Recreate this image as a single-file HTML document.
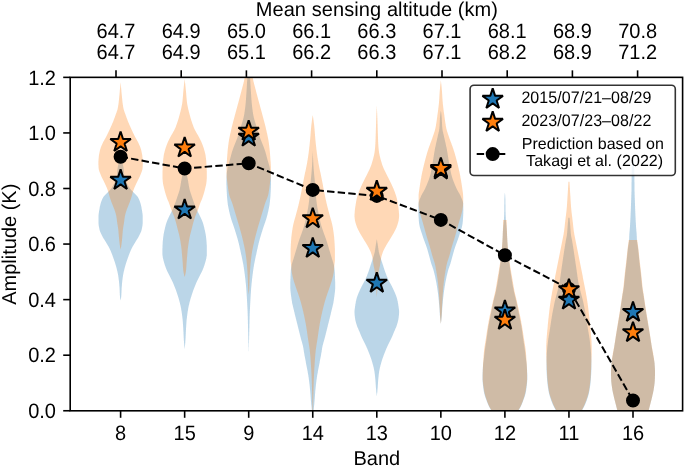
<!DOCTYPE html>
<html><head><meta charset="utf-8"><style>
html,body{margin:0;padding:0;background:#fff;}
body{width:685px;height:467px;overflow:hidden;font-family:"Liberation Sans",sans-serif;}
svg{display:block;will-change:transform;}
</style></head><body>
<svg width="685" height="467" viewBox="0 0 685 467" text-rendering="geometricPrecision">
<rect width="685" height="467" fill="#fff"/>
<defs><clipPath id="ax"><rect x="70.2" y="77.35" width="612.4" height="333.45000000000005"/></clipPath></defs>
<g clip-path="url(#ax)">
<path d="M120.6,158.0 L120.4,158.5 L120.2,159.0 L120.0,159.5 L119.8,160.0 L119.6,160.5 L119.4,161.0 L119.3,161.5 L119.1,162.0 L118.9,162.5 L118.8,163.0 L118.6,163.5 L118.5,164.0 L118.4,164.5 L118.2,165.0 L118.1,165.5 L118.0,166.0 L117.9,166.5 L117.8,167.0 L117.7,167.5 L117.7,168.0 L117.6,168.5 L117.5,169.0 L117.5,169.5 L117.4,170.0 L117.3,170.5 L117.3,171.0 L117.3,171.5 L117.2,172.0 L117.2,172.5 L117.2,173.0 L117.1,173.5 L117.1,174.0 L117.1,174.5 L117.0,175.0 L117.0,175.5 L116.9,176.0 L116.8,176.5 L116.7,177.0 L116.6,177.5 L116.4,178.0 L116.3,178.5 L116.1,179.0 L115.9,179.5 L115.7,180.0 L115.4,180.5 L115.2,181.0 L115.0,181.5 L114.8,182.0 L114.6,182.5 L114.4,183.0 L114.1,183.5 L113.9,184.0 L113.6,184.5 L113.4,185.0 L113.1,185.5 L112.8,186.0 L112.5,186.5 L112.2,187.0 L111.9,187.5 L111.6,188.0 L111.2,188.5 L110.9,189.0 L110.4,189.5 L110.0,190.0 L109.5,190.5 L109.0,191.0 L108.5,191.5 L108.1,192.0 L107.6,192.5 L107.1,193.0 L106.6,193.5 L106.1,194.0 L105.6,194.5 L105.1,195.0 L104.6,195.5 L104.2,196.0 L103.7,196.5 L103.4,197.0 L103.1,197.5 L102.8,198.0 L102.6,198.5 L102.3,199.0 L102.1,199.5 L101.9,200.0 L101.7,200.5 L101.5,201.0 L101.3,201.5 L101.1,202.0 L101.0,202.5 L100.8,203.0 L100.7,203.5 L100.5,204.0 L100.4,204.5 L100.3,205.0 L100.2,205.5 L100.0,206.0 L99.9,206.5 L99.8,207.0 L99.7,207.5 L99.6,208.0 L99.6,208.5 L99.5,209.0 L99.4,209.5 L99.3,210.0 L99.2,210.5 L99.1,211.0 L99.0,211.5 L99.0,212.0 L98.9,212.5 L98.8,213.0 L98.7,213.5 L98.7,214.0 L98.6,214.5 L98.6,215.0 L98.5,215.5 L98.5,216.0 L98.5,216.5 L98.5,217.0 L98.5,217.5 L98.5,218.0 L98.5,218.5 L98.5,219.0 L98.5,219.5 L98.5,220.0 L98.5,220.5 L98.5,221.0 L98.5,221.5 L98.5,222.0 L98.5,222.5 L98.5,223.0 L98.5,223.5 L98.6,224.0 L98.6,224.5 L98.7,225.0 L98.7,225.5 L98.8,226.0 L98.9,226.5 L99.0,227.0 L99.1,227.5 L99.2,228.0 L99.3,228.5 L99.4,229.0 L99.5,229.5 L99.6,230.0 L99.8,230.5 L99.9,231.0 L100.1,231.5 L100.3,232.0 L100.5,232.5 L100.8,233.0 L101.0,233.5 L101.2,234.0 L101.5,234.5 L101.7,235.0 L102.0,235.5 L102.2,236.0 L102.5,236.5 L102.7,237.0 L103.0,237.5 L103.3,238.0 L103.6,238.5 L103.9,239.0 L104.3,239.5 L104.6,240.0 L104.9,240.5 L105.2,241.0 L105.5,241.5 L105.8,242.0 L106.1,242.5 L106.4,243.0 L106.7,243.5 L107.0,244.0 L107.3,244.5 L107.6,245.0 L107.9,245.5 L108.2,246.0 L108.5,246.5 L108.8,247.0 L109.0,247.5 L109.3,248.0 L109.5,248.5 L109.8,249.0 L110.0,249.5 L110.2,250.0 L110.5,250.5 L110.7,251.0 L110.9,251.5 L111.1,252.0 L111.3,252.5 L111.5,253.0 L111.7,253.5 L111.9,254.0 L112.1,254.5 L112.3,255.0 L112.5,255.5 L112.6,256.0 L112.8,256.5 L113.0,257.0 L113.2,257.5 L113.4,258.0 L113.5,258.5 L113.7,259.0 L113.9,259.5 L114.1,260.0 L114.2,260.5 L114.4,261.0 L114.6,261.5 L114.8,262.0 L114.9,262.5 L115.1,263.0 L115.2,263.5 L115.4,264.0 L115.5,264.5 L115.7,265.0 L115.8,265.5 L116.0,266.0 L116.1,266.5 L116.3,267.0 L116.4,267.5 L116.5,268.0 L116.7,268.5 L116.8,269.0 L116.9,269.5 L117.0,270.0 L117.1,270.5 L117.3,271.0 L117.4,271.5 L117.5,272.0 L117.6,272.5 L117.7,273.0 L117.8,273.5 L117.9,274.0 L118.0,274.5 L118.1,275.0 L118.2,275.5 L118.3,276.0 L118.3,276.5 L118.4,277.0 L118.5,277.5 L118.5,278.0 L118.6,278.5 L118.7,279.0 L118.7,279.5 L118.8,280.0 L118.9,280.5 L118.9,281.0 L119.0,281.5 L119.0,282.0 L119.1,282.5 L119.1,283.0 L119.2,283.5 L119.2,284.0 L119.3,284.5 L119.3,285.0 L119.3,285.5 L119.4,286.0 L119.4,286.5 L119.5,287.0 L119.5,287.5 L119.5,288.0 L119.6,288.5 L119.6,289.0 L119.6,289.5 L119.6,290.0 L119.7,290.5 L119.7,291.0 L119.7,291.5 L119.7,292.0 L119.7,292.5 L119.8,293.0 L119.8,293.5 L119.8,294.0 L119.8,294.5 L119.9,295.0 L119.9,295.5 L119.9,296.0 L120.0,296.5 L120.0,297.0 L120.1,297.5 L120.2,298.0 L120.2,298.5 L120.3,299.0 L120.4,299.5 L120.5,300.0 L120.6,300.5 L120.6,300.7 L120.6,300.7 L120.6,300.5 L120.7,300.0 L120.8,299.5 L120.9,299.0 L121.0,298.5 L121.0,298.0 L121.1,297.5 L121.2,297.0 L121.2,296.5 L121.3,296.0 L121.3,295.5 L121.3,295.0 L121.4,294.5 L121.4,294.0 L121.4,293.5 L121.4,293.0 L121.5,292.5 L121.5,292.0 L121.5,291.5 L121.5,291.0 L121.5,290.5 L121.6,290.0 L121.6,289.5 L121.6,289.0 L121.6,288.5 L121.7,288.0 L121.7,287.5 L121.7,287.0 L121.8,286.5 L121.8,286.0 L121.9,285.5 L121.9,285.0 L121.9,284.5 L122.0,284.0 L122.0,283.5 L122.1,283.0 L122.1,282.5 L122.2,282.0 L122.2,281.5 L122.3,281.0 L122.3,280.5 L122.4,280.0 L122.5,279.5 L122.5,279.0 L122.6,278.5 L122.7,278.0 L122.7,277.5 L122.8,277.0 L122.9,276.5 L122.9,276.0 L123.0,275.5 L123.1,275.0 L123.2,274.5 L123.3,274.0 L123.4,273.5 L123.5,273.0 L123.6,272.5 L123.7,272.0 L123.8,271.5 L123.9,271.0 L124.1,270.5 L124.2,270.0 L124.3,269.5 L124.4,269.0 L124.5,268.5 L124.7,268.0 L124.8,267.5 L124.9,267.0 L125.1,266.5 L125.2,266.0 L125.4,265.5 L125.5,265.0 L125.7,264.5 L125.8,264.0 L126.0,263.5 L126.1,263.0 L126.3,262.5 L126.4,262.0 L126.6,261.5 L126.8,261.0 L127.0,260.5 L127.1,260.0 L127.3,259.5 L127.5,259.0 L127.7,258.5 L127.8,258.0 L128.0,257.5 L128.2,257.0 L128.4,256.5 L128.6,256.0 L128.7,255.5 L128.9,255.0 L129.1,254.5 L129.3,254.0 L129.5,253.5 L129.7,253.0 L129.9,252.5 L130.1,252.0 L130.3,251.5 L130.5,251.0 L130.7,250.5 L131.0,250.0 L131.2,249.5 L131.4,249.0 L131.7,248.5 L131.9,248.0 L132.2,247.5 L132.4,247.0 L132.7,246.5 L133.0,246.0 L133.3,245.5 L133.6,245.0 L133.9,244.5 L134.2,244.0 L134.5,243.5 L134.8,243.0 L135.1,242.5 L135.4,242.0 L135.7,241.5 L136.0,241.0 L136.3,240.5 L136.6,240.0 L136.9,239.5 L137.3,239.0 L137.6,238.5 L137.9,238.0 L138.2,237.5 L138.5,237.0 L138.7,236.5 L139.0,236.0 L139.2,235.5 L139.5,235.0 L139.7,234.5 L140.0,234.0 L140.2,233.5 L140.4,233.0 L140.7,232.5 L140.9,232.0 L141.1,231.5 L141.3,231.0 L141.4,230.5 L141.6,230.0 L141.7,229.5 L141.8,229.0 L141.9,228.5 L142.0,228.0 L142.1,227.5 L142.2,227.0 L142.3,226.5 L142.4,226.0 L142.5,225.5 L142.5,225.0 L142.6,224.5 L142.6,224.0 L142.7,223.5 L142.7,223.0 L142.7,222.5 L142.7,222.0 L142.7,221.5 L142.7,221.0 L142.7,220.5 L142.7,220.0 L142.7,219.5 L142.7,219.0 L142.7,218.5 L142.7,218.0 L142.7,217.5 L142.7,217.0 L142.7,216.5 L142.7,216.0 L142.7,215.5 L142.6,215.0 L142.6,214.5 L142.5,214.0 L142.5,213.5 L142.4,213.0 L142.3,212.5 L142.2,212.0 L142.2,211.5 L142.1,211.0 L142.0,210.5 L141.9,210.0 L141.8,209.5 L141.7,209.0 L141.6,208.5 L141.6,208.0 L141.5,207.5 L141.4,207.0 L141.3,206.5 L141.2,206.0 L141.0,205.5 L140.9,205.0 L140.8,204.5 L140.7,204.0 L140.5,203.5 L140.4,203.0 L140.2,202.5 L140.1,202.0 L139.9,201.5 L139.7,201.0 L139.5,200.5 L139.3,200.0 L139.1,199.5 L138.9,199.0 L138.6,198.5 L138.4,198.0 L138.1,197.5 L137.8,197.0 L137.5,196.5 L137.0,196.0 L136.6,195.5 L136.1,195.0 L135.6,194.5 L135.1,194.0 L134.6,193.5 L134.1,193.0 L133.6,192.5 L133.1,192.0 L132.7,191.5 L132.2,191.0 L131.7,190.5 L131.2,190.0 L130.8,189.5 L130.3,189.0 L130.0,188.5 L129.6,188.0 L129.3,187.5 L129.0,187.0 L128.7,186.5 L128.4,186.0 L128.1,185.5 L127.8,185.0 L127.6,184.5 L127.3,184.0 L127.1,183.5 L126.8,183.0 L126.6,182.5 L126.4,182.0 L126.2,181.5 L126.0,181.0 L125.8,180.5 L125.5,180.0 L125.3,179.5 L125.1,179.0 L124.9,178.5 L124.8,178.0 L124.6,177.5 L124.5,177.0 L124.4,176.5 L124.3,176.0 L124.2,175.5 L124.2,175.0 L124.1,174.5 L124.1,174.0 L124.1,173.5 L124.0,173.0 L124.0,172.5 L124.0,172.0 L123.9,171.5 L123.9,171.0 L123.9,170.5 L123.8,170.0 L123.7,169.5 L123.7,169.0 L123.6,168.5 L123.5,168.0 L123.5,167.5 L123.4,167.0 L123.3,166.5 L123.2,166.0 L123.1,165.5 L123.0,165.0 L122.8,164.5 L122.7,164.0 L122.6,163.5 L122.4,163.0 L122.3,162.5 L122.1,162.0 L121.9,161.5 L121.8,161.0 L121.6,160.5 L121.4,160.0 L121.2,159.5 L121.0,159.0 L120.8,158.5 L120.6,158.0 Z" fill="#1f77b4" fill-opacity="0.3"/>
<path d="M184.6,165.0 L184.5,165.5 L184.3,166.0 L184.1,166.5 L184.0,167.0 L183.8,167.5 L183.7,168.0 L183.5,168.5 L183.4,169.0 L183.3,169.5 L183.1,170.0 L183.0,170.5 L183.0,171.0 L182.9,171.5 L182.8,172.0 L182.7,172.5 L182.6,173.0 L182.6,173.5 L182.5,174.0 L182.4,174.5 L182.3,175.0 L182.3,175.5 L182.2,176.0 L182.1,176.5 L182.0,177.0 L181.9,177.5 L181.8,178.0 L181.7,178.5 L181.6,179.0 L181.5,179.5 L181.4,180.0 L181.3,180.5 L181.2,181.0 L181.1,181.5 L181.0,182.0 L181.0,182.5 L180.9,183.0 L180.8,183.5 L180.7,184.0 L180.6,184.5 L180.6,185.0 L180.5,185.5 L180.4,186.0 L180.3,186.5 L180.2,187.0 L180.1,187.5 L180.0,188.0 L179.9,188.5 L179.8,189.0 L179.7,189.5 L179.6,190.0 L179.4,190.5 L179.3,191.0 L179.1,191.5 L179.0,192.0 L178.8,192.5 L178.6,193.0 L178.5,193.5 L178.3,194.0 L178.1,194.5 L178.0,195.0 L177.8,195.5 L177.6,196.0 L177.4,196.5 L177.3,197.0 L177.1,197.5 L177.0,198.0 L176.8,198.5 L176.6,199.0 L176.4,199.5 L176.3,200.0 L176.1,200.5 L175.9,201.0 L175.8,201.5 L175.6,202.0 L175.4,202.5 L175.2,203.0 L175.0,203.5 L174.8,204.0 L174.6,204.5 L174.4,205.0 L174.2,205.5 L174.0,206.0 L173.8,206.5 L173.6,207.0 L173.4,207.5 L173.2,208.0 L173.0,208.5 L172.8,209.0 L172.5,209.5 L172.3,210.0 L172.1,210.5 L171.8,211.0 L171.6,211.5 L171.4,212.0 L171.1,212.5 L170.9,213.0 L170.6,213.5 L170.3,214.0 L170.1,214.5 L169.8,215.0 L169.6,215.5 L169.3,216.0 L169.1,216.5 L168.9,217.0 L168.6,217.5 L168.4,218.0 L168.2,218.5 L167.9,219.0 L167.7,219.5 L167.5,220.0 L167.3,220.5 L167.1,221.0 L166.9,221.5 L166.7,222.0 L166.5,222.5 L166.4,223.0 L166.2,223.5 L166.0,224.0 L165.9,224.5 L165.8,225.0 L165.6,225.5 L165.5,226.0 L165.4,226.5 L165.2,227.0 L165.1,227.5 L165.0,228.0 L164.9,228.5 L164.8,229.0 L164.7,229.5 L164.5,230.0 L164.4,230.5 L164.3,231.0 L164.2,231.5 L164.1,232.0 L164.0,232.5 L163.9,233.0 L163.8,233.5 L163.7,234.0 L163.6,234.5 L163.5,235.0 L163.5,235.5 L163.4,236.0 L163.3,236.5 L163.3,237.0 L163.2,237.5 L163.1,238.0 L163.1,238.5 L163.0,239.0 L163.0,239.5 L162.9,240.0 L162.9,240.5 L162.8,241.0 L162.8,241.5 L162.7,242.0 L162.7,242.5 L162.7,243.0 L162.7,243.5 L162.6,244.0 L162.6,244.5 L162.6,245.0 L162.5,245.5 L162.5,246.0 L162.5,246.5 L162.5,247.0 L162.5,247.5 L162.5,248.0 L162.4,248.5 L162.4,249.0 L162.4,249.5 L162.4,250.0 L162.4,250.5 L162.4,251.0 L162.4,251.5 L162.4,252.0 L162.4,252.5 L162.4,253.0 L162.4,253.5 L162.4,254.0 L162.4,254.5 L162.5,255.0 L162.5,255.5 L162.6,256.0 L162.7,256.5 L162.8,257.0 L162.8,257.5 L162.9,258.0 L163.0,258.5 L163.2,259.0 L163.3,259.5 L163.4,260.0 L163.5,260.5 L163.7,261.0 L163.8,261.5 L163.9,262.0 L164.1,262.5 L164.2,263.0 L164.4,263.5 L164.5,264.0 L164.7,264.5 L164.8,265.0 L165.0,265.5 L165.2,266.0 L165.4,266.5 L165.5,267.0 L165.7,267.5 L165.9,268.0 L166.1,268.5 L166.3,269.0 L166.5,269.5 L166.7,270.0 L166.9,270.5 L167.1,271.0 L167.4,271.5 L167.6,272.0 L167.9,272.5 L168.1,273.0 L168.4,273.5 L168.7,274.0 L168.9,274.5 L169.2,275.0 L169.4,275.5 L169.7,276.0 L169.9,276.5 L170.2,277.0 L170.4,277.5 L170.7,278.0 L170.9,278.5 L171.2,279.0 L171.4,279.5 L171.7,280.0 L171.9,280.5 L172.2,281.0 L172.4,281.5 L172.6,282.0 L172.9,282.5 L173.1,283.0 L173.3,283.5 L173.5,284.0 L173.7,284.5 L173.9,285.0 L174.1,285.5 L174.3,286.0 L174.5,286.5 L174.7,287.0 L174.9,287.5 L175.1,288.0 L175.3,288.5 L175.5,289.0 L175.7,289.5 L175.9,290.0 L176.1,290.5 L176.2,291.0 L176.4,291.5 L176.6,292.0 L176.7,292.5 L176.9,293.0 L177.1,293.5 L177.2,294.0 L177.4,294.5 L177.6,295.0 L177.7,295.5 L177.9,296.0 L178.0,296.5 L178.2,297.0 L178.4,297.5 L178.5,298.0 L178.7,298.5 L178.8,299.0 L179.0,299.5 L179.1,300.0 L179.2,300.5 L179.4,301.0 L179.5,301.5 L179.6,302.0 L179.8,302.5 L179.9,303.0 L180.0,303.5 L180.1,304.0 L180.2,304.5 L180.4,305.0 L180.5,305.5 L180.6,306.0 L180.7,306.5 L180.8,307.0 L180.9,307.5 L181.0,308.0 L181.1,308.5 L181.2,309.0 L181.2,309.5 L181.3,310.0 L181.4,310.5 L181.5,311.0 L181.6,311.5 L181.7,312.0 L181.7,312.5 L181.8,313.0 L181.9,313.5 L181.9,314.0 L182.0,314.5 L182.1,315.0 L182.1,315.5 L182.2,316.0 L182.3,316.5 L182.3,317.0 L182.4,317.5 L182.4,318.0 L182.5,318.5 L182.6,319.0 L182.6,319.5 L182.7,320.0 L182.7,320.5 L182.7,321.0 L182.8,321.5 L182.8,322.0 L182.9,322.5 L182.9,323.0 L182.9,323.5 L183.0,324.0 L183.0,324.5 L183.0,325.0 L183.1,325.5 L183.1,326.0 L183.1,326.5 L183.2,327.0 L183.2,327.5 L183.2,328.0 L183.3,328.5 L183.3,329.0 L183.3,329.5 L183.3,330.0 L183.4,330.5 L183.4,331.0 L183.4,331.5 L183.5,332.0 L183.5,332.5 L183.5,333.0 L183.5,333.5 L183.5,334.0 L183.6,334.5 L183.6,335.0 L183.6,335.5 L183.6,336.0 L183.7,336.5 L183.7,337.0 L183.7,337.5 L183.7,338.0 L183.8,338.5 L183.8,339.0 L183.8,339.5 L183.8,340.0 L183.9,340.5 L183.9,341.0 L184.0,341.5 L184.0,342.0 L184.0,342.5 L184.1,343.0 L184.1,343.5 L184.2,344.0 L184.2,344.5 L184.2,345.0 L184.3,345.5 L184.3,346.0 L184.4,346.5 L184.4,347.0 L184.5,347.5 L184.5,348.0 L184.6,348.5 L184.6,349.0 L184.6,349.2 L184.6,349.2 L184.7,349.0 L184.7,348.5 L184.8,348.0 L184.8,347.5 L184.9,347.0 L184.9,346.5 L185.0,346.0 L185.0,345.5 L185.1,345.0 L185.1,344.5 L185.1,344.0 L185.2,343.5 L185.2,343.0 L185.3,342.5 L185.3,342.0 L185.3,341.5 L185.4,341.0 L185.4,340.5 L185.4,340.0 L185.5,339.5 L185.5,339.0 L185.5,338.5 L185.6,338.0 L185.6,337.5 L185.6,337.0 L185.6,336.5 L185.7,336.0 L185.7,335.5 L185.7,335.0 L185.7,334.5 L185.8,334.0 L185.8,333.5 L185.8,333.0 L185.8,332.5 L185.8,332.0 L185.9,331.5 L185.9,331.0 L185.9,330.5 L185.9,330.0 L186.0,329.5 L186.0,329.0 L186.0,328.5 L186.1,328.0 L186.1,327.5 L186.1,327.0 L186.2,326.5 L186.2,326.0 L186.2,325.5 L186.3,325.0 L186.3,324.5 L186.3,324.0 L186.4,323.5 L186.4,323.0 L186.4,322.5 L186.5,322.0 L186.5,321.5 L186.5,321.0 L186.6,320.5 L186.6,320.0 L186.7,319.5 L186.7,319.0 L186.8,318.5 L186.9,318.0 L186.9,317.5 L187.0,317.0 L187.0,316.5 L187.1,316.0 L187.2,315.5 L187.2,315.0 L187.3,314.5 L187.4,314.0 L187.4,313.5 L187.5,313.0 L187.6,312.5 L187.6,312.0 L187.7,311.5 L187.8,311.0 L187.9,310.5 L188.0,310.0 L188.1,309.5 L188.1,309.0 L188.2,308.5 L188.3,308.0 L188.4,307.5 L188.5,307.0 L188.6,306.5 L188.7,306.0 L188.8,305.5 L188.9,305.0 L189.1,304.5 L189.2,304.0 L189.3,303.5 L189.4,303.0 L189.5,302.5 L189.6,302.0 L189.8,301.5 L189.9,301.0 L190.1,300.5 L190.2,300.0 L190.3,299.5 L190.5,299.0 L190.6,298.5 L190.8,298.0 L190.9,297.5 L191.1,297.0 L191.3,296.5 L191.4,296.0 L191.6,295.5 L191.7,295.0 L191.9,294.5 L192.1,294.0 L192.2,293.5 L192.4,293.0 L192.6,292.5 L192.7,292.0 L192.9,291.5 L193.1,291.0 L193.2,290.5 L193.4,290.0 L193.6,289.5 L193.8,289.0 L194.0,288.5 L194.2,288.0 L194.4,287.5 L194.6,287.0 L194.8,286.5 L195.0,286.0 L195.2,285.5 L195.4,285.0 L195.6,284.5 L195.8,284.0 L196.0,283.5 L196.2,283.0 L196.4,282.5 L196.7,282.0 L196.9,281.5 L197.1,281.0 L197.4,280.5 L197.6,280.0 L197.9,279.5 L198.1,279.0 L198.4,278.5 L198.6,278.0 L198.9,277.5 L199.1,277.0 L199.4,276.5 L199.6,276.0 L199.9,275.5 L200.1,275.0 L200.4,274.5 L200.6,274.0 L200.9,273.5 L201.2,273.0 L201.4,272.5 L201.7,272.0 L201.9,271.5 L202.2,271.0 L202.4,270.5 L202.6,270.0 L202.8,269.5 L203.0,269.0 L203.2,268.5 L203.4,268.0 L203.6,267.5 L203.8,267.0 L203.9,266.5 L204.1,266.0 L204.3,265.5 L204.5,265.0 L204.6,264.5 L204.8,264.0 L204.9,263.5 L205.1,263.0 L205.2,262.5 L205.4,262.0 L205.5,261.5 L205.6,261.0 L205.8,260.5 L205.9,260.0 L206.0,259.5 L206.1,259.0 L206.3,258.5 L206.4,258.0 L206.4,257.5 L206.5,257.0 L206.6,256.5 L206.7,256.0 L206.8,255.5 L206.8,255.0 L206.8,254.5 L206.8,254.0 L206.8,253.5 L206.8,253.0 L206.8,252.5 L206.8,252.0 L206.8,251.5 L206.8,251.0 L206.8,250.5 L206.8,250.0 L206.8,249.5 L206.8,249.0 L206.8,248.5 L206.8,248.0 L206.8,247.5 L206.8,247.0 L206.8,246.5 L206.8,246.0 L206.8,245.5 L206.7,245.0 L206.7,244.5 L206.7,244.0 L206.6,243.5 L206.6,243.0 L206.6,242.5 L206.5,242.0 L206.5,241.5 L206.5,241.0 L206.4,240.5 L206.4,240.0 L206.3,239.5 L206.3,239.0 L206.2,238.5 L206.2,238.0 L206.1,237.5 L206.0,237.0 L206.0,236.5 L205.9,236.0 L205.8,235.5 L205.8,235.0 L205.7,234.5 L205.6,234.0 L205.5,233.5 L205.4,233.0 L205.3,232.5 L205.2,232.0 L205.1,231.5 L205.0,231.0 L204.9,230.5 L204.8,230.0 L204.6,229.5 L204.5,229.0 L204.4,228.5 L204.3,228.0 L204.2,227.5 L204.1,227.0 L203.9,226.5 L203.8,226.0 L203.7,225.5 L203.5,225.0 L203.4,224.5 L203.3,224.0 L203.1,223.5 L202.9,223.0 L202.8,222.5 L202.6,222.0 L202.4,221.5 L202.2,221.0 L202.0,220.5 L201.8,220.0 L201.6,219.5 L201.4,219.0 L201.1,218.5 L200.9,218.0 L200.7,217.5 L200.4,217.0 L200.2,216.5 L199.9,216.0 L199.7,215.5 L199.5,215.0 L199.2,214.5 L199.0,214.0 L198.7,213.5 L198.4,213.0 L198.2,212.5 L197.9,212.0 L197.7,211.5 L197.4,211.0 L197.2,210.5 L197.0,210.0 L196.8,209.5 L196.5,209.0 L196.3,208.5 L196.1,208.0 L195.9,207.5 L195.7,207.0 L195.5,206.5 L195.3,206.0 L195.1,205.5 L194.9,205.0 L194.7,204.5 L194.5,204.0 L194.3,203.5 L194.1,203.0 L193.9,202.5 L193.7,202.0 L193.5,201.5 L193.4,201.0 L193.2,200.5 L193.0,200.0 L192.9,199.5 L192.7,199.0 L192.5,198.5 L192.3,198.0 L192.2,197.5 L192.0,197.0 L191.8,196.5 L191.7,196.0 L191.5,195.5 L191.3,195.0 L191.2,194.5 L191.0,194.0 L190.8,193.5 L190.7,193.0 L190.5,192.5 L190.3,192.0 L190.2,191.5 L190.0,191.0 L189.9,190.5 L189.7,190.0 L189.6,189.5 L189.5,189.0 L189.4,188.5 L189.3,188.0 L189.2,187.5 L189.1,187.0 L189.0,186.5 L188.9,186.0 L188.8,185.5 L188.7,185.0 L188.7,184.5 L188.6,184.0 L188.5,183.5 L188.4,183.0 L188.3,182.5 L188.2,182.0 L188.2,181.5 L188.1,181.0 L188.0,180.5 L187.9,180.0 L187.8,179.5 L187.7,179.0 L187.6,178.5 L187.5,178.0 L187.4,177.5 L187.3,177.0 L187.2,176.5 L187.1,176.0 L187.0,175.5 L187.0,175.0 L186.9,174.5 L186.8,174.0 L186.7,173.5 L186.7,173.0 L186.6,172.5 L186.5,172.0 L186.4,171.5 L186.3,171.0 L186.3,170.5 L186.1,170.0 L186.0,169.5 L185.9,169.0 L185.8,168.5 L185.6,168.0 L185.5,167.5 L185.3,167.0 L185.2,166.5 L185.0,166.0 L184.8,165.5 L184.6,165.0 Z" fill="#1f77b4" fill-opacity="0.3"/>
<path d="M247.7,60.0 L247.7,60.5 L247.7,61.0 L247.7,61.5 L247.7,62.0 L247.7,62.5 L247.7,63.0 L247.7,63.5 L247.7,64.0 L247.7,64.5 L247.6,65.0 L247.6,65.5 L247.6,66.0 L247.6,66.5 L247.6,67.0 L247.6,67.5 L247.6,68.0 L247.6,68.5 L247.6,69.0 L247.5,69.5 L247.5,70.0 L247.5,70.5 L247.5,71.0 L247.5,71.5 L247.5,72.0 L247.5,72.5 L247.4,73.0 L247.4,73.5 L247.4,74.0 L247.4,74.5 L247.4,75.0 L247.4,75.5 L247.3,76.0 L247.3,76.5 L247.3,77.0 L247.3,77.5 L247.3,78.0 L247.3,78.5 L247.2,79.0 L247.2,79.5 L247.2,80.0 L247.2,80.5 L247.1,81.0 L247.1,81.5 L247.1,82.0 L247.0,82.5 L247.0,83.0 L247.0,83.5 L247.0,84.0 L246.9,84.5 L246.9,85.0 L246.9,85.5 L246.8,86.0 L246.8,86.5 L246.8,87.0 L246.8,87.5 L246.7,88.0 L246.7,88.5 L246.7,89.0 L246.6,89.5 L246.6,90.0 L246.6,90.5 L246.5,91.0 L246.5,91.5 L246.5,92.0 L246.4,92.5 L246.4,93.0 L246.4,93.5 L246.3,94.0 L246.3,94.5 L246.3,95.0 L246.2,95.5 L246.2,96.0 L246.2,96.5 L246.1,97.0 L246.1,97.5 L246.1,98.0 L246.0,98.5 L246.0,99.0 L246.0,99.5 L245.9,100.0 L245.9,100.5 L245.8,101.0 L245.8,101.5 L245.8,102.0 L245.7,102.5 L245.7,103.0 L245.6,103.5 L245.6,104.0 L245.5,104.5 L245.5,105.0 L245.4,105.5 L245.4,106.0 L245.3,106.5 L245.3,107.0 L245.2,107.5 L245.1,108.0 L245.1,108.5 L245.0,109.0 L244.9,109.5 L244.9,110.0 L244.8,110.5 L244.7,111.0 L244.7,111.5 L244.6,112.0 L244.5,112.5 L244.4,113.0 L244.4,113.5 L244.3,114.0 L244.2,114.5 L244.1,115.0 L244.0,115.5 L243.9,116.0 L243.8,116.5 L243.7,117.0 L243.6,117.5 L243.5,118.0 L243.3,118.5 L243.2,119.0 L243.1,119.5 L242.9,120.0 L242.8,120.5 L242.6,121.0 L242.5,121.5 L242.3,122.0 L242.2,122.5 L242.0,123.0 L241.9,123.5 L241.7,124.0 L241.6,124.5 L241.4,125.0 L241.2,125.5 L241.1,126.0 L241.0,126.5 L240.8,127.0 L240.6,127.5 L240.5,128.0 L240.3,128.5 L240.2,129.0 L240.0,129.5 L239.9,130.0 L239.7,130.5 L239.5,131.0 L239.4,131.5 L239.2,132.0 L239.1,132.5 L238.9,133.0 L238.7,133.5 L238.6,134.0 L238.4,134.5 L238.3,135.0 L238.1,135.5 L237.9,136.0 L237.8,136.5 L237.6,137.0 L237.5,137.5 L237.3,138.0 L237.1,138.5 L236.9,139.0 L236.7,139.5 L236.5,140.0 L236.3,140.5 L236.1,141.0 L235.9,141.5 L235.7,142.0 L235.5,142.5 L235.3,143.0 L235.1,143.5 L234.9,144.0 L234.7,144.5 L234.5,145.0 L234.3,145.5 L234.1,146.0 L233.9,146.5 L233.7,147.0 L233.5,147.5 L233.3,148.0 L233.2,148.5 L233.0,149.0 L232.8,149.5 L232.6,150.0 L232.5,150.5 L232.3,151.0 L232.1,151.5 L232.0,152.0 L231.8,152.5 L231.7,153.0 L231.6,153.5 L231.4,154.0 L231.3,154.5 L231.1,155.0 L231.0,155.5 L230.9,156.0 L230.8,156.5 L230.6,157.0 L230.5,157.5 L230.4,158.0 L230.2,158.5 L230.1,159.0 L230.0,159.5 L229.8,160.0 L229.7,160.5 L229.5,161.0 L229.4,161.5 L229.2,162.0 L229.1,162.5 L228.9,163.0 L228.8,163.5 L228.6,164.0 L228.5,164.5 L228.3,165.0 L228.2,165.5 L228.1,166.0 L227.9,166.5 L227.8,167.0 L227.7,167.5 L227.6,168.0 L227.5,168.5 L227.4,169.0 L227.3,169.5 L227.2,170.0 L227.2,170.5 L227.1,171.0 L227.0,171.5 L226.9,172.0 L226.9,172.5 L226.8,173.0 L226.8,173.5 L226.7,174.0 L226.7,174.5 L226.6,175.0 L226.6,175.5 L226.6,176.0 L226.6,176.5 L226.5,177.0 L226.5,177.5 L226.5,178.0 L226.5,178.5 L226.5,179.0 L226.4,179.5 L226.4,180.0 L226.4,180.5 L226.4,181.0 L226.4,181.5 L226.4,182.0 L226.4,182.5 L226.4,183.0 L226.4,183.5 L226.4,184.0 L226.4,184.5 L226.4,185.0 L226.5,185.5 L226.5,186.0 L226.5,186.5 L226.5,187.0 L226.5,187.5 L226.5,188.0 L226.6,188.5 L226.6,189.0 L226.6,189.5 L226.6,190.0 L226.7,190.5 L226.7,191.0 L226.7,191.5 L226.7,192.0 L226.8,192.5 L226.8,193.0 L226.8,193.5 L226.9,194.0 L226.9,194.5 L226.9,195.0 L226.9,195.5 L227.0,196.0 L227.0,196.5 L227.0,197.0 L227.1,197.5 L227.1,198.0 L227.2,198.5 L227.2,199.0 L227.3,199.5 L227.3,200.0 L227.4,200.5 L227.4,201.0 L227.5,201.5 L227.5,202.0 L227.6,202.5 L227.7,203.0 L227.7,203.5 L227.8,204.0 L227.8,204.5 L227.9,205.0 L228.0,205.5 L228.1,206.0 L228.2,206.5 L228.3,207.0 L228.4,207.5 L228.5,208.0 L228.6,208.5 L228.7,209.0 L228.8,209.5 L228.9,210.0 L229.0,210.5 L229.1,211.0 L229.2,211.5 L229.3,212.0 L229.5,212.5 L229.6,213.0 L229.7,213.5 L229.8,214.0 L229.9,214.5 L230.1,215.0 L230.2,215.5 L230.3,216.0 L230.5,216.5 L230.6,217.0 L230.7,217.5 L230.9,218.0 L231.0,218.5 L231.2,219.0 L231.3,219.5 L231.5,220.0 L231.7,220.5 L231.8,221.0 L232.0,221.5 L232.2,222.0 L232.3,222.5 L232.5,223.0 L232.7,223.5 L232.9,224.0 L233.0,224.5 L233.2,225.0 L233.4,225.5 L233.6,226.0 L233.7,226.5 L233.9,227.0 L234.1,227.5 L234.2,228.0 L234.4,228.5 L234.6,229.0 L234.7,229.5 L234.9,230.0 L235.0,230.5 L235.2,231.0 L235.3,231.5 L235.5,232.0 L235.7,232.5 L235.8,233.0 L236.0,233.5 L236.1,234.0 L236.3,234.5 L236.4,235.0 L236.6,235.5 L236.7,236.0 L236.9,236.5 L237.0,237.0 L237.2,237.5 L237.3,238.0 L237.5,238.5 L237.6,239.0 L237.7,239.5 L237.9,240.0 L238.0,240.5 L238.1,241.0 L238.3,241.5 L238.4,242.0 L238.5,242.5 L238.7,243.0 L238.8,243.5 L238.9,244.0 L239.0,244.5 L239.1,245.0 L239.3,245.5 L239.4,246.0 L239.5,246.5 L239.6,247.0 L239.7,247.5 L239.8,248.0 L239.9,248.5 L240.0,249.0 L240.2,249.5 L240.3,250.0 L240.4,250.5 L240.5,251.0 L240.6,251.5 L240.7,252.0 L240.8,252.5 L240.9,253.0 L241.0,253.5 L241.1,254.0 L241.2,254.5 L241.3,255.0 L241.5,255.5 L241.6,256.0 L241.7,256.5 L241.8,257.0 L241.9,257.5 L242.0,258.0 L242.1,258.5 L242.2,259.0 L242.3,259.5 L242.4,260.0 L242.5,260.5 L242.6,261.0 L242.7,261.5 L242.8,262.0 L242.9,262.5 L243.0,263.0 L243.1,263.5 L243.2,264.0 L243.3,264.5 L243.4,265.0 L243.5,265.5 L243.5,266.0 L243.6,266.5 L243.7,267.0 L243.8,267.5 L243.9,268.0 L243.9,268.5 L244.0,269.0 L244.1,269.5 L244.2,270.0 L244.2,270.5 L244.3,271.0 L244.4,271.5 L244.4,272.0 L244.5,272.5 L244.6,273.0 L244.6,273.5 L244.7,274.0 L244.8,274.5 L244.8,275.0 L244.9,275.5 L245.0,276.0 L245.0,276.5 L245.1,277.0 L245.1,277.5 L245.2,278.0 L245.3,278.5 L245.3,279.0 L245.4,279.5 L245.4,280.0 L245.5,280.5 L245.5,281.0 L245.6,281.5 L245.6,282.0 L245.7,282.5 L245.7,283.0 L245.8,283.5 L245.9,284.0 L245.9,284.5 L245.9,285.0 L246.0,285.5 L246.0,286.0 L246.1,286.5 L246.1,287.0 L246.2,287.5 L246.2,288.0 L246.3,288.5 L246.3,289.0 L246.3,289.5 L246.4,290.0 L246.4,290.5 L246.4,291.0 L246.5,291.5 L246.5,292.0 L246.5,292.5 L246.6,293.0 L246.6,293.5 L246.6,294.0 L246.7,294.5 L246.7,295.0 L246.7,295.5 L246.8,296.0 L246.8,296.5 L246.8,297.0 L246.9,297.5 L246.9,298.0 L246.9,298.5 L246.9,299.0 L247.0,299.5 L247.0,300.0 L247.0,300.5 L247.0,301.0 L247.1,301.5 L247.1,302.0 L247.1,302.5 L247.2,303.0 L247.2,303.5 L247.2,304.0 L247.2,304.5 L247.3,305.0 L247.3,305.5 L247.3,306.0 L247.3,306.5 L247.4,307.0 L247.4,307.5 L247.4,308.0 L247.4,308.5 L247.5,309.0 L247.5,309.5 L247.5,310.0 L247.5,310.5 L247.6,311.0 L247.6,311.5 L247.6,312.0 L247.6,312.5 L247.6,313.0 L247.7,313.5 L247.7,314.0 L247.7,314.5 L247.7,315.0 L247.7,315.5 L247.7,316.0 L247.8,316.5 L247.8,317.0 L247.8,317.5 L247.8,318.0 L247.8,318.5 L247.8,319.0 L247.8,319.5 L247.9,320.0 L247.9,320.5 L247.9,321.0 L247.9,321.5 L247.9,322.0 L247.9,322.5 L247.9,323.0 L247.9,323.5 L248.0,324.0 L248.0,324.5 L248.0,325.0 L248.0,325.5 L248.0,326.0 L248.0,326.5 L248.0,327.0 L248.0,327.5 L248.0,328.0 L248.1,328.5 L248.1,329.0 L248.1,329.5 L248.1,330.0 L248.1,330.5 L248.1,331.0 L248.1,331.5 L248.2,332.0 L248.2,332.5 L248.2,333.0 L248.2,333.5 L248.2,334.0 L248.2,334.5 L248.2,335.0 L248.2,335.5 L248.3,336.0 L248.3,336.5 L248.3,337.0 L248.3,337.5 L248.3,338.0 L248.3,338.5 L248.3,339.0 L248.3,339.5 L248.4,340.0 L248.4,340.5 L248.4,341.0 L248.4,341.5 L248.4,342.0 L248.4,342.5 L248.4,343.0 L248.5,343.5 L248.5,344.0 L248.5,344.5 L248.5,345.0 L248.5,345.5 L248.5,346.0 L248.5,346.5 L248.5,347.0 L248.6,347.5 L248.6,348.0 L248.6,348.5 L248.6,349.0 L248.6,349.5 L248.6,350.0 L248.6,350.5 L248.6,351.0 L248.7,351.5 L248.7,352.0 L248.7,352.5 L248.7,353.0 L248.7,353.0 L248.7,352.5 L248.7,352.0 L248.7,351.5 L248.8,351.0 L248.8,350.5 L248.8,350.0 L248.8,349.5 L248.8,349.0 L248.8,348.5 L248.8,348.0 L248.8,347.5 L248.9,347.0 L248.9,346.5 L248.9,346.0 L248.9,345.5 L248.9,345.0 L248.9,344.5 L248.9,344.0 L248.9,343.5 L249.0,343.0 L249.0,342.5 L249.0,342.0 L249.0,341.5 L249.0,341.0 L249.0,340.5 L249.0,340.0 L249.1,339.5 L249.1,339.0 L249.1,338.5 L249.1,338.0 L249.1,337.5 L249.1,337.0 L249.1,336.5 L249.1,336.0 L249.2,335.5 L249.2,335.0 L249.2,334.5 L249.2,334.0 L249.2,333.5 L249.2,333.0 L249.2,332.5 L249.2,332.0 L249.3,331.5 L249.3,331.0 L249.3,330.5 L249.3,330.0 L249.3,329.5 L249.3,329.0 L249.3,328.5 L249.4,328.0 L249.4,327.5 L249.4,327.0 L249.4,326.5 L249.4,326.0 L249.4,325.5 L249.4,325.0 L249.4,324.5 L249.4,324.0 L249.5,323.5 L249.5,323.0 L249.5,322.5 L249.5,322.0 L249.5,321.5 L249.5,321.0 L249.5,320.5 L249.5,320.0 L249.6,319.5 L249.6,319.0 L249.6,318.5 L249.6,318.0 L249.6,317.5 L249.6,317.0 L249.6,316.5 L249.7,316.0 L249.7,315.5 L249.7,315.0 L249.7,314.5 L249.7,314.0 L249.7,313.5 L249.8,313.0 L249.8,312.5 L249.8,312.0 L249.8,311.5 L249.8,311.0 L249.9,310.5 L249.9,310.0 L249.9,309.5 L249.9,309.0 L250.0,308.5 L250.0,308.0 L250.0,307.5 L250.0,307.0 L250.1,306.5 L250.1,306.0 L250.1,305.5 L250.1,305.0 L250.2,304.5 L250.2,304.0 L250.2,303.5 L250.2,303.0 L250.3,302.5 L250.3,302.0 L250.3,301.5 L250.4,301.0 L250.4,300.5 L250.4,300.0 L250.4,299.5 L250.5,299.0 L250.5,298.5 L250.5,298.0 L250.5,297.5 L250.6,297.0 L250.6,296.5 L250.6,296.0 L250.7,295.5 L250.7,295.0 L250.7,294.5 L250.8,294.0 L250.8,293.5 L250.8,293.0 L250.9,292.5 L250.9,292.0 L250.9,291.5 L251.0,291.0 L251.0,290.5 L251.0,290.0 L251.1,289.5 L251.1,289.0 L251.1,288.5 L251.2,288.0 L251.2,287.5 L251.3,287.0 L251.3,286.5 L251.4,286.0 L251.4,285.5 L251.5,285.0 L251.5,284.5 L251.5,284.0 L251.6,283.5 L251.7,283.0 L251.7,282.5 L251.8,282.0 L251.8,281.5 L251.9,281.0 L251.9,280.5 L252.0,280.0 L252.0,279.5 L252.1,279.0 L252.1,278.5 L252.2,278.0 L252.3,277.5 L252.3,277.0 L252.4,276.5 L252.4,276.0 L252.5,275.5 L252.6,275.0 L252.6,274.5 L252.7,274.0 L252.8,273.5 L252.8,273.0 L252.9,272.5 L253.0,272.0 L253.0,271.5 L253.1,271.0 L253.2,270.5 L253.2,270.0 L253.3,269.5 L253.4,269.0 L253.5,268.5 L253.5,268.0 L253.6,267.5 L253.7,267.0 L253.8,266.5 L253.9,266.0 L253.9,265.5 L254.0,265.0 L254.1,264.5 L254.2,264.0 L254.3,263.5 L254.4,263.0 L254.5,262.5 L254.6,262.0 L254.7,261.5 L254.8,261.0 L254.9,260.5 L255.0,260.0 L255.1,259.5 L255.2,259.0 L255.3,258.5 L255.4,258.0 L255.5,257.5 L255.6,257.0 L255.7,256.5 L255.8,256.0 L255.9,255.5 L256.1,255.0 L256.2,254.5 L256.3,254.0 L256.4,253.5 L256.5,253.0 L256.6,252.5 L256.7,252.0 L256.8,251.5 L256.9,251.0 L257.0,250.5 L257.1,250.0 L257.2,249.5 L257.4,249.0 L257.5,248.5 L257.6,248.0 L257.7,247.5 L257.8,247.0 L257.9,246.5 L258.0,246.0 L258.1,245.5 L258.3,245.0 L258.4,244.5 L258.5,244.0 L258.6,243.5 L258.7,243.0 L258.9,242.5 L259.0,242.0 L259.1,241.5 L259.3,241.0 L259.4,240.5 L259.5,240.0 L259.7,239.5 L259.8,239.0 L259.9,238.5 L260.1,238.0 L260.2,237.5 L260.4,237.0 L260.5,236.5 L260.7,236.0 L260.8,235.5 L261.0,235.0 L261.1,234.5 L261.3,234.0 L261.4,233.5 L261.6,233.0 L261.7,232.5 L261.9,232.0 L262.1,231.5 L262.2,231.0 L262.4,230.5 L262.5,230.0 L262.7,229.5 L262.8,229.0 L263.0,228.5 L263.2,228.0 L263.3,227.5 L263.5,227.0 L263.7,226.5 L263.8,226.0 L264.0,225.5 L264.2,225.0 L264.4,224.5 L264.5,224.0 L264.7,223.5 L264.9,223.0 L265.1,222.5 L265.2,222.0 L265.4,221.5 L265.6,221.0 L265.7,220.5 L265.9,220.0 L266.1,219.5 L266.2,219.0 L266.4,218.5 L266.5,218.0 L266.7,217.5 L266.8,217.0 L266.9,216.5 L267.1,216.0 L267.2,215.5 L267.3,215.0 L267.5,214.5 L267.6,214.0 L267.7,213.5 L267.8,213.0 L267.9,212.5 L268.1,212.0 L268.2,211.5 L268.3,211.0 L268.4,210.5 L268.5,210.0 L268.6,209.5 L268.7,209.0 L268.8,208.5 L268.9,208.0 L269.0,207.5 L269.1,207.0 L269.2,206.5 L269.3,206.0 L269.4,205.5 L269.5,205.0 L269.6,204.5 L269.6,204.0 L269.7,203.5 L269.7,203.0 L269.8,202.5 L269.9,202.0 L269.9,201.5 L270.0,201.0 L270.0,200.5 L270.1,200.0 L270.1,199.5 L270.2,199.0 L270.2,198.5 L270.3,198.0 L270.3,197.5 L270.4,197.0 L270.4,196.5 L270.4,196.0 L270.5,195.5 L270.5,195.0 L270.5,194.5 L270.5,194.0 L270.6,193.5 L270.6,193.0 L270.6,192.5 L270.7,192.0 L270.7,191.5 L270.7,191.0 L270.7,190.5 L270.8,190.0 L270.8,189.5 L270.8,189.0 L270.8,188.5 L270.9,188.0 L270.9,187.5 L270.9,187.0 L270.9,186.5 L270.9,186.0 L270.9,185.5 L271.0,185.0 L271.0,184.5 L271.0,184.0 L271.0,183.5 L271.0,183.0 L271.0,182.5 L271.0,182.0 L271.0,181.5 L271.0,181.0 L271.0,180.5 L271.0,180.0 L271.0,179.5 L270.9,179.0 L270.9,178.5 L270.9,178.0 L270.9,177.5 L270.9,177.0 L270.8,176.5 L270.8,176.0 L270.8,175.5 L270.8,175.0 L270.7,174.5 L270.7,174.0 L270.6,173.5 L270.6,173.0 L270.5,172.5 L270.5,172.0 L270.4,171.5 L270.3,171.0 L270.2,170.5 L270.2,170.0 L270.1,169.5 L270.0,169.0 L269.9,168.5 L269.8,168.0 L269.7,167.5 L269.6,167.0 L269.5,166.5 L269.3,166.0 L269.2,165.5 L269.1,165.0 L268.9,164.5 L268.8,164.0 L268.6,163.5 L268.5,163.0 L268.3,162.5 L268.2,162.0 L268.0,161.5 L267.9,161.0 L267.7,160.5 L267.6,160.0 L267.4,159.5 L267.3,159.0 L267.2,158.5 L267.0,158.0 L266.9,157.5 L266.8,157.0 L266.6,156.5 L266.5,156.0 L266.4,155.5 L266.3,155.0 L266.1,154.5 L266.0,154.0 L265.8,153.5 L265.7,153.0 L265.6,152.5 L265.4,152.0 L265.3,151.5 L265.1,151.0 L264.9,150.5 L264.8,150.0 L264.6,149.5 L264.4,149.0 L264.2,148.5 L264.1,148.0 L263.9,147.5 L263.7,147.0 L263.5,146.5 L263.3,146.0 L263.1,145.5 L262.9,145.0 L262.7,144.5 L262.5,144.0 L262.3,143.5 L262.1,143.0 L261.9,142.5 L261.7,142.0 L261.5,141.5 L261.3,141.0 L261.1,140.5 L260.9,140.0 L260.7,139.5 L260.5,139.0 L260.3,138.5 L260.1,138.0 L259.9,137.5 L259.8,137.0 L259.6,136.5 L259.5,136.0 L259.3,135.5 L259.1,135.0 L259.0,134.5 L258.8,134.0 L258.7,133.5 L258.5,133.0 L258.3,132.5 L258.2,132.0 L258.0,131.5 L257.9,131.0 L257.7,130.5 L257.5,130.0 L257.4,129.5 L257.2,129.0 L257.1,128.5 L256.9,128.0 L256.8,127.5 L256.6,127.0 L256.4,126.5 L256.3,126.0 L256.2,125.5 L256.0,125.0 L255.8,124.5 L255.7,124.0 L255.5,123.5 L255.4,123.0 L255.2,122.5 L255.1,122.0 L254.9,121.5 L254.8,121.0 L254.6,120.5 L254.5,120.0 L254.3,119.5 L254.2,119.0 L254.1,118.5 L253.9,118.0 L253.8,117.5 L253.7,117.0 L253.6,116.5 L253.5,116.0 L253.4,115.5 L253.3,115.0 L253.2,114.5 L253.1,114.0 L253.0,113.5 L253.0,113.0 L252.9,112.5 L252.8,112.0 L252.7,111.5 L252.7,111.0 L252.6,110.5 L252.5,110.0 L252.5,109.5 L252.4,109.0 L252.3,108.5 L252.3,108.0 L252.2,107.5 L252.1,107.0 L252.1,106.5 L252.0,106.0 L252.0,105.5 L251.9,105.0 L251.9,104.5 L251.8,104.0 L251.8,103.5 L251.7,103.0 L251.7,102.5 L251.6,102.0 L251.6,101.5 L251.6,101.0 L251.5,100.5 L251.5,100.0 L251.4,99.5 L251.4,99.0 L251.4,98.5 L251.3,98.0 L251.3,97.5 L251.3,97.0 L251.2,96.5 L251.2,96.0 L251.2,95.5 L251.1,95.0 L251.1,94.5 L251.1,94.0 L251.0,93.5 L251.0,93.0 L251.0,92.5 L250.9,92.0 L250.9,91.5 L250.9,91.0 L250.8,90.5 L250.8,90.0 L250.8,89.5 L250.7,89.0 L250.7,88.5 L250.7,88.0 L250.6,87.5 L250.6,87.0 L250.6,86.5 L250.6,86.0 L250.5,85.5 L250.5,85.0 L250.5,84.5 L250.4,84.0 L250.4,83.5 L250.4,83.0 L250.4,82.5 L250.3,82.0 L250.3,81.5 L250.3,81.0 L250.2,80.5 L250.2,80.0 L250.2,79.5 L250.2,79.0 L250.1,78.5 L250.1,78.0 L250.1,77.5 L250.1,77.0 L250.1,76.5 L250.1,76.0 L250.0,75.5 L250.0,75.0 L250.0,74.5 L250.0,74.0 L250.0,73.5 L250.0,73.0 L249.9,72.5 L249.9,72.0 L249.9,71.5 L249.9,71.0 L249.9,70.5 L249.9,70.0 L249.9,69.5 L249.8,69.0 L249.8,68.5 L249.8,68.0 L249.8,67.5 L249.8,67.0 L249.8,66.5 L249.8,66.0 L249.8,65.5 L249.8,65.0 L249.7,64.5 L249.7,64.0 L249.7,63.5 L249.7,63.0 L249.7,62.5 L249.7,62.0 L249.7,61.5 L249.7,61.0 L249.7,60.5 L249.7,60.0 Z" fill="#1f77b4" fill-opacity="0.3"/>
<path d="M312.8,151.3 L312.7,151.8 L312.7,152.3 L312.7,152.8 L312.7,153.3 L312.6,153.8 L312.6,154.3 L312.6,154.8 L312.6,155.3 L312.6,155.8 L312.5,156.3 L312.5,156.8 L312.5,157.3 L312.5,157.8 L312.4,158.3 L312.4,158.8 L312.4,159.3 L312.4,159.8 L312.3,160.3 L312.3,160.8 L312.3,161.3 L312.3,161.8 L312.2,162.3 L312.2,162.8 L312.2,163.3 L312.1,163.8 L312.1,164.3 L312.1,164.8 L312.1,165.3 L312.0,165.8 L312.0,166.3 L312.0,166.8 L311.9,167.3 L311.9,167.8 L311.9,168.3 L311.8,168.8 L311.8,169.3 L311.7,169.8 L311.7,170.3 L311.7,170.8 L311.6,171.3 L311.6,171.8 L311.5,172.3 L311.5,172.8 L311.5,173.3 L311.4,173.8 L311.4,174.3 L311.3,174.8 L311.3,175.3 L311.2,175.8 L311.2,176.3 L311.1,176.8 L311.1,177.3 L311.0,177.8 L311.0,178.3 L310.9,178.8 L310.9,179.3 L310.8,179.8 L310.8,180.3 L310.7,180.8 L310.7,181.3 L310.6,181.8 L310.6,182.3 L310.5,182.8 L310.5,183.3 L310.4,183.8 L310.4,184.3 L310.4,184.8 L310.3,185.3 L310.3,185.8 L310.2,186.3 L310.2,186.8 L310.1,187.3 L310.1,187.8 L310.1,188.3 L310.0,188.8 L310.0,189.3 L310.0,189.8 L309.9,190.3 L309.9,190.8 L309.9,191.3 L309.8,191.8 L309.8,192.3 L309.8,192.8 L309.7,193.3 L309.7,193.8 L309.6,194.3 L309.6,194.8 L309.6,195.3 L309.5,195.8 L309.5,196.3 L309.5,196.8 L309.4,197.3 L309.4,197.8 L309.3,198.3 L309.3,198.8 L309.2,199.3 L309.2,199.8 L309.1,200.3 L309.1,200.8 L309.0,201.3 L309.0,201.8 L308.9,202.3 L308.8,202.8 L308.8,203.3 L308.7,203.8 L308.6,204.3 L308.6,204.8 L308.5,205.3 L308.4,205.8 L308.3,206.3 L308.3,206.8 L308.2,207.3 L308.1,207.8 L308.0,208.3 L307.9,208.8 L307.8,209.3 L307.7,209.8 L307.6,210.3 L307.5,210.8 L307.4,211.3 L307.3,211.8 L307.2,212.3 L307.1,212.8 L307.0,213.3 L306.9,213.8 L306.8,214.3 L306.7,214.8 L306.6,215.3 L306.5,215.8 L306.4,216.3 L306.3,216.8 L306.2,217.3 L306.1,217.8 L306.0,218.3 L305.9,218.8 L305.8,219.3 L305.6,219.8 L305.5,220.3 L305.4,220.8 L305.3,221.3 L305.2,221.8 L305.1,222.3 L305.0,222.8 L304.8,223.3 L304.7,223.8 L304.6,224.3 L304.4,224.8 L304.3,225.3 L304.2,225.8 L304.0,226.3 L303.9,226.8 L303.7,227.3 L303.5,227.8 L303.4,228.3 L303.2,228.8 L303.0,229.3 L302.9,229.8 L302.7,230.3 L302.5,230.8 L302.3,231.3 L302.2,231.8 L302.0,232.3 L301.8,232.8 L301.6,233.3 L301.5,233.8 L301.3,234.3 L301.1,234.8 L300.9,235.3 L300.7,235.8 L300.5,236.3 L300.4,236.8 L300.2,237.3 L300.0,237.8 L299.8,238.3 L299.6,238.8 L299.5,239.3 L299.3,239.8 L299.1,240.3 L299.0,240.8 L298.8,241.3 L298.6,241.8 L298.5,242.3 L298.3,242.8 L298.2,243.3 L298.0,243.8 L297.9,244.3 L297.7,244.8 L297.5,245.3 L297.4,245.8 L297.3,246.3 L297.1,246.8 L297.0,247.3 L296.8,247.8 L296.7,248.3 L296.5,248.8 L296.4,249.3 L296.2,249.8 L296.1,250.3 L295.9,250.8 L295.8,251.3 L295.6,251.8 L295.5,252.3 L295.3,252.8 L295.2,253.3 L295.0,253.8 L294.9,254.3 L294.7,254.8 L294.6,255.3 L294.4,255.8 L294.3,256.3 L294.1,256.8 L294.0,257.3 L293.8,257.8 L293.7,258.3 L293.5,258.8 L293.4,259.3 L293.2,259.8 L293.0,260.3 L292.9,260.8 L292.7,261.3 L292.6,261.8 L292.4,262.3 L292.2,262.8 L292.1,263.3 L292.0,263.8 L291.8,264.3 L291.7,264.8 L291.6,265.3 L291.5,265.8 L291.4,266.3 L291.4,266.8 L291.3,267.3 L291.2,267.8 L291.1,268.3 L291.1,268.8 L291.0,269.3 L290.9,269.8 L290.9,270.3 L290.8,270.8 L290.8,271.3 L290.8,271.8 L290.7,272.3 L290.7,272.8 L290.7,273.3 L290.6,273.8 L290.6,274.3 L290.6,274.8 L290.6,275.3 L290.6,275.8 L290.5,276.3 L290.5,276.8 L290.5,277.3 L290.5,277.8 L290.5,278.3 L290.5,278.8 L290.4,279.3 L290.4,279.8 L290.4,280.3 L290.4,280.8 L290.4,281.3 L290.3,281.8 L290.3,282.3 L290.3,282.8 L290.3,283.3 L290.3,283.8 L290.3,284.3 L290.3,284.8 L290.3,285.3 L290.3,285.8 L290.3,286.3 L290.3,286.8 L290.3,287.3 L290.3,287.8 L290.3,288.3 L290.3,288.8 L290.4,289.3 L290.4,289.8 L290.4,290.3 L290.5,290.8 L290.5,291.3 L290.6,291.8 L290.6,292.3 L290.7,292.8 L290.8,293.3 L290.8,293.8 L290.9,294.3 L290.9,294.8 L291.0,295.3 L291.1,295.8 L291.1,296.3 L291.2,296.8 L291.3,297.3 L291.4,297.8 L291.4,298.3 L291.5,298.8 L291.6,299.3 L291.6,299.8 L291.7,300.3 L291.8,300.8 L291.9,301.3 L292.0,301.8 L292.0,302.3 L292.1,302.8 L292.2,303.3 L292.3,303.8 L292.4,304.3 L292.6,304.8 L292.7,305.3 L292.8,305.8 L292.9,306.3 L293.0,306.8 L293.1,307.3 L293.3,307.8 L293.4,308.3 L293.5,308.8 L293.6,309.3 L293.8,309.8 L293.9,310.3 L294.0,310.8 L294.1,311.3 L294.2,311.8 L294.4,312.3 L294.5,312.8 L294.6,313.3 L294.7,313.8 L294.8,314.3 L294.9,314.8 L295.1,315.3 L295.2,315.8 L295.3,316.3 L295.4,316.8 L295.6,317.3 L295.7,317.8 L295.8,318.3 L295.9,318.8 L296.1,319.3 L296.2,319.8 L296.3,320.3 L296.4,320.8 L296.6,321.3 L296.7,321.8 L296.8,322.3 L296.9,322.8 L297.1,323.3 L297.2,323.8 L297.3,324.3 L297.5,324.8 L297.6,325.3 L297.7,325.8 L297.8,326.3 L297.9,326.8 L298.1,327.3 L298.2,327.8 L298.3,328.3 L298.4,328.8 L298.6,329.3 L298.7,329.8 L298.8,330.3 L298.9,330.8 L299.1,331.3 L299.2,331.8 L299.3,332.3 L299.4,332.8 L299.6,333.3 L299.7,333.8 L299.8,334.3 L299.9,334.8 L300.1,335.3 L300.2,335.8 L300.3,336.3 L300.4,336.8 L300.6,337.3 L300.7,337.8 L300.8,338.3 L301.0,338.8 L301.1,339.3 L301.2,339.8 L301.4,340.3 L301.5,340.8 L301.7,341.3 L301.8,341.8 L302.0,342.3 L302.1,342.8 L302.2,343.3 L302.4,343.8 L302.5,344.3 L302.6,344.8 L302.8,345.3 L302.9,345.8 L303.0,346.3 L303.1,346.8 L303.2,347.3 L303.3,347.8 L303.4,348.3 L303.5,348.8 L303.5,349.3 L303.6,349.8 L303.7,350.3 L303.8,350.8 L303.8,351.3 L303.9,351.8 L304.0,352.3 L304.1,352.8 L304.2,353.3 L304.3,353.8 L304.4,354.3 L304.4,354.8 L304.5,355.3 L304.6,355.8 L304.7,356.3 L304.8,356.8 L304.9,357.3 L305.0,357.8 L305.1,358.3 L305.2,358.8 L305.3,359.3 L305.4,359.8 L305.5,360.3 L305.6,360.8 L305.7,361.3 L305.8,361.8 L305.8,362.3 L305.9,362.8 L306.0,363.3 L306.1,363.8 L306.2,364.3 L306.3,364.8 L306.4,365.3 L306.5,365.8 L306.6,366.3 L306.7,366.8 L306.8,367.3 L306.9,367.8 L307.0,368.3 L307.1,368.8 L307.2,369.3 L307.3,369.8 L307.4,370.3 L307.5,370.8 L307.6,371.3 L307.7,371.8 L307.7,372.3 L307.8,372.8 L307.9,373.3 L308.0,373.8 L308.1,374.3 L308.2,374.8 L308.3,375.3 L308.4,375.8 L308.4,376.3 L308.5,376.8 L308.6,377.3 L308.7,377.8 L308.7,378.3 L308.8,378.8 L308.9,379.3 L308.9,379.8 L309.0,380.3 L309.1,380.8 L309.1,381.3 L309.2,381.8 L309.3,382.3 L309.3,382.8 L309.4,383.3 L309.4,383.8 L309.5,384.3 L309.6,384.8 L309.6,385.3 L309.7,385.8 L309.7,386.3 L309.8,386.8 L309.8,387.3 L309.9,387.8 L309.9,388.3 L310.0,388.8 L310.0,389.3 L310.1,389.8 L310.1,390.3 L310.2,390.8 L310.2,391.3 L310.3,391.8 L310.3,392.3 L310.3,392.8 L310.4,393.3 L310.4,393.8 L310.5,394.3 L310.5,394.8 L310.5,395.3 L310.6,395.8 L310.6,396.3 L310.6,396.8 L310.7,397.3 L310.7,397.8 L310.7,398.3 L310.8,398.8 L310.8,399.3 L310.9,399.8 L310.9,400.3 L310.9,400.8 L311.0,401.3 L311.0,401.8 L311.1,402.3 L311.1,402.8 L311.1,403.3 L311.2,403.8 L311.2,404.3 L311.3,404.8 L311.4,405.3 L311.4,405.8 L311.5,406.3 L311.5,406.8 L311.6,407.3 L311.6,407.8 L311.7,408.3 L311.7,408.8 L311.8,409.3 L311.8,409.8 L311.9,410.3 L311.9,410.8 L311.9,411.3 L312.0,411.8 L312.0,412.3 L312.0,412.8 L312.1,413.3 L312.1,413.8 L312.1,414.3 L312.1,414.8 L312.1,415.0 L313.4,415.0 L313.4,414.8 L313.4,414.3 L313.4,413.8 L313.4,413.3 L313.5,412.8 L313.5,412.3 L313.5,411.8 L313.6,411.3 L313.6,410.8 L313.6,410.3 L313.7,409.8 L313.7,409.3 L313.8,408.8 L313.8,408.3 L313.9,407.8 L313.9,407.3 L314.0,406.8 L314.0,406.3 L314.1,405.8 L314.1,405.3 L314.2,404.8 L314.3,404.3 L314.3,403.8 L314.4,403.3 L314.4,402.8 L314.4,402.3 L314.5,401.8 L314.5,401.3 L314.6,400.8 L314.6,400.3 L314.6,399.8 L314.7,399.3 L314.7,398.8 L314.8,398.3 L314.8,397.8 L314.8,397.3 L314.9,396.8 L314.9,396.3 L314.9,395.8 L315.0,395.3 L315.0,394.8 L315.0,394.3 L315.1,393.8 L315.1,393.3 L315.2,392.8 L315.2,392.3 L315.2,391.8 L315.3,391.3 L315.3,390.8 L315.4,390.3 L315.4,389.8 L315.5,389.3 L315.5,388.8 L315.6,388.3 L315.6,387.8 L315.7,387.3 L315.7,386.8 L315.8,386.3 L315.8,385.8 L315.9,385.3 L315.9,384.8 L316.0,384.3 L316.1,383.8 L316.1,383.3 L316.2,382.8 L316.2,382.3 L316.3,381.8 L316.4,381.3 L316.4,380.8 L316.5,380.3 L316.6,379.8 L316.6,379.3 L316.7,378.8 L316.8,378.3 L316.8,377.8 L316.9,377.3 L317.0,376.8 L317.1,376.3 L317.1,375.8 L317.2,375.3 L317.3,374.8 L317.4,374.3 L317.5,373.8 L317.6,373.3 L317.7,372.8 L317.8,372.3 L317.8,371.8 L317.9,371.3 L318.0,370.8 L318.1,370.3 L318.2,369.8 L318.3,369.3 L318.4,368.8 L318.5,368.3 L318.6,367.8 L318.7,367.3 L318.8,366.8 L318.9,366.3 L319.0,365.8 L319.1,365.3 L319.2,364.8 L319.3,364.3 L319.4,363.8 L319.5,363.3 L319.6,362.8 L319.7,362.3 L319.7,361.8 L319.8,361.3 L319.9,360.8 L320.0,360.3 L320.1,359.8 L320.2,359.3 L320.3,358.8 L320.4,358.3 L320.5,357.8 L320.6,357.3 L320.7,356.8 L320.8,356.3 L320.9,355.8 L321.0,355.3 L321.1,354.8 L321.1,354.3 L321.2,353.8 L321.3,353.3 L321.4,352.8 L321.5,352.3 L321.6,351.8 L321.7,351.3 L321.7,350.8 L321.8,350.3 L321.9,349.8 L322.0,349.3 L322.0,348.8 L322.1,348.3 L322.2,347.8 L322.3,347.3 L322.4,346.8 L322.5,346.3 L322.6,345.8 L322.7,345.3 L322.9,344.8 L323.0,344.3 L323.1,343.8 L323.3,343.3 L323.4,342.8 L323.5,342.3 L323.7,341.8 L323.8,341.3 L324.0,340.8 L324.1,340.3 L324.3,339.8 L324.4,339.3 L324.5,338.8 L324.7,338.3 L324.8,337.8 L324.9,337.3 L325.1,336.8 L325.2,336.3 L325.3,335.8 L325.4,335.3 L325.6,334.8 L325.7,334.3 L325.8,333.8 L325.9,333.3 L326.1,332.8 L326.2,332.3 L326.3,331.8 L326.4,331.3 L326.6,330.8 L326.7,330.3 L326.8,329.8 L326.9,329.3 L327.1,328.8 L327.2,328.3 L327.3,327.8 L327.4,327.3 L327.6,326.8 L327.7,326.3 L327.8,325.8 L327.9,325.3 L328.0,324.8 L328.2,324.3 L328.3,323.8 L328.4,323.3 L328.6,322.8 L328.7,322.3 L328.8,321.8 L328.9,321.3 L329.1,320.8 L329.2,320.3 L329.3,319.8 L329.4,319.3 L329.6,318.8 L329.7,318.3 L329.8,317.8 L329.9,317.3 L330.1,316.8 L330.2,316.3 L330.3,315.8 L330.4,315.3 L330.6,314.8 L330.7,314.3 L330.8,313.8 L330.9,313.3 L331.0,312.8 L331.1,312.3 L331.3,311.8 L331.4,311.3 L331.5,310.8 L331.6,310.3 L331.7,309.8 L331.9,309.3 L332.0,308.8 L332.1,308.3 L332.2,307.8 L332.4,307.3 L332.5,306.8 L332.6,306.3 L332.7,305.8 L332.8,305.3 L332.9,304.8 L333.1,304.3 L333.2,303.8 L333.3,303.3 L333.4,302.8 L333.5,302.3 L333.5,301.8 L333.6,301.3 L333.7,300.8 L333.8,300.3 L333.9,299.8 L333.9,299.3 L334.0,298.8 L334.1,298.3 L334.1,297.8 L334.2,297.3 L334.3,296.8 L334.4,296.3 L334.4,295.8 L334.5,295.3 L334.6,294.8 L334.6,294.3 L334.7,293.8 L334.7,293.3 L334.8,292.8 L334.9,292.3 L334.9,291.8 L335.0,291.3 L335.0,290.8 L335.1,290.3 L335.1,289.8 L335.1,289.3 L335.2,288.8 L335.2,288.3 L335.2,287.8 L335.2,287.3 L335.2,286.8 L335.2,286.3 L335.2,285.8 L335.2,285.3 L335.2,284.8 L335.2,284.3 L335.2,283.8 L335.2,283.3 L335.2,282.8 L335.2,282.3 L335.2,281.8 L335.1,281.3 L335.1,280.8 L335.1,280.3 L335.1,279.8 L335.1,279.3 L335.0,278.8 L335.0,278.3 L335.0,277.8 L335.0,277.3 L335.0,276.8 L335.0,276.3 L334.9,275.8 L334.9,275.3 L334.9,274.8 L334.9,274.3 L334.9,273.8 L334.8,273.3 L334.8,272.8 L334.8,272.3 L334.7,271.8 L334.7,271.3 L334.7,270.8 L334.6,270.3 L334.6,269.8 L334.5,269.3 L334.4,268.8 L334.4,268.3 L334.3,267.8 L334.2,267.3 L334.1,266.8 L334.1,266.3 L334.0,265.8 L333.9,265.3 L333.8,264.8 L333.7,264.3 L333.5,263.8 L333.4,263.3 L333.3,262.8 L333.1,262.3 L332.9,261.8 L332.8,261.3 L332.6,260.8 L332.5,260.3 L332.3,259.8 L332.1,259.3 L332.0,258.8 L331.8,258.3 L331.7,257.8 L331.5,257.3 L331.4,256.8 L331.2,256.3 L331.1,255.8 L330.9,255.3 L330.8,254.8 L330.6,254.3 L330.5,253.8 L330.3,253.3 L330.2,252.8 L330.0,252.3 L329.9,251.8 L329.7,251.3 L329.6,250.8 L329.4,250.3 L329.3,249.8 L329.1,249.3 L329.0,248.8 L328.8,248.3 L328.7,247.8 L328.5,247.3 L328.4,246.8 L328.2,246.3 L328.1,245.8 L328.0,245.3 L327.8,244.8 L327.6,244.3 L327.5,243.8 L327.3,243.3 L327.2,242.8 L327.0,242.3 L326.9,241.8 L326.7,241.3 L326.5,240.8 L326.4,240.3 L326.2,239.8 L326.0,239.3 L325.9,238.8 L325.7,238.3 L325.5,237.8 L325.3,237.3 L325.1,236.8 L325.0,236.3 L324.8,235.8 L324.6,235.3 L324.4,234.8 L324.2,234.3 L324.0,233.8 L323.9,233.3 L323.7,232.8 L323.5,232.3 L323.3,231.8 L323.2,231.3 L323.0,230.8 L322.8,230.3 L322.6,229.8 L322.5,229.3 L322.3,228.8 L322.1,228.3 L322.0,227.8 L321.8,227.3 L321.6,226.8 L321.5,226.3 L321.3,225.8 L321.2,225.3 L321.1,224.8 L320.9,224.3 L320.8,223.8 L320.7,223.3 L320.5,222.8 L320.4,222.3 L320.3,221.8 L320.2,221.3 L320.1,220.8 L320.0,220.3 L319.9,219.8 L319.7,219.3 L319.6,218.8 L319.5,218.3 L319.4,217.8 L319.3,217.3 L319.2,216.8 L319.1,216.3 L319.0,215.8 L318.9,215.3 L318.8,214.8 L318.7,214.3 L318.6,213.8 L318.5,213.3 L318.4,212.8 L318.3,212.3 L318.2,211.8 L318.1,211.3 L318.0,210.8 L317.9,210.3 L317.8,209.8 L317.7,209.3 L317.6,208.8 L317.5,208.3 L317.4,207.8 L317.3,207.3 L317.2,206.8 L317.2,206.3 L317.1,205.8 L317.0,205.3 L316.9,204.8 L316.9,204.3 L316.8,203.8 L316.7,203.3 L316.7,202.8 L316.6,202.3 L316.5,201.8 L316.5,201.3 L316.4,200.8 L316.4,200.3 L316.3,199.8 L316.3,199.3 L316.2,198.8 L316.2,198.3 L316.1,197.8 L316.1,197.3 L316.0,196.8 L316.0,196.3 L316.0,195.8 L315.9,195.3 L315.9,194.8 L315.9,194.3 L315.8,193.8 L315.8,193.3 L315.7,192.8 L315.7,192.3 L315.7,191.8 L315.6,191.3 L315.6,190.8 L315.6,190.3 L315.5,189.8 L315.5,189.3 L315.5,188.8 L315.4,188.3 L315.4,187.8 L315.4,187.3 L315.3,186.8 L315.3,186.3 L315.2,185.8 L315.2,185.3 L315.1,184.8 L315.1,184.3 L315.1,183.8 L315.0,183.3 L315.0,182.8 L314.9,182.3 L314.9,181.8 L314.8,181.3 L314.8,180.8 L314.7,180.3 L314.7,179.8 L314.6,179.3 L314.6,178.8 L314.5,178.3 L314.5,177.8 L314.4,177.3 L314.4,176.8 L314.3,176.3 L314.3,175.8 L314.2,175.3 L314.2,174.8 L314.1,174.3 L314.1,173.8 L314.0,173.3 L314.0,172.8 L314.0,172.3 L313.9,171.8 L313.9,171.3 L313.8,170.8 L313.8,170.3 L313.8,169.8 L313.7,169.3 L313.7,168.8 L313.6,168.3 L313.6,167.8 L313.6,167.3 L313.5,166.8 L313.5,166.3 L313.5,165.8 L313.4,165.3 L313.4,164.8 L313.4,164.3 L313.4,163.8 L313.3,163.3 L313.3,162.8 L313.3,162.3 L313.2,161.8 L313.2,161.3 L313.2,160.8 L313.2,160.3 L313.1,159.8 L313.1,159.3 L313.1,158.8 L313.1,158.3 L313.0,157.8 L313.0,157.3 L313.0,156.8 L313.0,156.3 L312.9,155.8 L312.9,155.3 L312.9,154.8 L312.9,154.3 L312.9,153.8 L312.8,153.3 L312.8,152.8 L312.8,152.3 L312.8,151.8 L312.8,151.3 Z" fill="#1f77b4" fill-opacity="0.3"/>
<path d="M376.8,239.3 L376.7,239.8 L376.6,240.3 L376.5,240.8 L376.4,241.3 L376.4,241.8 L376.3,242.3 L376.2,242.8 L376.1,243.3 L376.0,243.8 L375.9,244.3 L375.8,244.8 L375.8,245.3 L375.7,245.8 L375.6,246.3 L375.5,246.8 L375.5,247.3 L375.4,247.8 L375.3,248.3 L375.2,248.8 L375.2,249.3 L375.1,249.8 L375.0,250.3 L374.9,250.8 L374.9,251.3 L374.8,251.8 L374.7,252.3 L374.5,252.8 L374.4,253.3 L374.3,253.8 L374.2,254.3 L374.0,254.8 L373.9,255.3 L373.7,255.8 L373.5,256.3 L373.4,256.8 L373.2,257.3 L373.1,257.8 L372.9,258.3 L372.7,258.8 L372.6,259.3 L372.4,259.8 L372.3,260.3 L372.1,260.8 L371.9,261.3 L371.8,261.8 L371.6,262.3 L371.4,262.8 L371.3,263.3 L371.1,263.8 L370.9,264.3 L370.8,264.8 L370.6,265.3 L370.4,265.8 L370.3,266.3 L370.1,266.8 L370.0,267.3 L369.8,267.8 L369.6,268.3 L369.5,268.8 L369.3,269.3 L369.2,269.8 L369.0,270.3 L368.8,270.8 L368.6,271.3 L368.5,271.8 L368.3,272.3 L368.1,272.8 L367.9,273.3 L367.7,273.8 L367.5,274.3 L367.3,274.8 L367.2,275.3 L367.0,275.8 L366.8,276.3 L366.5,276.8 L366.3,277.3 L366.1,277.8 L365.9,278.3 L365.7,278.8 L365.5,279.3 L365.2,279.8 L365.0,280.3 L364.7,280.8 L364.5,281.3 L364.2,281.8 L363.9,282.3 L363.6,282.8 L363.4,283.3 L363.1,283.8 L362.8,284.3 L362.5,284.8 L362.3,285.3 L362.0,285.8 L361.7,286.3 L361.5,286.8 L361.3,287.3 L361.0,287.8 L360.8,288.3 L360.5,288.8 L360.3,289.3 L360.1,289.8 L359.8,290.3 L359.6,290.8 L359.4,291.3 L359.2,291.8 L358.9,292.3 L358.7,292.8 L358.5,293.3 L358.3,293.8 L358.1,294.3 L357.9,294.8 L357.7,295.3 L357.5,295.8 L357.3,296.3 L357.2,296.8 L357.0,297.3 L356.8,297.8 L356.7,298.3 L356.5,298.8 L356.4,299.3 L356.3,299.8 L356.2,300.3 L356.1,300.8 L355.9,301.3 L355.8,301.8 L355.8,302.3 L355.7,302.8 L355.6,303.3 L355.5,303.8 L355.4,304.3 L355.3,304.8 L355.3,305.3 L355.2,305.8 L355.1,306.3 L355.0,306.8 L355.0,307.3 L354.9,307.8 L354.8,308.3 L354.8,308.8 L354.7,309.3 L354.6,309.8 L354.6,310.3 L354.5,310.8 L354.5,311.3 L354.5,311.8 L354.5,312.3 L354.5,312.8 L354.5,313.3 L354.6,313.8 L354.6,314.3 L354.6,314.8 L354.7,315.3 L354.7,315.8 L354.8,316.3 L354.9,316.8 L354.9,317.3 L355.0,317.8 L355.1,318.3 L355.1,318.8 L355.2,319.3 L355.3,319.8 L355.4,320.3 L355.5,320.8 L355.6,321.3 L355.8,321.8 L355.9,322.3 L356.0,322.8 L356.2,323.3 L356.3,323.8 L356.5,324.3 L356.6,324.8 L356.8,325.3 L357.0,325.8 L357.1,326.3 L357.3,326.8 L357.5,327.3 L357.7,327.8 L358.0,328.3 L358.2,328.8 L358.4,329.3 L358.6,329.8 L358.8,330.3 L359.0,330.8 L359.3,331.3 L359.5,331.8 L359.7,332.3 L359.9,332.8 L360.1,333.3 L360.3,333.8 L360.5,334.3 L360.7,334.8 L360.9,335.3 L361.1,335.8 L361.3,336.3 L361.6,336.8 L361.8,337.3 L362.0,337.8 L362.2,338.3 L362.5,338.8 L362.7,339.3 L363.0,339.8 L363.2,340.3 L363.5,340.8 L363.7,341.3 L364.0,341.8 L364.2,342.3 L364.5,342.8 L364.7,343.3 L365.0,343.8 L365.2,344.3 L365.5,344.8 L365.7,345.3 L365.9,345.8 L366.2,346.3 L366.4,346.8 L366.6,347.3 L366.8,347.8 L367.1,348.3 L367.3,348.8 L367.5,349.3 L367.7,349.8 L367.9,350.3 L368.1,350.8 L368.3,351.3 L368.5,351.8 L368.7,352.3 L368.9,352.8 L369.1,353.3 L369.3,353.8 L369.5,354.3 L369.7,354.8 L369.9,355.3 L370.1,355.8 L370.2,356.3 L370.4,356.8 L370.6,357.3 L370.8,357.8 L371.0,358.3 L371.1,358.8 L371.3,359.3 L371.5,359.8 L371.6,360.3 L371.8,360.8 L371.9,361.3 L372.1,361.8 L372.2,362.3 L372.4,362.8 L372.5,363.3 L372.6,363.8 L372.8,364.3 L372.9,364.8 L373.1,365.3 L373.2,365.8 L373.3,366.3 L373.4,366.8 L373.6,367.3 L373.7,367.8 L373.8,368.3 L373.9,368.8 L374.0,369.3 L374.1,369.8 L374.2,370.3 L374.3,370.8 L374.4,371.3 L374.5,371.8 L374.5,372.3 L374.6,372.8 L374.7,373.3 L374.7,373.8 L374.8,374.3 L374.9,374.8 L374.9,375.3 L375.0,375.8 L375.0,376.3 L375.1,376.8 L375.1,377.3 L375.2,377.8 L375.2,378.3 L375.3,378.8 L375.3,379.3 L375.4,379.8 L375.4,380.3 L375.5,380.8 L375.5,381.3 L375.5,381.8 L375.6,382.3 L375.6,382.8 L375.6,383.3 L375.7,383.8 L375.7,384.3 L375.7,384.8 L375.8,385.3 L375.8,385.8 L375.8,386.3 L375.9,386.8 L375.9,387.3 L375.9,387.8 L376.0,388.3 L376.0,388.8 L376.1,389.3 L376.1,389.8 L376.2,390.3 L376.2,390.8 L376.2,391.3 L376.3,391.8 L376.3,392.3 L376.4,392.8 L376.5,393.3 L376.5,393.8 L376.6,394.3 L376.6,394.8 L376.7,395.3 L376.7,395.8 L376.8,396.3 L376.8,396.3 L376.9,395.8 L376.9,395.3 L377.0,394.8 L377.0,394.3 L377.1,393.8 L377.1,393.3 L377.2,392.8 L377.3,392.3 L377.3,391.8 L377.4,391.3 L377.4,390.8 L377.4,390.3 L377.5,389.8 L377.5,389.3 L377.6,388.8 L377.6,388.3 L377.7,387.8 L377.7,387.3 L377.7,386.8 L377.8,386.3 L377.8,385.8 L377.8,385.3 L377.9,384.8 L377.9,384.3 L377.9,383.8 L378.0,383.3 L378.0,382.8 L378.0,382.3 L378.1,381.8 L378.1,381.3 L378.1,380.8 L378.2,380.3 L378.2,379.8 L378.3,379.3 L378.3,378.8 L378.4,378.3 L378.4,377.8 L378.5,377.3 L378.5,376.8 L378.6,376.3 L378.6,375.8 L378.7,375.3 L378.7,374.8 L378.8,374.3 L378.9,373.8 L378.9,373.3 L379.0,372.8 L379.1,372.3 L379.1,371.8 L379.2,371.3 L379.3,370.8 L379.4,370.3 L379.5,369.8 L379.6,369.3 L379.7,368.8 L379.8,368.3 L379.9,367.8 L380.0,367.3 L380.2,366.8 L380.3,366.3 L380.4,365.8 L380.5,365.3 L380.7,364.8 L380.8,364.3 L381.0,363.8 L381.1,363.3 L381.2,362.8 L381.4,362.3 L381.5,361.8 L381.7,361.3 L381.8,360.8 L382.0,360.3 L382.1,359.8 L382.3,359.3 L382.5,358.8 L382.6,358.3 L382.8,357.8 L383.0,357.3 L383.2,356.8 L383.4,356.3 L383.5,355.8 L383.7,355.3 L383.9,354.8 L384.1,354.3 L384.3,353.8 L384.5,353.3 L384.7,352.8 L384.9,352.3 L385.1,351.8 L385.3,351.3 L385.5,350.8 L385.7,350.3 L385.9,349.8 L386.1,349.3 L386.3,348.8 L386.5,348.3 L386.8,347.8 L387.0,347.3 L387.2,346.8 L387.4,346.3 L387.7,345.8 L387.9,345.3 L388.1,344.8 L388.4,344.3 L388.6,343.8 L388.9,343.3 L389.1,342.8 L389.4,342.3 L389.6,341.8 L389.9,341.3 L390.1,340.8 L390.4,340.3 L390.6,339.8 L390.9,339.3 L391.1,338.8 L391.4,338.3 L391.6,337.8 L391.8,337.3 L392.0,336.8 L392.3,336.3 L392.5,335.8 L392.7,335.3 L392.9,334.8 L393.1,334.3 L393.3,333.8 L393.5,333.3 L393.7,332.8 L393.9,332.3 L394.1,331.8 L394.3,331.3 L394.6,330.8 L394.8,330.3 L395.0,329.8 L395.2,329.3 L395.4,328.8 L395.6,328.3 L395.9,327.8 L396.1,327.3 L396.3,326.8 L396.5,326.3 L396.6,325.8 L396.8,325.3 L397.0,324.8 L397.1,324.3 L397.3,323.8 L397.4,323.3 L397.6,322.8 L397.7,322.3 L397.8,321.8 L398.0,321.3 L398.1,320.8 L398.2,320.3 L398.3,319.8 L398.4,319.3 L398.5,318.8 L398.5,318.3 L398.6,317.8 L398.7,317.3 L398.7,316.8 L398.8,316.3 L398.9,315.8 L398.9,315.3 L399.0,314.8 L399.0,314.3 L399.0,313.8 L399.1,313.3 L399.1,312.8 L399.1,312.3 L399.1,311.8 L399.1,311.3 L399.1,310.8 L399.0,310.3 L399.0,309.8 L398.9,309.3 L398.8,308.8 L398.8,308.3 L398.7,307.8 L398.6,307.3 L398.6,306.8 L398.5,306.3 L398.4,305.8 L398.3,305.3 L398.3,304.8 L398.2,304.3 L398.1,303.8 L398.0,303.3 L397.9,302.8 L397.8,302.3 L397.8,301.8 L397.7,301.3 L397.5,300.8 L397.4,300.3 L397.3,299.8 L397.2,299.3 L397.1,298.8 L396.9,298.3 L396.8,297.8 L396.6,297.3 L396.4,296.8 L396.3,296.3 L396.1,295.8 L395.9,295.3 L395.7,294.8 L395.5,294.3 L395.3,293.8 L395.1,293.3 L394.9,292.8 L394.7,292.3 L394.4,291.8 L394.2,291.3 L394.0,290.8 L393.8,290.3 L393.5,289.8 L393.3,289.3 L393.1,288.8 L392.8,288.3 L392.6,287.8 L392.3,287.3 L392.1,286.8 L391.9,286.3 L391.6,285.8 L391.3,285.3 L391.1,284.8 L390.8,284.3 L390.5,283.8 L390.2,283.3 L390.0,282.8 L389.7,282.3 L389.4,281.8 L389.1,281.3 L388.9,280.8 L388.6,280.3 L388.4,279.8 L388.1,279.3 L387.9,278.8 L387.7,278.3 L387.5,277.8 L387.3,277.3 L387.1,276.8 L386.8,276.3 L386.6,275.8 L386.4,275.3 L386.3,274.8 L386.1,274.3 L385.9,273.8 L385.7,273.3 L385.5,272.8 L385.3,272.3 L385.1,271.8 L385.0,271.3 L384.8,270.8 L384.6,270.3 L384.4,269.8 L384.3,269.3 L384.1,268.8 L384.0,268.3 L383.8,267.8 L383.6,267.3 L383.5,266.8 L383.3,266.3 L383.2,265.8 L383.0,265.3 L382.8,264.8 L382.7,264.3 L382.5,263.8 L382.3,263.3 L382.2,262.8 L382.0,262.3 L381.8,261.8 L381.7,261.3 L381.5,260.8 L381.3,260.3 L381.2,259.8 L381.0,259.3 L380.9,258.8 L380.7,258.3 L380.5,257.8 L380.4,257.3 L380.2,256.8 L380.1,256.3 L379.9,255.8 L379.7,255.3 L379.6,254.8 L379.4,254.3 L379.3,253.8 L379.2,253.3 L379.1,252.8 L378.9,252.3 L378.8,251.8 L378.7,251.3 L378.7,250.8 L378.6,250.3 L378.5,249.8 L378.4,249.3 L378.4,248.8 L378.3,248.3 L378.2,247.8 L378.1,247.3 L378.1,246.8 L378.0,246.3 L377.9,245.8 L377.8,245.3 L377.8,244.8 L377.7,244.3 L377.6,243.8 L377.5,243.3 L377.4,242.8 L377.3,242.3 L377.2,241.8 L377.2,241.3 L377.1,240.8 L377.0,240.3 L376.9,239.8 L376.8,239.3 Z" fill="#1f77b4" fill-opacity="0.3"/>
<path d="M440.9,110.4 L440.8,110.9 L440.7,111.4 L440.6,111.9 L440.5,112.4 L440.5,112.9 L440.4,113.4 L440.3,113.9 L440.3,114.4 L440.2,114.9 L440.2,115.4 L440.1,115.9 L440.1,116.4 L440.0,116.9 L440.0,117.4 L440.0,117.9 L439.9,118.4 L439.9,118.9 L439.9,119.4 L439.9,119.9 L439.8,120.4 L439.8,120.9 L439.8,121.4 L439.8,121.9 L439.7,122.4 L439.7,122.9 L439.7,123.4 L439.7,123.9 L439.6,124.4 L439.6,124.9 L439.6,125.4 L439.6,125.9 L439.5,126.4 L439.5,126.9 L439.4,127.4 L439.4,127.9 L439.4,128.4 L439.3,128.9 L439.2,129.4 L439.1,129.9 L439.1,130.4 L439.0,130.9 L438.9,131.4 L438.7,131.9 L438.6,132.4 L438.5,132.9 L438.4,133.4 L438.3,133.9 L438.1,134.4 L438.0,134.9 L437.9,135.4 L437.8,135.9 L437.7,136.4 L437.6,136.9 L437.5,137.4 L437.3,137.9 L437.2,138.4 L437.1,138.9 L437.0,139.4 L436.9,139.9 L436.8,140.4 L436.7,140.9 L436.6,141.4 L436.4,141.9 L436.3,142.4 L436.2,142.9 L436.1,143.4 L436.0,143.9 L435.9,144.4 L435.8,144.9 L435.7,145.4 L435.6,145.9 L435.5,146.4 L435.3,146.9 L435.2,147.4 L435.1,147.9 L435.0,148.4 L434.9,148.9 L434.8,149.4 L434.8,149.9 L434.7,150.4 L434.6,150.9 L434.5,151.4 L434.4,151.9 L434.3,152.4 L434.2,152.9 L434.1,153.4 L434.1,153.9 L434.0,154.4 L433.9,154.9 L433.8,155.4 L433.8,155.9 L433.7,156.4 L433.6,156.9 L433.5,157.4 L433.4,157.9 L433.4,158.4 L433.3,158.9 L433.2,159.4 L433.1,159.9 L433.0,160.4 L433.0,160.9 L432.9,161.4 L432.8,161.9 L432.7,162.4 L432.6,162.9 L432.5,163.4 L432.4,163.9 L432.3,164.4 L432.3,164.9 L432.2,165.4 L432.1,165.9 L432.0,166.4 L431.9,166.9 L431.8,167.4 L431.7,167.9 L431.6,168.4 L431.5,168.9 L431.4,169.4 L431.3,169.9 L431.2,170.4 L431.1,170.9 L431.0,171.4 L430.9,171.9 L430.8,172.4 L430.7,172.9 L430.6,173.4 L430.5,173.9 L430.4,174.4 L430.2,174.9 L430.1,175.4 L430.0,175.9 L429.8,176.4 L429.7,176.9 L429.5,177.4 L429.4,177.9 L429.2,178.4 L429.0,178.9 L428.9,179.4 L428.7,179.9 L428.5,180.4 L428.3,180.9 L428.1,181.4 L427.9,181.9 L427.7,182.4 L427.5,182.9 L427.3,183.4 L427.1,183.9 L426.9,184.4 L426.7,184.9 L426.5,185.4 L426.3,185.9 L426.0,186.4 L425.8,186.9 L425.6,187.4 L425.4,187.9 L425.2,188.4 L424.9,188.9 L424.7,189.4 L424.4,189.9 L424.1,190.4 L423.9,190.9 L423.6,191.4 L423.3,191.9 L423.0,192.4 L422.7,192.9 L422.4,193.4 L422.1,193.9 L421.9,194.4 L421.6,194.9 L421.3,195.4 L421.1,195.9 L420.9,196.4 L420.7,196.9 L420.5,197.4 L420.3,197.9 L420.0,198.4 L419.8,198.9 L419.6,199.4 L419.4,199.9 L419.2,200.4 L419.1,200.9 L418.9,201.4 L418.8,201.9 L418.7,202.4 L418.6,202.9 L418.6,203.4 L418.5,203.9 L418.5,204.4 L418.5,204.9 L418.5,205.4 L418.4,205.9 L418.4,206.4 L418.4,206.9 L418.4,207.4 L418.4,207.9 L418.4,208.4 L418.4,208.9 L418.4,209.4 L418.4,209.9 L418.4,210.4 L418.4,210.9 L418.4,211.4 L418.4,211.9 L418.4,212.4 L418.4,212.9 L418.4,213.4 L418.4,213.9 L418.5,214.4 L418.5,214.9 L418.5,215.4 L418.5,215.9 L418.6,216.4 L418.6,216.9 L418.6,217.4 L418.7,217.9 L418.7,218.4 L418.7,218.9 L418.8,219.4 L418.8,219.9 L418.8,220.4 L418.9,220.9 L418.9,221.4 L419.0,221.9 L419.0,222.4 L419.1,222.9 L419.1,223.4 L419.2,223.9 L419.3,224.4 L419.4,224.9 L419.5,225.4 L419.6,225.9 L419.7,226.4 L419.8,226.9 L419.9,227.4 L420.1,227.9 L420.2,228.4 L420.4,228.9 L420.5,229.4 L420.7,229.9 L420.8,230.4 L421.0,230.9 L421.2,231.4 L421.3,231.9 L421.5,232.4 L421.7,232.9 L421.8,233.4 L422.0,233.9 L422.2,234.4 L422.3,234.9 L422.5,235.4 L422.6,235.9 L422.8,236.4 L423.0,236.9 L423.1,237.4 L423.3,237.9 L423.5,238.4 L423.7,238.9 L423.8,239.4 L424.0,239.9 L424.2,240.4 L424.4,240.9 L424.6,241.4 L424.8,241.9 L424.9,242.4 L425.1,242.9 L425.3,243.4 L425.5,243.9 L425.7,244.4 L425.9,244.9 L426.0,245.4 L426.2,245.9 L426.4,246.4 L426.6,246.9 L426.7,247.4 L426.9,247.9 L427.1,248.4 L427.2,248.9 L427.4,249.4 L427.5,249.9 L427.7,250.4 L427.8,250.9 L427.9,251.4 L428.1,251.9 L428.2,252.4 L428.4,252.9 L428.5,253.4 L428.6,253.9 L428.8,254.4 L428.9,254.9 L429.0,255.4 L429.2,255.9 L429.3,256.4 L429.5,256.9 L429.6,257.4 L429.7,257.9 L429.9,258.4 L430.0,258.9 L430.1,259.4 L430.3,259.9 L430.4,260.4 L430.5,260.9 L430.7,261.4 L430.8,261.9 L431.0,262.4 L431.1,262.9 L431.2,263.4 L431.4,263.9 L431.6,264.4 L431.7,264.9 L431.9,265.4 L432.1,265.9 L432.3,266.4 L432.5,266.9 L432.6,267.4 L432.8,267.9 L433.0,268.4 L433.2,268.9 L433.3,269.4 L433.5,269.9 L433.6,270.4 L433.7,270.9 L433.9,271.4 L434.0,271.9 L434.1,272.4 L434.2,272.9 L434.4,273.4 L434.5,273.9 L434.6,274.4 L434.7,274.9 L434.9,275.4 L435.0,275.9 L435.1,276.4 L435.2,276.9 L435.3,277.4 L435.4,277.9 L435.5,278.4 L435.6,278.9 L435.7,279.4 L435.8,279.9 L435.9,280.4 L436.0,280.9 L436.1,281.4 L436.2,281.9 L436.3,282.4 L436.4,282.9 L436.5,283.4 L436.6,283.9 L436.6,284.4 L436.7,284.9 L436.8,285.4 L436.9,285.9 L437.0,286.4 L437.1,286.9 L437.1,287.4 L437.2,287.9 L437.3,288.4 L437.4,288.9 L437.4,289.4 L437.5,289.9 L437.6,290.4 L437.7,290.9 L437.7,291.4 L437.8,291.9 L437.9,292.4 L437.9,292.9 L438.0,293.4 L438.0,293.9 L438.1,294.4 L438.2,294.9 L438.2,295.4 L438.3,295.9 L438.3,296.4 L438.4,296.9 L438.5,297.4 L438.5,297.9 L438.6,298.4 L438.6,298.9 L438.7,299.4 L438.7,299.9 L438.8,300.4 L438.8,300.9 L438.9,301.4 L438.9,301.9 L438.9,302.4 L439.0,302.9 L439.0,303.4 L439.1,303.9 L439.1,304.4 L439.2,304.9 L439.2,305.4 L439.3,305.9 L439.3,306.4 L439.3,306.9 L439.4,307.4 L439.4,307.9 L439.5,308.4 L439.5,308.9 L439.5,309.4 L439.6,309.9 L439.6,310.4 L439.6,310.9 L439.6,311.4 L439.7,311.9 L439.7,312.4 L439.7,312.9 L439.8,313.4 L439.8,313.9 L439.8,314.4 L439.9,314.9 L439.9,315.4 L439.9,315.9 L440.0,316.4 L440.0,316.9 L440.1,317.4 L440.1,317.9 L440.2,318.4 L440.2,318.9 L440.3,319.4 L440.3,319.9 L440.4,320.4 L440.5,320.9 L440.5,321.4 L440.6,321.9 L440.7,322.4 L440.7,322.9 L440.8,323.4 L440.9,323.7 L440.9,323.7 L440.9,323.4 L441.0,322.9 L441.0,322.4 L441.1,321.9 L441.2,321.4 L441.2,320.9 L441.3,320.4 L441.4,319.9 L441.4,319.4 L441.5,318.9 L441.5,318.4 L441.6,317.9 L441.6,317.4 L441.7,316.9 L441.7,316.4 L441.8,315.9 L441.8,315.4 L441.8,314.9 L441.9,314.4 L441.9,313.9 L441.9,313.4 L442.0,312.9 L442.0,312.4 L442.0,311.9 L442.1,311.4 L442.1,310.9 L442.1,310.4 L442.1,309.9 L442.2,309.4 L442.2,308.9 L442.2,308.4 L442.3,307.9 L442.3,307.4 L442.4,306.9 L442.4,306.4 L442.4,305.9 L442.5,305.4 L442.5,304.9 L442.6,304.4 L442.6,303.9 L442.7,303.4 L442.7,302.9 L442.8,302.4 L442.8,301.9 L442.8,301.4 L442.9,300.9 L442.9,300.4 L443.0,299.9 L443.0,299.4 L443.1,298.9 L443.1,298.4 L443.2,297.9 L443.2,297.4 L443.3,296.9 L443.4,296.4 L443.4,295.9 L443.5,295.4 L443.5,294.9 L443.6,294.4 L443.7,293.9 L443.7,293.4 L443.8,292.9 L443.8,292.4 L443.9,291.9 L444.0,291.4 L444.0,290.9 L444.1,290.4 L444.2,289.9 L444.3,289.4 L444.3,288.9 L444.4,288.4 L444.5,287.9 L444.6,287.4 L444.6,286.9 L444.7,286.4 L444.8,285.9 L444.9,285.4 L445.0,284.9 L445.1,284.4 L445.1,283.9 L445.2,283.4 L445.3,282.9 L445.4,282.4 L445.5,281.9 L445.6,281.4 L445.7,280.9 L445.8,280.4 L445.9,279.9 L446.0,279.4 L446.1,278.9 L446.2,278.4 L446.3,277.9 L446.4,277.4 L446.5,276.9 L446.6,276.4 L446.7,275.9 L446.8,275.4 L447.0,274.9 L447.1,274.4 L447.2,273.9 L447.3,273.4 L447.5,272.9 L447.6,272.4 L447.7,271.9 L447.8,271.4 L448.0,270.9 L448.1,270.4 L448.2,269.9 L448.4,269.4 L448.5,268.9 L448.7,268.4 L448.9,267.9 L449.1,267.4 L449.2,266.9 L449.4,266.4 L449.6,265.9 L449.8,265.4 L450.0,264.9 L450.1,264.4 L450.3,263.9 L450.5,263.4 L450.6,262.9 L450.7,262.4 L450.9,261.9 L451.0,261.4 L451.2,260.9 L451.3,260.4 L451.4,259.9 L451.6,259.4 L451.7,258.9 L451.8,258.4 L452.0,257.9 L452.1,257.4 L452.2,256.9 L452.4,256.4 L452.5,255.9 L452.7,255.4 L452.8,254.9 L452.9,254.4 L453.1,253.9 L453.2,253.4 L453.3,252.9 L453.5,252.4 L453.6,251.9 L453.8,251.4 L453.9,250.9 L454.0,250.4 L454.2,249.9 L454.3,249.4 L454.5,248.9 L454.7,248.4 L454.8,247.9 L455.0,247.4 L455.1,246.9 L455.3,246.4 L455.5,245.9 L455.7,245.4 L455.8,244.9 L456.0,244.4 L456.2,243.9 L456.4,243.4 L456.6,242.9 L456.8,242.4 L456.9,241.9 L457.1,241.4 L457.3,240.9 L457.5,240.4 L457.7,239.9 L457.9,239.4 L458.0,238.9 L458.2,238.4 L458.4,237.9 L458.6,237.4 L458.7,236.9 L458.9,236.4 L459.1,235.9 L459.2,235.4 L459.4,234.9 L459.5,234.4 L459.7,233.9 L459.9,233.4 L460.0,232.9 L460.2,232.4 L460.4,231.9 L460.5,231.4 L460.7,230.9 L460.9,230.4 L461.0,229.9 L461.2,229.4 L461.3,228.9 L461.5,228.4 L461.6,227.9 L461.8,227.4 L461.9,226.9 L462.0,226.4 L462.1,225.9 L462.2,225.4 L462.3,224.9 L462.4,224.4 L462.5,223.9 L462.6,223.4 L462.6,222.9 L462.7,222.4 L462.7,221.9 L462.8,221.4 L462.8,220.9 L462.9,220.4 L462.9,219.9 L462.9,219.4 L463.0,218.9 L463.0,218.4 L463.0,217.9 L463.1,217.4 L463.1,216.9 L463.1,216.4 L463.2,215.9 L463.2,215.4 L463.2,214.9 L463.2,214.4 L463.3,213.9 L463.3,213.4 L463.3,212.9 L463.3,212.4 L463.3,211.9 L463.3,211.4 L463.3,210.9 L463.3,210.4 L463.4,209.9 L463.3,209.4 L463.3,208.9 L463.3,208.4 L463.3,207.9 L463.3,207.4 L463.3,206.9 L463.3,206.4 L463.3,205.9 L463.2,205.4 L463.2,204.9 L463.2,204.4 L463.2,203.9 L463.2,203.4 L463.1,202.9 L463.0,202.4 L462.9,201.9 L462.8,201.4 L462.6,200.9 L462.5,200.4 L462.3,199.9 L462.1,199.4 L461.9,198.9 L461.7,198.4 L461.4,197.9 L461.2,197.4 L461.0,196.9 L460.8,196.4 L460.6,195.9 L460.4,195.4 L460.1,194.9 L459.8,194.4 L459.6,193.9 L459.3,193.4 L459.0,192.9 L458.7,192.4 L458.4,191.9 L458.1,191.4 L457.8,190.9 L457.6,190.4 L457.3,189.9 L457.0,189.4 L456.8,188.9 L456.6,188.4 L456.3,187.9 L456.1,187.4 L455.9,186.9 L455.7,186.4 L455.4,185.9 L455.2,185.4 L455.0,184.9 L454.8,184.4 L454.6,183.9 L454.4,183.4 L454.2,182.9 L454.0,182.4 L453.8,181.9 L453.6,181.4 L453.4,180.9 L453.2,180.4 L453.0,179.9 L452.8,179.4 L452.7,178.9 L452.5,178.4 L452.3,177.9 L452.2,177.4 L452.0,176.9 L451.9,176.4 L451.7,175.9 L451.6,175.4 L451.5,174.9 L451.3,174.4 L451.2,173.9 L451.1,173.4 L451.0,172.9 L450.9,172.4 L450.8,171.9 L450.7,171.4 L450.6,170.9 L450.5,170.4 L450.4,169.9 L450.3,169.4 L450.2,168.9 L450.1,168.4 L450.0,167.9 L449.9,167.4 L449.8,166.9 L449.7,166.4 L449.6,165.9 L449.5,165.4 L449.4,164.9 L449.4,164.4 L449.3,163.9 L449.2,163.4 L449.1,162.9 L449.0,162.4 L448.9,161.9 L448.8,161.4 L448.7,160.9 L448.7,160.4 L448.6,159.9 L448.5,159.4 L448.4,158.9 L448.3,158.4 L448.3,157.9 L448.2,157.4 L448.1,156.9 L448.0,156.4 L447.9,155.9 L447.9,155.4 L447.8,154.9 L447.7,154.4 L447.6,153.9 L447.6,153.4 L447.5,152.9 L447.4,152.4 L447.3,151.9 L447.2,151.4 L447.1,150.9 L447.0,150.4 L447.0,149.9 L446.9,149.4 L446.8,148.9 L446.7,148.4 L446.6,147.9 L446.5,147.4 L446.4,146.9 L446.2,146.4 L446.1,145.9 L446.0,145.4 L445.9,144.9 L445.8,144.4 L445.7,143.9 L445.6,143.4 L445.5,142.9 L445.4,142.4 L445.3,141.9 L445.1,141.4 L445.0,140.9 L444.9,140.4 L444.8,139.9 L444.7,139.4 L444.6,138.9 L444.5,138.4 L444.4,137.9 L444.2,137.4 L444.1,136.9 L444.0,136.4 L443.9,135.9 L443.8,135.4 L443.7,134.9 L443.6,134.4 L443.4,133.9 L443.3,133.4 L443.2,132.9 L443.1,132.4 L443.0,131.9 L442.8,131.4 L442.7,130.9 L442.6,130.4 L442.6,129.9 L442.5,129.4 L442.4,128.9 L442.4,128.4 L442.3,127.9 L442.3,127.4 L442.2,126.9 L442.2,126.4 L442.1,125.9 L442.1,125.4 L442.1,124.9 L442.1,124.4 L442.0,123.9 L442.0,123.4 L442.0,122.9 L442.0,122.4 L441.9,121.9 L441.9,121.4 L441.9,120.9 L441.9,120.4 L441.8,119.9 L441.8,119.4 L441.8,118.9 L441.8,118.4 L441.7,117.9 L441.7,117.4 L441.7,116.9 L441.6,116.4 L441.6,115.9 L441.5,115.4 L441.5,114.9 L441.4,114.4 L441.4,113.9 L441.3,113.4 L441.2,112.9 L441.2,112.4 L441.1,111.9 L441.0,111.4 L440.9,110.9 L440.9,110.4 Z" fill="#1f77b4" fill-opacity="0.3"/>
<path d="M504.9,192.2 L504.9,192.7 L504.8,193.2 L504.8,193.7 L504.7,194.2 L504.7,194.7 L504.6,195.2 L504.6,195.7 L504.6,196.2 L504.5,196.7 L504.5,197.2 L504.5,197.7 L504.5,198.2 L504.4,198.7 L504.4,199.2 L504.4,199.7 L504.4,200.2 L504.4,200.7 L504.4,201.2 L504.4,201.7 L504.4,202.2 L504.4,202.7 L504.4,203.2 L504.4,203.7 L504.4,204.2 L504.3,204.7 L504.3,205.2 L504.3,205.7 L504.3,206.2 L504.3,206.7 L504.3,207.2 L504.3,207.7 L504.3,208.2 L504.3,208.7 L504.3,209.2 L504.3,209.7 L504.3,210.2 L504.3,210.7 L504.3,211.2 L504.3,211.7 L504.2,212.2 L504.2,212.7 L504.2,213.2 L504.2,213.7 L504.2,214.2 L504.2,214.7 L504.1,215.2 L504.1,215.7 L504.1,216.2 L504.1,216.7 L504.0,217.2 L504.0,217.7 L504.0,218.2 L504.0,218.7 L503.9,219.2 L503.9,219.7 L503.9,220.2 L503.9,220.7 L503.8,221.2 L503.8,221.7 L503.7,222.2 L503.7,222.7 L503.6,223.2 L503.6,223.7 L503.5,224.2 L503.5,224.7 L503.4,225.2 L503.4,225.7 L503.3,226.2 L503.3,226.7 L503.2,227.2 L503.2,227.7 L503.1,228.2 L503.1,228.7 L503.1,229.2 L503.0,229.7 L503.0,230.2 L503.0,230.7 L502.9,231.2 L502.9,231.7 L502.9,232.2 L502.9,232.7 L502.8,233.2 L502.8,233.7 L502.8,234.2 L502.8,234.7 L502.8,235.2 L502.8,235.7 L502.7,236.2 L502.7,236.7 L502.7,237.2 L502.7,237.7 L502.6,238.2 L502.6,238.7 L502.6,239.2 L502.6,239.7 L502.5,240.2 L502.5,240.7 L502.5,241.2 L502.5,241.7 L502.4,242.2 L502.4,242.7 L502.4,243.2 L502.3,243.7 L502.3,244.2 L502.3,244.7 L502.2,245.2 L502.2,245.7 L502.2,246.2 L502.1,246.7 L502.1,247.2 L502.0,247.7 L502.0,248.2 L502.0,248.7 L501.9,249.2 L501.9,249.7 L501.9,250.2 L501.8,250.7 L501.8,251.2 L501.7,251.7 L501.7,252.2 L501.6,252.7 L501.6,253.2 L501.5,253.7 L501.5,254.2 L501.4,254.7 L501.4,255.2 L501.3,255.7 L501.3,256.2 L501.2,256.7 L501.2,257.2 L501.1,257.7 L501.1,258.2 L501.0,258.7 L500.9,259.2 L500.9,259.7 L500.8,260.2 L500.7,260.7 L500.7,261.2 L500.6,261.7 L500.6,262.2 L500.5,262.7 L500.4,263.2 L500.4,263.7 L500.3,264.2 L500.2,264.7 L500.2,265.2 L500.1,265.7 L500.0,266.2 L500.0,266.7 L499.9,267.2 L499.8,267.7 L499.8,268.2 L499.7,268.7 L499.6,269.2 L499.6,269.7 L499.5,270.2 L499.4,270.7 L499.3,271.2 L499.3,271.7 L499.2,272.2 L499.1,272.7 L499.0,273.2 L499.0,273.7 L498.9,274.2 L498.8,274.7 L498.7,275.2 L498.7,275.7 L498.6,276.2 L498.5,276.7 L498.4,277.2 L498.3,277.7 L498.3,278.2 L498.2,278.7 L498.1,279.2 L498.0,279.7 L497.9,280.2 L497.9,280.7 L497.8,281.2 L497.7,281.7 L497.6,282.2 L497.5,282.7 L497.4,283.2 L497.4,283.7 L497.3,284.2 L497.2,284.7 L497.1,285.2 L497.0,285.7 L496.9,286.2 L496.8,286.7 L496.7,287.2 L496.6,287.7 L496.5,288.2 L496.4,288.7 L496.3,289.2 L496.2,289.7 L496.1,290.2 L496.0,290.7 L495.9,291.2 L495.8,291.7 L495.7,292.2 L495.6,292.7 L495.5,293.2 L495.4,293.7 L495.2,294.2 L495.1,294.7 L495.0,295.2 L494.9,295.7 L494.7,296.2 L494.6,296.7 L494.5,297.2 L494.3,297.7 L494.2,298.2 L494.1,298.7 L494.0,299.2 L493.9,299.7 L493.7,300.2 L493.6,300.7 L493.5,301.2 L493.4,301.7 L493.3,302.2 L493.2,302.7 L493.1,303.2 L493.0,303.7 L492.9,304.2 L492.8,304.7 L492.7,305.2 L492.6,305.7 L492.5,306.2 L492.4,306.7 L492.3,307.2 L492.2,307.7 L492.1,308.2 L492.0,308.7 L491.9,309.2 L491.8,309.7 L491.7,310.2 L491.5,310.7 L491.4,311.2 L491.3,311.7 L491.2,312.2 L491.1,312.7 L491.0,313.2 L490.9,313.7 L490.8,314.2 L490.7,314.7 L490.6,315.2 L490.5,315.7 L490.4,316.2 L490.3,316.7 L490.2,317.2 L490.1,317.7 L490.0,318.2 L489.9,318.7 L489.8,319.2 L489.7,319.7 L489.6,320.2 L489.5,320.7 L489.3,321.2 L489.2,321.7 L489.1,322.2 L489.1,322.7 L489.0,323.2 L488.9,323.7 L488.8,324.2 L488.7,324.7 L488.6,325.2 L488.5,325.7 L488.4,326.2 L488.3,326.7 L488.3,327.2 L488.2,327.7 L488.1,328.2 L488.0,328.7 L487.9,329.2 L487.9,329.7 L487.8,330.2 L487.7,330.7 L487.6,331.2 L487.6,331.7 L487.5,332.2 L487.4,332.7 L487.4,333.2 L487.3,333.7 L487.2,334.2 L487.2,334.7 L487.1,335.2 L487.0,335.7 L486.9,336.2 L486.9,336.7 L486.8,337.2 L486.7,337.7 L486.7,338.2 L486.6,338.7 L486.5,339.2 L486.4,339.7 L486.4,340.2 L486.3,340.7 L486.2,341.2 L486.1,341.7 L486.1,342.2 L486.0,342.7 L485.9,343.2 L485.8,343.7 L485.7,344.2 L485.7,344.7 L485.6,345.2 L485.5,345.7 L485.4,346.2 L485.4,346.7 L485.3,347.2 L485.2,347.7 L485.1,348.2 L485.1,348.7 L485.0,349.2 L484.9,349.7 L484.9,350.2 L484.8,350.7 L484.7,351.2 L484.7,351.7 L484.6,352.2 L484.5,352.7 L484.5,353.2 L484.4,353.7 L484.4,354.2 L484.3,354.7 L484.2,355.2 L484.2,355.7 L484.1,356.2 L484.1,356.7 L484.0,357.2 L484.0,357.7 L483.9,358.2 L483.8,358.7 L483.8,359.2 L483.7,359.7 L483.7,360.2 L483.6,360.7 L483.5,361.2 L483.5,361.7 L483.4,362.2 L483.3,362.7 L483.3,363.2 L483.2,363.7 L483.2,364.2 L483.1,364.7 L483.1,365.2 L483.0,365.7 L483.0,366.2 L483.0,366.7 L482.9,367.2 L482.9,367.7 L482.9,368.2 L482.8,368.7 L482.8,369.2 L482.8,369.7 L482.7,370.2 L482.7,370.7 L482.7,371.2 L482.7,371.7 L482.6,372.2 L482.6,372.7 L482.6,373.2 L482.6,373.7 L482.6,374.2 L482.5,374.7 L482.5,375.2 L482.5,375.7 L482.5,376.2 L482.5,376.7 L482.5,377.2 L482.5,377.7 L482.5,378.2 L482.5,378.7 L482.5,379.2 L482.5,379.7 L482.6,380.2 L482.6,380.7 L482.6,381.2 L482.7,381.7 L482.7,382.2 L482.7,382.7 L482.8,383.2 L482.8,383.7 L482.9,384.2 L482.9,384.7 L483.0,385.2 L483.0,385.7 L483.1,386.2 L483.2,386.7 L483.2,387.2 L483.3,387.7 L483.4,388.2 L483.4,388.7 L483.5,389.2 L483.6,389.7 L483.6,390.2 L483.7,390.7 L483.8,391.2 L483.9,391.7 L484.0,392.2 L484.1,392.7 L484.2,393.2 L484.3,393.7 L484.5,394.2 L484.6,394.7 L484.7,395.2 L484.9,395.7 L485.0,396.2 L485.2,396.7 L485.4,397.2 L485.5,397.7 L485.7,398.2 L485.9,398.7 L486.1,399.2 L486.3,399.7 L486.5,400.2 L486.6,400.7 L486.8,401.2 L487.0,401.7 L487.2,402.2 L487.4,402.7 L487.6,403.2 L487.8,403.7 L488.0,404.2 L488.2,404.7 L488.5,405.2 L488.7,405.7 L488.9,406.2 L489.2,406.7 L489.4,407.2 L489.7,407.7 L490.0,408.2 L490.3,408.7 L490.6,409.2 L490.9,409.7 L491.2,410.2 L491.5,410.7 L491.9,411.2 L492.2,411.7 L492.6,412.2 L493.0,412.7 L493.4,413.2 L493.8,413.7 L494.2,414.2 L494.6,414.7 L494.9,415.0 L514.9,415.0 L515.2,414.7 L515.6,414.2 L516.0,413.7 L516.4,413.2 L516.8,412.7 L517.2,412.2 L517.6,411.7 L517.9,411.2 L518.3,410.7 L518.6,410.2 L518.9,409.7 L519.2,409.2 L519.5,408.7 L519.8,408.2 L520.1,407.7 L520.4,407.2 L520.6,406.7 L520.9,406.2 L521.1,405.7 L521.3,405.2 L521.6,404.7 L521.8,404.2 L522.0,403.7 L522.2,403.2 L522.4,402.7 L522.6,402.2 L522.8,401.7 L523.0,401.2 L523.2,400.7 L523.3,400.2 L523.5,399.7 L523.7,399.2 L523.9,398.7 L524.1,398.2 L524.3,397.7 L524.4,397.2 L524.6,396.7 L524.8,396.2 L524.9,395.7 L525.1,395.2 L525.2,394.7 L525.3,394.2 L525.5,393.7 L525.6,393.2 L525.7,392.7 L525.8,392.2 L525.9,391.7 L526.0,391.2 L526.1,390.7 L526.2,390.2 L526.2,389.7 L526.3,389.2 L526.4,388.7 L526.4,388.2 L526.5,387.7 L526.6,387.2 L526.6,386.7 L526.7,386.2 L526.8,385.7 L526.8,385.2 L526.9,384.7 L526.9,384.2 L527.0,383.7 L527.0,383.2 L527.1,382.7 L527.1,382.2 L527.1,381.7 L527.2,381.2 L527.2,380.7 L527.2,380.2 L527.3,379.7 L527.3,379.2 L527.3,378.7 L527.3,378.2 L527.3,377.7 L527.3,377.2 L527.3,376.7 L527.3,376.2 L527.3,375.7 L527.3,375.2 L527.3,374.7 L527.2,374.2 L527.2,373.7 L527.2,373.2 L527.2,372.7 L527.2,372.2 L527.1,371.7 L527.1,371.2 L527.1,370.7 L527.1,370.2 L527.0,369.7 L527.0,369.2 L527.0,368.7 L526.9,368.2 L526.9,367.7 L526.9,367.2 L526.8,366.7 L526.8,366.2 L526.8,365.7 L526.7,365.2 L526.7,364.7 L526.6,364.2 L526.6,363.7 L526.5,363.2 L526.5,362.7 L526.4,362.2 L526.3,361.7 L526.3,361.2 L526.2,360.7 L526.1,360.2 L526.1,359.7 L526.0,359.2 L526.0,358.7 L525.9,358.2 L525.8,357.7 L525.8,357.2 L525.7,356.7 L525.7,356.2 L525.6,355.7 L525.6,355.2 L525.5,354.7 L525.4,354.2 L525.4,353.7 L525.3,353.2 L525.3,352.7 L525.2,352.2 L525.1,351.7 L525.1,351.2 L525.0,350.7 L524.9,350.2 L524.9,349.7 L524.8,349.2 L524.7,348.7 L524.7,348.2 L524.6,347.7 L524.5,347.2 L524.4,346.7 L524.4,346.2 L524.3,345.7 L524.2,345.2 L524.1,344.7 L524.1,344.2 L524.0,343.7 L523.9,343.2 L523.8,342.7 L523.7,342.2 L523.7,341.7 L523.6,341.2 L523.5,340.7 L523.4,340.2 L523.4,339.7 L523.3,339.2 L523.2,338.7 L523.1,338.2 L523.1,337.7 L523.0,337.2 L522.9,336.7 L522.9,336.2 L522.8,335.7 L522.7,335.2 L522.6,334.7 L522.6,334.2 L522.5,333.7 L522.4,333.2 L522.4,332.7 L522.3,332.2 L522.2,331.7 L522.2,331.2 L522.1,330.7 L522.0,330.2 L521.9,329.7 L521.9,329.2 L521.8,328.7 L521.7,328.2 L521.6,327.7 L521.5,327.2 L521.5,326.7 L521.4,326.2 L521.3,325.7 L521.2,325.2 L521.1,324.7 L521.0,324.2 L520.9,323.7 L520.8,323.2 L520.7,322.7 L520.7,322.2 L520.6,321.7 L520.5,321.2 L520.3,320.7 L520.2,320.2 L520.1,319.7 L520.0,319.2 L519.9,318.7 L519.8,318.2 L519.7,317.7 L519.6,317.2 L519.5,316.7 L519.4,316.2 L519.3,315.7 L519.2,315.2 L519.1,314.7 L519.0,314.2 L518.9,313.7 L518.8,313.2 L518.7,312.7 L518.6,312.2 L518.5,311.7 L518.4,311.2 L518.3,310.7 L518.1,310.2 L518.0,309.7 L517.9,309.2 L517.8,308.7 L517.7,308.2 L517.6,307.7 L517.5,307.2 L517.4,306.7 L517.3,306.2 L517.2,305.7 L517.1,305.2 L517.0,304.7 L516.9,304.2 L516.8,303.7 L516.7,303.2 L516.6,302.7 L516.5,302.2 L516.4,301.7 L516.3,301.2 L516.2,300.7 L516.1,300.2 L515.9,299.7 L515.8,299.2 L515.7,298.7 L515.6,298.2 L515.5,297.7 L515.3,297.2 L515.2,296.7 L515.1,296.2 L514.9,295.7 L514.8,295.2 L514.7,294.7 L514.6,294.2 L514.4,293.7 L514.3,293.2 L514.2,292.7 L514.1,292.2 L514.0,291.7 L513.9,291.2 L513.8,290.7 L513.7,290.2 L513.6,289.7 L513.5,289.2 L513.4,288.7 L513.3,288.2 L513.2,287.7 L513.1,287.2 L513.0,286.7 L512.9,286.2 L512.8,285.7 L512.7,285.2 L512.6,284.7 L512.5,284.2 L512.4,283.7 L512.4,283.2 L512.3,282.7 L512.2,282.2 L512.1,281.7 L512.0,281.2 L511.9,280.7 L511.9,280.2 L511.8,279.7 L511.7,279.2 L511.6,278.7 L511.5,278.2 L511.5,277.7 L511.4,277.2 L511.3,276.7 L511.2,276.2 L511.1,275.7 L511.1,275.2 L511.0,274.7 L510.9,274.2 L510.8,273.7 L510.8,273.2 L510.7,272.7 L510.6,272.2 L510.5,271.7 L510.5,271.2 L510.4,270.7 L510.3,270.2 L510.2,269.7 L510.2,269.2 L510.1,268.7 L510.0,268.2 L510.0,267.7 L509.9,267.2 L509.8,266.7 L509.8,266.2 L509.7,265.7 L509.6,265.2 L509.6,264.7 L509.5,264.2 L509.4,263.7 L509.4,263.2 L509.3,262.7 L509.2,262.2 L509.2,261.7 L509.1,261.2 L509.1,260.7 L509.0,260.2 L508.9,259.7 L508.9,259.2 L508.8,258.7 L508.7,258.2 L508.7,257.7 L508.6,257.2 L508.6,256.7 L508.5,256.2 L508.5,255.7 L508.4,255.2 L508.4,254.7 L508.3,254.2 L508.3,253.7 L508.2,253.2 L508.2,252.7 L508.1,252.2 L508.1,251.7 L508.0,251.2 L508.0,250.7 L507.9,250.2 L507.9,249.7 L507.9,249.2 L507.8,248.7 L507.8,248.2 L507.8,247.7 L507.7,247.2 L507.7,246.7 L507.6,246.2 L507.6,245.7 L507.6,245.2 L507.5,244.7 L507.5,244.2 L507.5,243.7 L507.4,243.2 L507.4,242.7 L507.4,242.2 L507.3,241.7 L507.3,241.2 L507.3,240.7 L507.3,240.2 L507.2,239.7 L507.2,239.2 L507.2,238.7 L507.2,238.2 L507.1,237.7 L507.1,237.2 L507.1,236.7 L507.1,236.2 L507.0,235.7 L507.0,235.2 L507.0,234.7 L507.0,234.2 L507.0,233.7 L507.0,233.2 L506.9,232.7 L506.9,232.2 L506.9,231.7 L506.9,231.2 L506.8,230.7 L506.8,230.2 L506.8,229.7 L506.7,229.2 L506.7,228.7 L506.7,228.2 L506.6,227.7 L506.6,227.2 L506.5,226.7 L506.5,226.2 L506.4,225.7 L506.4,225.2 L506.3,224.7 L506.3,224.2 L506.2,223.7 L506.2,223.2 L506.1,222.7 L506.1,222.2 L506.0,221.7 L506.0,221.2 L505.9,220.7 L505.9,220.2 L505.9,219.7 L505.9,219.2 L505.8,218.7 L505.8,218.2 L505.8,217.7 L505.8,217.2 L505.7,216.7 L505.7,216.2 L505.7,215.7 L505.7,215.2 L505.6,214.7 L505.6,214.2 L505.6,213.7 L505.6,213.2 L505.6,212.7 L505.6,212.2 L505.5,211.7 L505.5,211.2 L505.5,210.7 L505.5,210.2 L505.5,209.7 L505.5,209.2 L505.5,208.7 L505.5,208.2 L505.5,207.7 L505.5,207.2 L505.5,206.7 L505.5,206.2 L505.5,205.7 L505.5,205.2 L505.5,204.7 L505.4,204.2 L505.4,203.7 L505.4,203.2 L505.4,202.7 L505.4,202.2 L505.4,201.7 L505.4,201.2 L505.4,200.7 L505.4,200.2 L505.4,199.7 L505.4,199.2 L505.4,198.7 L505.3,198.2 L505.3,197.7 L505.3,197.2 L505.3,196.7 L505.2,196.2 L505.2,195.7 L505.2,195.2 L505.1,194.7 L505.1,194.2 L505.0,193.7 L505.0,193.2 L504.9,192.7 L504.9,192.2 Z" fill="#1f77b4" fill-opacity="0.3"/>
<path d="M568.3,217.8 L568.3,218.3 L568.3,218.8 L568.2,219.3 L568.2,219.8 L568.1,220.3 L568.1,220.8 L568.1,221.3 L568.0,221.8 L568.0,222.3 L567.9,222.8 L567.9,223.3 L567.8,223.8 L567.8,224.3 L567.8,224.8 L567.7,225.3 L567.7,225.8 L567.6,226.3 L567.6,226.8 L567.6,227.3 L567.5,227.8 L567.5,228.3 L567.5,228.8 L567.4,229.3 L567.4,229.8 L567.4,230.3 L567.3,230.8 L567.3,231.3 L567.2,231.8 L567.2,232.3 L567.2,232.8 L567.1,233.3 L567.0,233.8 L567.0,234.3 L566.9,234.8 L566.9,235.3 L566.8,235.8 L566.7,236.3 L566.6,236.8 L566.5,237.3 L566.4,237.8 L566.3,238.3 L566.2,238.8 L566.1,239.3 L566.0,239.8 L565.9,240.3 L565.8,240.8 L565.7,241.3 L565.6,241.8 L565.6,242.3 L565.5,242.8 L565.4,243.3 L565.3,243.8 L565.2,244.3 L565.1,244.8 L565.1,245.3 L565.0,245.8 L564.9,246.3 L564.8,246.8 L564.7,247.3 L564.7,247.8 L564.6,248.3 L564.5,248.8 L564.4,249.3 L564.3,249.8 L564.3,250.3 L564.2,250.8 L564.1,251.3 L564.0,251.8 L564.0,252.3 L563.9,252.8 L563.8,253.3 L563.7,253.8 L563.7,254.3 L563.6,254.8 L563.5,255.3 L563.4,255.8 L563.4,256.3 L563.3,256.8 L563.2,257.3 L563.1,257.8 L563.1,258.3 L563.0,258.8 L562.9,259.3 L562.8,259.8 L562.8,260.3 L562.7,260.8 L562.6,261.3 L562.5,261.8 L562.5,262.3 L562.4,262.8 L562.3,263.3 L562.3,263.8 L562.2,264.3 L562.1,264.8 L562.0,265.3 L562.0,265.8 L561.9,266.3 L561.8,266.8 L561.7,267.3 L561.7,267.8 L561.6,268.3 L561.5,268.8 L561.4,269.3 L561.4,269.8 L561.3,270.3 L561.2,270.8 L561.2,271.3 L561.1,271.8 L561.0,272.3 L561.0,272.8 L560.9,273.3 L560.8,273.8 L560.7,274.3 L560.7,274.8 L560.6,275.3 L560.5,275.8 L560.5,276.3 L560.4,276.8 L560.3,277.3 L560.2,277.8 L560.2,278.3 L560.1,278.8 L560.0,279.3 L559.9,279.8 L559.8,280.3 L559.8,280.8 L559.7,281.3 L559.6,281.8 L559.5,282.3 L559.4,282.8 L559.3,283.3 L559.2,283.8 L559.1,284.3 L559.0,284.8 L558.8,285.3 L558.7,285.8 L558.6,286.3 L558.5,286.8 L558.4,287.3 L558.3,287.8 L558.2,288.3 L558.0,288.8 L557.9,289.3 L557.8,289.8 L557.7,290.3 L557.6,290.8 L557.4,291.3 L557.3,291.8 L557.2,292.3 L557.1,292.8 L556.9,293.3 L556.8,293.8 L556.7,294.3 L556.5,294.8 L556.4,295.3 L556.3,295.8 L556.1,296.3 L556.0,296.8 L555.9,297.3 L555.7,297.8 L555.6,298.3 L555.5,298.8 L555.3,299.3 L555.2,299.8 L555.1,300.3 L555.0,300.8 L554.8,301.3 L554.7,301.8 L554.6,302.3 L554.5,302.8 L554.4,303.3 L554.3,303.8 L554.2,304.3 L554.1,304.8 L554.0,305.3 L553.9,305.8 L553.8,306.3 L553.7,306.8 L553.6,307.3 L553.5,307.8 L553.4,308.3 L553.3,308.8 L553.2,309.3 L553.1,309.8 L553.0,310.3 L552.9,310.8 L552.8,311.3 L552.7,311.8 L552.6,312.3 L552.5,312.8 L552.4,313.3 L552.3,313.8 L552.2,314.3 L552.2,314.8 L552.1,315.3 L552.0,315.8 L551.9,316.3 L551.8,316.8 L551.7,317.3 L551.7,317.8 L551.6,318.3 L551.5,318.8 L551.4,319.3 L551.3,319.8 L551.3,320.3 L551.2,320.8 L551.1,321.3 L551.0,321.8 L551.0,322.3 L550.9,322.8 L550.8,323.3 L550.7,323.8 L550.7,324.3 L550.6,324.8 L550.5,325.3 L550.4,325.8 L550.4,326.3 L550.3,326.8 L550.2,327.3 L550.1,327.8 L550.1,328.3 L550.0,328.8 L549.9,329.3 L549.8,329.8 L549.7,330.3 L549.7,330.8 L549.6,331.3 L549.5,331.8 L549.4,332.3 L549.3,332.8 L549.2,333.3 L549.2,333.8 L549.1,334.3 L549.0,334.8 L548.9,335.3 L548.8,335.8 L548.7,336.3 L548.7,336.8 L548.6,337.3 L548.5,337.8 L548.4,338.3 L548.3,338.8 L548.3,339.3 L548.2,339.8 L548.1,340.3 L548.1,340.8 L548.0,341.3 L548.0,341.8 L547.9,342.3 L547.8,342.8 L547.8,343.3 L547.7,343.8 L547.7,344.3 L547.6,344.8 L547.5,345.3 L547.5,345.8 L547.4,346.3 L547.4,346.8 L547.3,347.3 L547.3,347.8 L547.2,348.3 L547.2,348.8 L547.1,349.3 L547.1,349.8 L547.1,350.3 L547.0,350.8 L547.0,351.3 L547.0,351.8 L546.9,352.3 L546.9,352.8 L546.9,353.3 L546.8,353.8 L546.8,354.3 L546.8,354.8 L546.8,355.3 L546.7,355.8 L546.7,356.3 L546.7,356.8 L546.7,357.3 L546.6,357.8 L546.6,358.3 L546.6,358.8 L546.6,359.3 L546.6,359.8 L546.5,360.3 L546.5,360.8 L546.5,361.3 L546.5,361.8 L546.5,362.3 L546.5,362.8 L546.5,363.3 L546.5,363.8 L546.5,364.3 L546.5,364.8 L546.5,365.3 L546.5,365.8 L546.5,366.3 L546.5,366.8 L546.5,367.3 L546.5,367.8 L546.5,368.3 L546.5,368.8 L546.5,369.3 L546.5,369.8 L546.6,370.3 L546.6,370.8 L546.6,371.3 L546.6,371.8 L546.6,372.3 L546.7,372.8 L546.7,373.3 L546.7,373.8 L546.7,374.3 L546.8,374.8 L546.8,375.3 L546.8,375.8 L546.9,376.3 L546.9,376.8 L546.9,377.3 L546.9,377.8 L547.0,378.3 L547.0,378.8 L547.0,379.3 L547.1,379.8 L547.1,380.3 L547.2,380.8 L547.2,381.3 L547.3,381.8 L547.3,382.3 L547.4,382.8 L547.4,383.3 L547.5,383.8 L547.5,384.3 L547.6,384.8 L547.7,385.3 L547.7,385.8 L547.8,386.3 L547.9,386.8 L547.9,387.3 L548.0,387.8 L548.1,388.3 L548.2,388.8 L548.3,389.3 L548.3,389.8 L548.4,390.3 L548.5,390.8 L548.6,391.3 L548.7,391.8 L548.8,392.3 L548.9,392.8 L549.0,393.3 L549.1,393.8 L549.3,394.3 L549.4,394.8 L549.5,395.3 L549.7,395.8 L549.8,396.3 L550.0,396.8 L550.1,397.3 L550.3,397.8 L550.5,398.3 L550.6,398.8 L550.8,399.3 L551.0,399.8 L551.1,400.3 L551.3,400.8 L551.5,401.3 L551.7,401.8 L551.9,402.3 L552.1,402.8 L552.3,403.3 L552.5,403.8 L552.7,404.3 L552.9,404.8 L553.2,405.3 L553.4,405.8 L553.7,406.3 L553.9,406.8 L554.2,407.3 L554.4,407.8 L554.7,408.3 L555.0,408.8 L555.2,409.3 L555.5,409.8 L555.8,410.3 L556.0,410.8 L556.3,411.3 L556.6,411.8 L556.8,412.3 L557.1,412.8 L557.3,413.3 L557.6,413.8 L557.9,414.3 L558.1,414.8 L558.4,415.3 L558.7,415.8 L558.9,416.3 L559.2,416.8 L559.5,417.3 L559.7,417.8 L560.0,418.3 L560.3,418.8 L560.6,419.3 L560.8,419.8 L560.9,420.0 L576.9,420.0 L577.1,419.8 L577.3,419.3 L577.6,418.8 L577.9,418.3 L578.2,417.8 L578.4,417.3 L578.7,416.8 L579.0,416.3 L579.2,415.8 L579.5,415.3 L579.8,414.8 L580.0,414.3 L580.3,413.8 L580.6,413.3 L580.8,412.8 L581.1,412.3 L581.3,411.8 L581.6,411.3 L581.9,410.8 L582.1,410.3 L582.4,409.8 L582.7,409.3 L582.9,408.8 L583.2,408.3 L583.5,407.8 L583.7,407.3 L584.0,406.8 L584.2,406.3 L584.5,405.8 L584.7,405.3 L585.0,404.8 L585.2,404.3 L585.4,403.8 L585.6,403.3 L585.8,402.8 L586.0,402.3 L586.2,401.8 L586.4,401.3 L586.6,400.8 L586.8,400.3 L586.9,399.8 L587.1,399.3 L587.3,398.8 L587.4,398.3 L587.6,397.8 L587.8,397.3 L587.9,396.8 L588.1,396.3 L588.2,395.8 L588.4,395.3 L588.5,394.8 L588.6,394.3 L588.8,393.8 L588.9,393.3 L589.0,392.8 L589.1,392.3 L589.2,391.8 L589.3,391.3 L589.4,390.8 L589.5,390.3 L589.6,389.8 L589.6,389.3 L589.7,388.8 L589.8,388.3 L589.9,387.8 L590.0,387.3 L590.0,386.8 L590.1,386.3 L590.2,385.8 L590.2,385.3 L590.3,384.8 L590.4,384.3 L590.4,383.8 L590.5,383.3 L590.5,382.8 L590.6,382.3 L590.6,381.8 L590.7,381.3 L590.7,380.8 L590.8,380.3 L590.8,379.8 L590.9,379.3 L590.9,378.8 L590.9,378.3 L591.0,377.8 L591.0,377.3 L591.0,376.8 L591.0,376.3 L591.1,375.8 L591.1,375.3 L591.1,374.8 L591.2,374.3 L591.2,373.8 L591.2,373.3 L591.2,372.8 L591.3,372.3 L591.3,371.8 L591.3,371.3 L591.3,370.8 L591.3,370.3 L591.4,369.8 L591.4,369.3 L591.4,368.8 L591.4,368.3 L591.4,367.8 L591.4,367.3 L591.4,366.8 L591.4,366.3 L591.4,365.8 L591.4,365.3 L591.4,364.8 L591.4,364.3 L591.4,363.8 L591.4,363.3 L591.4,362.8 L591.4,362.3 L591.4,361.8 L591.4,361.3 L591.4,360.8 L591.4,360.3 L591.3,359.8 L591.3,359.3 L591.3,358.8 L591.3,358.3 L591.3,357.8 L591.2,357.3 L591.2,356.8 L591.2,356.3 L591.2,355.8 L591.1,355.3 L591.1,354.8 L591.1,354.3 L591.1,353.8 L591.0,353.3 L591.0,352.8 L591.0,352.3 L590.9,351.8 L590.9,351.3 L590.9,350.8 L590.8,350.3 L590.8,349.8 L590.8,349.3 L590.7,348.8 L590.7,348.3 L590.6,347.8 L590.6,347.3 L590.5,346.8 L590.5,346.3 L590.4,345.8 L590.4,345.3 L590.3,344.8 L590.2,344.3 L590.2,343.8 L590.1,343.3 L590.1,342.8 L590.0,342.3 L589.9,341.8 L589.9,341.3 L589.8,340.8 L589.8,340.3 L589.7,339.8 L589.6,339.3 L589.6,338.8 L589.5,338.3 L589.4,337.8 L589.3,337.3 L589.2,336.8 L589.2,336.3 L589.1,335.8 L589.0,335.3 L588.9,334.8 L588.8,334.3 L588.7,333.8 L588.7,333.3 L588.6,332.8 L588.5,332.3 L588.4,331.8 L588.3,331.3 L588.2,330.8 L588.2,330.3 L588.1,329.8 L588.0,329.3 L587.9,328.8 L587.8,328.3 L587.8,327.8 L587.7,327.3 L587.6,326.8 L587.5,326.3 L587.5,325.8 L587.4,325.3 L587.3,324.8 L587.2,324.3 L587.2,323.8 L587.1,323.3 L587.0,322.8 L586.9,322.3 L586.9,321.8 L586.8,321.3 L586.7,320.8 L586.6,320.3 L586.6,319.8 L586.5,319.3 L586.4,318.8 L586.3,318.3 L586.2,317.8 L586.2,317.3 L586.1,316.8 L586.0,316.3 L585.9,315.8 L585.8,315.3 L585.7,314.8 L585.7,314.3 L585.6,313.8 L585.5,313.3 L585.4,312.8 L585.3,312.3 L585.2,311.8 L585.1,311.3 L585.0,310.8 L584.9,310.3 L584.8,309.8 L584.7,309.3 L584.6,308.8 L584.5,308.3 L584.4,307.8 L584.3,307.3 L584.2,306.8 L584.1,306.3 L584.0,305.8 L583.9,305.3 L583.8,304.8 L583.7,304.3 L583.6,303.8 L583.5,303.3 L583.4,302.8 L583.3,302.3 L583.2,301.8 L583.1,301.3 L582.9,300.8 L582.8,300.3 L582.7,299.8 L582.6,299.3 L582.4,298.8 L582.3,298.3 L582.2,297.8 L582.0,297.3 L581.9,296.8 L581.8,296.3 L581.6,295.8 L581.5,295.3 L581.4,294.8 L581.2,294.3 L581.1,293.8 L581.0,293.3 L580.8,292.8 L580.7,292.3 L580.6,291.8 L580.5,291.3 L580.3,290.8 L580.2,290.3 L580.1,289.8 L580.0,289.3 L579.9,288.8 L579.7,288.3 L579.6,287.8 L579.5,287.3 L579.4,286.8 L579.3,286.3 L579.2,285.8 L579.1,285.3 L578.9,284.8 L578.8,284.3 L578.7,283.8 L578.6,283.3 L578.5,282.8 L578.4,282.3 L578.3,281.8 L578.2,281.3 L578.1,280.8 L578.1,280.3 L578.0,279.8 L577.9,279.3 L577.8,278.8 L577.7,278.3 L577.7,277.8 L577.6,277.3 L577.5,276.8 L577.4,276.3 L577.4,275.8 L577.3,275.3 L577.2,274.8 L577.2,274.3 L577.1,273.8 L577.0,273.3 L576.9,272.8 L576.9,272.3 L576.8,271.8 L576.7,271.3 L576.7,270.8 L576.6,270.3 L576.5,269.8 L576.5,269.3 L576.4,268.8 L576.3,268.3 L576.2,267.8 L576.2,267.3 L576.1,266.8 L576.0,266.3 L575.9,265.8 L575.9,265.3 L575.8,264.8 L575.7,264.3 L575.6,263.8 L575.6,263.3 L575.5,262.8 L575.4,262.3 L575.4,261.8 L575.3,261.3 L575.2,260.8 L575.1,260.3 L575.1,259.8 L575.0,259.3 L574.9,258.8 L574.8,258.3 L574.8,257.8 L574.7,257.3 L574.6,256.8 L574.5,256.3 L574.5,255.8 L574.4,255.3 L574.3,254.8 L574.2,254.3 L574.2,253.8 L574.1,253.3 L574.0,252.8 L573.9,252.3 L573.9,251.8 L573.8,251.3 L573.7,250.8 L573.6,250.3 L573.6,249.8 L573.5,249.3 L573.4,248.8 L573.3,248.3 L573.2,247.8 L573.2,247.3 L573.1,246.8 L573.0,246.3 L572.9,245.8 L572.8,245.3 L572.8,244.8 L572.7,244.3 L572.6,243.8 L572.5,243.3 L572.4,242.8 L572.3,242.3 L572.3,241.8 L572.2,241.3 L572.1,240.8 L572.0,240.3 L571.9,239.8 L571.8,239.3 L571.7,238.8 L571.6,238.3 L571.5,237.8 L571.4,237.3 L571.3,236.8 L571.2,236.3 L571.1,235.8 L571.0,235.3 L571.0,234.8 L570.9,234.3 L570.8,233.8 L570.8,233.3 L570.7,232.8 L570.7,232.3 L570.7,231.8 L570.6,231.3 L570.6,230.8 L570.5,230.3 L570.5,229.8 L570.5,229.3 L570.4,228.8 L570.4,228.3 L570.4,227.8 L570.3,227.3 L570.3,226.8 L570.3,226.3 L570.2,225.8 L570.2,225.3 L570.1,224.8 L570.1,224.3 L570.1,223.8 L570.0,223.3 L570.0,222.8 L569.9,222.3 L569.9,221.8 L569.8,221.3 L569.8,220.8 L569.8,220.3 L569.7,219.8 L569.7,219.3 L569.6,218.8 L569.6,218.3 L569.5,217.8 Z" fill="#1f77b4" fill-opacity="0.3"/>
<path d="M632.2,160.0 L632.2,160.5 L632.1,161.0 L632.1,161.5 L632.1,162.0 L632.1,162.5 L632.0,163.0 L632.0,163.5 L632.0,164.0 L632.0,164.5 L631.9,165.0 L631.9,165.5 L631.9,166.0 L631.9,166.5 L631.9,167.0 L631.8,167.5 L631.8,168.0 L631.8,168.5 L631.8,169.0 L631.8,169.5 L631.7,170.0 L631.7,170.5 L631.7,171.0 L631.7,171.5 L631.7,172.0 L631.7,172.5 L631.7,173.0 L631.6,173.5 L631.6,174.0 L631.6,174.5 L631.6,175.0 L631.6,175.5 L631.6,176.0 L631.6,176.5 L631.6,177.0 L631.6,177.5 L631.6,178.0 L631.6,178.5 L631.6,179.0 L631.6,179.5 L631.6,180.0 L631.6,180.5 L631.6,181.0 L631.6,181.5 L631.6,182.0 L631.5,182.5 L631.5,183.0 L631.5,183.5 L631.5,184.0 L631.5,184.5 L631.5,185.0 L631.5,185.5 L631.5,186.0 L631.5,186.5 L631.5,187.0 L631.5,187.5 L631.5,188.0 L631.5,188.5 L631.5,189.0 L631.5,189.5 L631.5,190.0 L631.5,190.5 L631.5,191.0 L631.5,191.5 L631.4,192.0 L631.4,192.5 L631.4,193.0 L631.4,193.5 L631.4,194.0 L631.4,194.5 L631.3,195.0 L631.3,195.5 L631.3,196.0 L631.3,196.5 L631.3,197.0 L631.3,197.5 L631.2,198.0 L631.2,198.5 L631.2,199.0 L631.2,199.5 L631.2,200.0 L631.1,200.5 L631.1,201.0 L631.1,201.5 L631.1,202.0 L631.1,202.5 L631.1,203.0 L631.0,203.5 L631.0,204.0 L631.0,204.5 L631.0,205.0 L631.0,205.5 L630.9,206.0 L630.9,206.5 L630.9,207.0 L630.9,207.5 L630.9,208.0 L630.9,208.5 L630.8,209.0 L630.8,209.5 L630.8,210.0 L630.8,210.5 L630.8,211.0 L630.7,211.5 L630.7,212.0 L630.7,212.5 L630.7,213.0 L630.6,213.5 L630.6,214.0 L630.6,214.5 L630.6,215.0 L630.6,215.5 L630.5,216.0 L630.5,216.5 L630.5,217.0 L630.5,217.5 L630.4,218.0 L630.4,218.5 L630.4,219.0 L630.4,219.5 L630.3,220.0 L630.3,220.5 L630.3,221.0 L630.3,221.5 L630.2,222.0 L630.2,222.5 L630.2,223.0 L630.1,223.5 L630.1,224.0 L630.1,224.5 L630.1,225.0 L630.0,225.5 L630.0,226.0 L630.0,226.5 L629.9,227.0 L629.9,227.5 L629.9,228.0 L629.8,228.5 L629.8,229.0 L629.7,229.5 L629.7,230.0 L629.7,230.5 L629.6,231.0 L629.6,231.5 L629.5,232.0 L629.5,232.5 L629.4,233.0 L629.4,233.5 L629.4,234.0 L629.3,234.5 L629.3,235.0 L629.3,235.5 L629.3,236.0 L629.2,236.5 L629.2,237.0 L629.2,237.5 L629.2,238.0 L629.2,238.5 L629.1,239.0 L629.1,239.5 L629.1,240.0 L629.1,240.5 L629.0,241.0 L629.0,241.5 L628.9,242.0 L628.8,242.5 L628.8,243.0 L628.7,243.5 L628.6,244.0 L628.5,244.5 L628.5,245.0 L628.4,245.5 L628.3,246.0 L628.2,246.5 L628.2,247.0 L628.1,247.5 L628.0,248.0 L627.9,248.5 L627.9,249.0 L627.8,249.5 L627.8,250.0 L627.7,250.5 L627.7,251.0 L627.6,251.5 L627.6,252.0 L627.5,252.5 L627.5,253.0 L627.4,253.5 L627.4,254.0 L627.3,254.5 L627.3,255.0 L627.2,255.5 L627.2,256.0 L627.1,256.5 L627.1,257.0 L627.0,257.5 L627.0,258.0 L626.9,258.5 L626.9,259.0 L626.8,259.5 L626.8,260.0 L626.7,260.5 L626.7,261.0 L626.6,261.5 L626.6,262.0 L626.5,262.5 L626.5,263.0 L626.4,263.5 L626.3,264.0 L626.3,264.5 L626.2,265.0 L626.2,265.5 L626.1,266.0 L626.0,266.5 L626.0,267.0 L625.9,267.5 L625.9,268.0 L625.8,268.5 L625.7,269.0 L625.7,269.5 L625.6,270.0 L625.6,270.5 L625.5,271.0 L625.5,271.5 L625.4,272.0 L625.3,272.5 L625.3,273.0 L625.2,273.5 L625.2,274.0 L625.1,274.5 L625.1,275.0 L625.0,275.5 L625.0,276.0 L624.9,276.5 L624.9,277.0 L624.8,277.5 L624.8,278.0 L624.7,278.5 L624.7,279.0 L624.6,279.5 L624.6,280.0 L624.5,280.5 L624.5,281.0 L624.4,281.5 L624.4,282.0 L624.3,282.5 L624.3,283.0 L624.2,283.5 L624.2,284.0 L624.1,284.5 L624.1,285.0 L624.0,285.5 L624.0,286.0 L623.9,286.5 L623.9,287.0 L623.8,287.5 L623.7,288.0 L623.6,288.5 L623.6,289.0 L623.5,289.5 L623.4,290.0 L623.3,290.5 L623.3,291.0 L623.2,291.5 L623.1,292.0 L623.0,292.5 L622.9,293.0 L622.8,293.5 L622.7,294.0 L622.6,294.5 L622.6,295.0 L622.5,295.5 L622.4,296.0 L622.3,296.5 L622.2,297.0 L622.2,297.5 L622.1,298.0 L622.0,298.5 L621.9,299.0 L621.9,299.5 L621.8,300.0 L621.7,300.5 L621.7,301.0 L621.6,301.5 L621.5,302.0 L621.4,302.5 L621.4,303.0 L621.3,303.5 L621.2,304.0 L621.2,304.5 L621.1,305.0 L621.0,305.5 L620.9,306.0 L620.9,306.5 L620.8,307.0 L620.7,307.5 L620.6,308.0 L620.6,308.5 L620.5,309.0 L620.4,309.5 L620.3,310.0 L620.2,310.5 L620.2,311.0 L620.1,311.5 L620.0,312.0 L619.9,312.5 L619.8,313.0 L619.8,313.5 L619.7,314.0 L619.6,314.5 L619.5,315.0 L619.4,315.5 L619.4,316.0 L619.3,316.5 L619.2,317.0 L619.1,317.5 L619.0,318.0 L618.9,318.5 L618.9,319.0 L618.8,319.5 L618.7,320.0 L618.6,320.5 L618.5,321.0 L618.4,321.5 L618.3,322.0 L618.3,322.5 L618.2,323.0 L618.1,323.5 L618.0,324.0 L617.9,324.5 L617.8,325.0 L617.8,325.5 L617.7,326.0 L617.6,326.5 L617.5,327.0 L617.4,327.5 L617.3,328.0 L617.2,328.5 L617.1,329.0 L617.1,329.5 L617.0,330.0 L616.9,330.5 L616.8,331.0 L616.7,331.5 L616.6,332.0 L616.5,332.5 L616.5,333.0 L616.4,333.5 L616.3,334.0 L616.2,334.5 L616.1,335.0 L616.1,335.5 L616.0,336.0 L615.9,336.5 L615.8,337.0 L615.7,337.5 L615.7,338.0 L615.6,338.5 L615.5,339.0 L615.4,339.5 L615.4,340.0 L615.3,340.5 L615.2,341.0 L615.1,341.5 L615.1,342.0 L615.0,342.5 L614.9,343.0 L614.8,343.5 L614.7,344.0 L614.7,344.5 L614.6,345.0 L614.5,345.5 L614.4,346.0 L614.3,346.5 L614.3,347.0 L614.2,347.5 L614.1,348.0 L614.0,348.5 L613.9,349.0 L613.8,349.5 L613.8,350.0 L613.7,350.5 L613.6,351.0 L613.5,351.5 L613.4,352.0 L613.3,352.5 L613.2,353.0 L613.1,353.5 L613.0,354.0 L613.0,354.5 L612.9,355.0 L612.8,355.5 L612.7,356.0 L612.6,356.5 L612.5,357.0 L612.4,357.5 L612.3,358.0 L612.2,358.5 L612.1,359.0 L612.1,359.5 L612.0,360.0 L611.9,360.5 L611.8,361.0 L611.7,361.5 L611.6,362.0 L611.6,362.5 L611.5,363.0 L611.4,363.5 L611.4,364.0 L611.4,364.5 L611.3,365.0 L611.3,365.5 L611.3,366.0 L611.2,366.5 L611.2,367.0 L611.2,367.5 L611.1,368.0 L611.1,368.5 L611.1,369.0 L611.1,369.5 L611.0,370.0 L611.0,370.5 L611.0,371.0 L611.0,371.5 L611.0,372.0 L611.0,372.5 L611.0,373.0 L611.0,373.5 L611.0,374.0 L611.0,374.5 L611.0,375.0 L611.0,375.5 L611.1,376.0 L611.1,376.5 L611.1,377.0 L611.1,377.5 L611.1,378.0 L611.1,378.5 L611.2,379.0 L611.2,379.5 L611.2,380.0 L611.2,380.5 L611.3,381.0 L611.3,381.5 L611.3,382.0 L611.4,382.5 L611.4,383.0 L611.5,383.5 L611.5,384.0 L611.6,384.5 L611.7,385.0 L611.7,385.5 L611.8,386.0 L611.9,386.5 L612.0,387.0 L612.0,387.5 L612.1,388.0 L612.2,388.5 L612.3,389.0 L612.3,389.5 L612.4,390.0 L612.5,390.5 L612.6,391.0 L612.7,391.5 L612.8,392.0 L612.9,392.5 L613.0,393.0 L613.1,393.5 L613.3,394.0 L613.4,394.5 L613.5,395.0 L613.6,395.5 L613.7,396.0 L613.8,396.5 L613.9,397.0 L614.0,397.5 L614.2,398.0 L614.3,398.5 L614.4,399.0 L614.5,399.5 L614.7,400.0 L614.8,400.5 L614.9,401.0 L615.1,401.5 L615.2,402.0 L615.3,402.5 L615.4,403.0 L615.6,403.5 L615.7,404.0 L615.8,404.5 L616.0,405.0 L616.1,405.5 L616.2,406.0 L616.3,406.5 L616.5,407.0 L616.6,407.5 L616.7,408.0 L616.9,408.5 L617.0,409.0 L617.1,409.5 L617.3,410.0 L617.5,410.5 L617.6,411.0 L617.8,411.5 L617.9,412.0 L618.1,412.5 L618.3,413.0 L618.5,413.5 L618.6,414.0 L618.8,414.5 L619.0,415.0 L619.2,415.5 L619.4,416.0 L619.6,416.5 L619.8,417.0 L620.0,417.5 L620.2,418.0 L620.4,418.5 L620.6,419.0 L620.8,419.5 L621.0,420.0 L645.0,420.0 L645.2,419.5 L645.4,419.0 L645.6,418.5 L645.8,418.0 L646.0,417.5 L646.2,417.0 L646.4,416.5 L646.6,416.0 L646.8,415.5 L647.0,415.0 L647.2,414.5 L647.4,414.0 L647.5,413.5 L647.7,413.0 L647.9,412.5 L648.1,412.0 L648.2,411.5 L648.4,411.0 L648.5,410.5 L648.7,410.0 L648.9,409.5 L649.0,409.0 L649.1,408.5 L649.3,408.0 L649.4,407.5 L649.5,407.0 L649.7,406.5 L649.8,406.0 L649.9,405.5 L650.0,405.0 L650.2,404.5 L650.3,404.0 L650.4,403.5 L650.6,403.0 L650.7,402.5 L650.8,402.0 L650.9,401.5 L651.1,401.0 L651.2,400.5 L651.3,400.0 L651.5,399.5 L651.6,399.0 L651.7,398.5 L651.8,398.0 L652.0,397.5 L652.1,397.0 L652.2,396.5 L652.3,396.0 L652.4,395.5 L652.5,395.0 L652.6,394.5 L652.7,394.0 L652.9,393.5 L653.0,393.0 L653.1,392.5 L653.2,392.0 L653.3,391.5 L653.4,391.0 L653.5,390.5 L653.6,390.0 L653.7,389.5 L653.7,389.0 L653.8,388.5 L653.9,388.0 L654.0,387.5 L654.0,387.0 L654.1,386.5 L654.2,386.0 L654.3,385.5 L654.3,385.0 L654.4,384.5 L654.5,384.0 L654.5,383.5 L654.6,383.0 L654.6,382.5 L654.7,382.0 L654.7,381.5 L654.7,381.0 L654.8,380.5 L654.8,380.0 L654.8,379.5 L654.8,379.0 L654.9,378.5 L654.9,378.0 L654.9,377.5 L654.9,377.0 L654.9,376.5 L654.9,376.0 L655.0,375.5 L655.0,375.0 L655.0,374.5 L655.0,374.0 L655.0,373.5 L655.0,373.0 L655.0,372.5 L655.0,372.0 L655.0,371.5 L655.0,371.0 L655.0,370.5 L655.0,370.0 L654.9,369.5 L654.9,369.0 L654.9,368.5 L654.9,368.0 L654.8,367.5 L654.8,367.0 L654.8,366.5 L654.7,366.0 L654.7,365.5 L654.7,365.0 L654.6,364.5 L654.6,364.0 L654.6,363.5 L654.5,363.0 L654.4,362.5 L654.4,362.0 L654.3,361.5 L654.2,361.0 L654.1,360.5 L654.0,360.0 L653.9,359.5 L653.9,359.0 L653.8,358.5 L653.7,358.0 L653.6,357.5 L653.5,357.0 L653.4,356.5 L653.3,356.0 L653.2,355.5 L653.1,355.0 L653.0,354.5 L653.0,354.0 L652.9,353.5 L652.8,353.0 L652.7,352.5 L652.6,352.0 L652.5,351.5 L652.4,351.0 L652.3,350.5 L652.2,350.0 L652.2,349.5 L652.1,349.0 L652.0,348.5 L651.9,348.0 L651.8,347.5 L651.7,347.0 L651.7,346.5 L651.6,346.0 L651.5,345.5 L651.4,345.0 L651.3,344.5 L651.3,344.0 L651.2,343.5 L651.1,343.0 L651.0,342.5 L650.9,342.0 L650.9,341.5 L650.8,341.0 L650.7,340.5 L650.6,340.0 L650.6,339.5 L650.5,339.0 L650.4,338.5 L650.3,338.0 L650.3,337.5 L650.2,337.0 L650.1,336.5 L650.0,336.0 L649.9,335.5 L649.9,335.0 L649.8,334.5 L649.7,334.0 L649.6,333.5 L649.5,333.0 L649.5,332.5 L649.4,332.0 L649.3,331.5 L649.2,331.0 L649.1,330.5 L649.0,330.0 L648.9,329.5 L648.9,329.0 L648.8,328.5 L648.7,328.0 L648.6,327.5 L648.5,327.0 L648.4,326.5 L648.3,326.0 L648.2,325.5 L648.2,325.0 L648.1,324.5 L648.0,324.0 L647.9,323.5 L647.8,323.0 L647.7,322.5 L647.7,322.0 L647.6,321.5 L647.5,321.0 L647.4,320.5 L647.3,320.0 L647.2,319.5 L647.1,319.0 L647.1,318.5 L647.0,318.0 L646.9,317.5 L646.8,317.0 L646.7,316.5 L646.6,316.0 L646.6,315.5 L646.5,315.0 L646.4,314.5 L646.3,314.0 L646.2,313.5 L646.2,313.0 L646.1,312.5 L646.0,312.0 L645.9,311.5 L645.8,311.0 L645.8,310.5 L645.7,310.0 L645.6,309.5 L645.5,309.0 L645.4,308.5 L645.4,308.0 L645.3,307.5 L645.2,307.0 L645.1,306.5 L645.1,306.0 L645.0,305.5 L644.9,305.0 L644.8,304.5 L644.8,304.0 L644.7,303.5 L644.6,303.0 L644.6,302.5 L644.5,302.0 L644.4,301.5 L644.3,301.0 L644.3,300.5 L644.2,300.0 L644.1,299.5 L644.1,299.0 L644.0,298.5 L643.9,298.0 L643.8,297.5 L643.8,297.0 L643.7,296.5 L643.6,296.0 L643.5,295.5 L643.4,295.0 L643.4,294.5 L643.3,294.0 L643.2,293.5 L643.1,293.0 L643.0,292.5 L642.9,292.0 L642.8,291.5 L642.7,291.0 L642.7,290.5 L642.6,290.0 L642.5,289.5 L642.4,289.0 L642.4,288.5 L642.3,288.0 L642.2,287.5 L642.1,287.0 L642.1,286.5 L642.0,286.0 L642.0,285.5 L641.9,285.0 L641.9,284.5 L641.8,284.0 L641.8,283.5 L641.7,283.0 L641.7,282.5 L641.6,282.0 L641.6,281.5 L641.5,281.0 L641.5,280.5 L641.4,280.0 L641.4,279.5 L641.3,279.0 L641.3,278.5 L641.2,278.0 L641.2,277.5 L641.1,277.0 L641.1,276.5 L641.0,276.0 L641.0,275.5 L640.9,275.0 L640.9,274.5 L640.8,274.0 L640.8,273.5 L640.7,273.0 L640.7,272.5 L640.6,272.0 L640.5,271.5 L640.5,271.0 L640.4,270.5 L640.4,270.0 L640.3,269.5 L640.3,269.0 L640.2,268.5 L640.1,268.0 L640.1,267.5 L640.0,267.0 L640.0,266.5 L639.9,266.0 L639.8,265.5 L639.8,265.0 L639.7,264.5 L639.7,264.0 L639.6,263.5 L639.5,263.0 L639.5,262.5 L639.4,262.0 L639.4,261.5 L639.3,261.0 L639.3,260.5 L639.2,260.0 L639.2,259.5 L639.1,259.0 L639.1,258.5 L639.0,258.0 L639.0,257.5 L638.9,257.0 L638.9,256.5 L638.8,256.0 L638.8,255.5 L638.7,255.0 L638.7,254.5 L638.6,254.0 L638.6,253.5 L638.5,253.0 L638.5,252.5 L638.4,252.0 L638.4,251.5 L638.3,251.0 L638.3,250.5 L638.2,250.0 L638.2,249.5 L638.1,249.0 L638.1,248.5 L638.0,248.0 L637.9,247.5 L637.8,247.0 L637.8,246.5 L637.7,246.0 L637.6,245.5 L637.5,245.0 L637.5,244.5 L637.4,244.0 L637.3,243.5 L637.2,243.0 L637.2,242.5 L637.1,242.0 L637.0,241.5 L637.0,241.0 L636.9,240.5 L636.9,240.0 L636.9,239.5 L636.9,239.0 L636.8,238.5 L636.8,238.0 L636.8,237.5 L636.8,237.0 L636.8,236.5 L636.7,236.0 L636.7,235.5 L636.7,235.0 L636.7,234.5 L636.6,234.0 L636.6,233.5 L636.6,233.0 L636.5,232.5 L636.5,232.0 L636.4,231.5 L636.4,231.0 L636.3,230.5 L636.3,230.0 L636.3,229.5 L636.2,229.0 L636.2,228.5 L636.1,228.0 L636.1,227.5 L636.1,227.0 L636.0,226.5 L636.0,226.0 L636.0,225.5 L635.9,225.0 L635.9,224.5 L635.9,224.0 L635.9,223.5 L635.8,223.0 L635.8,222.5 L635.8,222.0 L635.7,221.5 L635.7,221.0 L635.7,220.5 L635.7,220.0 L635.6,219.5 L635.6,219.0 L635.6,218.5 L635.6,218.0 L635.5,217.5 L635.5,217.0 L635.5,216.5 L635.5,216.0 L635.4,215.5 L635.4,215.0 L635.4,214.5 L635.4,214.0 L635.4,213.5 L635.3,213.0 L635.3,212.5 L635.3,212.0 L635.3,211.5 L635.2,211.0 L635.2,210.5 L635.2,210.0 L635.2,209.5 L635.2,209.0 L635.1,208.5 L635.1,208.0 L635.1,207.5 L635.1,207.0 L635.1,206.5 L635.1,206.0 L635.0,205.5 L635.0,205.0 L635.0,204.5 L635.0,204.0 L635.0,203.5 L634.9,203.0 L634.9,202.5 L634.9,202.0 L634.9,201.5 L634.9,201.0 L634.9,200.5 L634.8,200.0 L634.8,199.5 L634.8,199.0 L634.8,198.5 L634.8,198.0 L634.7,197.5 L634.7,197.0 L634.7,196.5 L634.7,196.0 L634.7,195.5 L634.7,195.0 L634.6,194.5 L634.6,194.0 L634.6,193.5 L634.6,193.0 L634.6,192.5 L634.6,192.0 L634.5,191.5 L634.5,191.0 L634.5,190.5 L634.5,190.0 L634.5,189.5 L634.5,189.0 L634.5,188.5 L634.5,188.0 L634.5,187.5 L634.5,187.0 L634.5,186.5 L634.5,186.0 L634.5,185.5 L634.5,185.0 L634.5,184.5 L634.5,184.0 L634.5,183.5 L634.5,183.0 L634.5,182.5 L634.4,182.0 L634.4,181.5 L634.4,181.0 L634.4,180.5 L634.4,180.0 L634.4,179.5 L634.4,179.0 L634.4,178.5 L634.4,178.0 L634.4,177.5 L634.4,177.0 L634.4,176.5 L634.4,176.0 L634.4,175.5 L634.4,175.0 L634.4,174.5 L634.4,174.0 L634.4,173.5 L634.3,173.0 L634.3,172.5 L634.3,172.0 L634.3,171.5 L634.3,171.0 L634.3,170.5 L634.3,170.0 L634.2,169.5 L634.2,169.0 L634.2,168.5 L634.2,168.0 L634.2,167.5 L634.1,167.0 L634.1,166.5 L634.1,166.0 L634.1,165.5 L634.1,165.0 L634.0,164.5 L634.0,164.0 L634.0,163.5 L634.0,163.0 L633.9,162.5 L633.9,162.0 L633.9,161.5 L633.9,161.0 L633.8,160.5 L633.8,160.0 Z" fill="#1f77b4" fill-opacity="0.3"/>
<path d="M120.6,82.1 L120.6,82.6 L120.5,83.1 L120.5,83.6 L120.4,84.1 L120.4,84.6 L120.3,85.1 L120.3,85.6 L120.3,86.1 L120.2,86.6 L120.2,87.1 L120.1,87.6 L120.1,88.1 L120.0,88.6 L120.0,89.1 L119.9,89.6 L119.9,90.1 L119.8,90.6 L119.8,91.1 L119.8,91.6 L119.7,92.1 L119.7,92.6 L119.6,93.1 L119.6,93.6 L119.5,94.1 L119.5,94.6 L119.4,95.1 L119.4,95.6 L119.3,96.1 L119.3,96.6 L119.2,97.1 L119.2,97.6 L119.1,98.1 L119.1,98.6 L119.0,99.1 L119.0,99.6 L118.9,100.1 L118.9,100.6 L118.8,101.1 L118.8,101.6 L118.7,102.1 L118.7,102.6 L118.6,103.1 L118.5,103.6 L118.5,104.1 L118.4,104.6 L118.3,105.1 L118.2,105.6 L118.2,106.1 L118.1,106.6 L118.0,107.1 L117.9,107.6 L117.8,108.1 L117.7,108.6 L117.6,109.1 L117.5,109.6 L117.3,110.1 L117.2,110.6 L117.0,111.1 L116.8,111.6 L116.7,112.1 L116.5,112.6 L116.3,113.1 L116.1,113.6 L115.9,114.1 L115.7,114.6 L115.6,115.1 L115.4,115.6 L115.2,116.1 L115.0,116.6 L114.9,117.1 L114.7,117.6 L114.5,118.1 L114.3,118.6 L114.1,119.1 L113.9,119.6 L113.7,120.1 L113.6,120.6 L113.4,121.1 L113.2,121.6 L113.0,122.1 L112.8,122.6 L112.5,123.1 L112.3,123.6 L112.1,124.1 L111.9,124.6 L111.7,125.1 L111.5,125.6 L111.2,126.1 L111.0,126.6 L110.8,127.1 L110.6,127.6 L110.3,128.1 L110.1,128.6 L109.9,129.1 L109.7,129.6 L109.4,130.1 L109.2,130.6 L109.0,131.1 L108.7,131.6 L108.5,132.1 L108.3,132.6 L108.0,133.1 L107.8,133.6 L107.5,134.1 L107.3,134.6 L107.1,135.1 L106.8,135.6 L106.6,136.1 L106.3,136.6 L106.0,137.1 L105.8,137.6 L105.5,138.1 L105.2,138.6 L104.9,139.1 L104.6,139.6 L104.4,140.1 L104.1,140.6 L103.8,141.1 L103.5,141.6 L103.2,142.1 L103.0,142.6 L102.8,143.1 L102.5,143.6 L102.3,144.1 L102.1,144.6 L101.9,145.1 L101.6,145.6 L101.4,146.1 L101.2,146.6 L101.0,147.1 L100.8,147.6 L100.7,148.1 L100.5,148.6 L100.3,149.1 L100.2,149.6 L100.0,150.1 L99.9,150.6 L99.8,151.1 L99.7,151.6 L99.6,152.1 L99.5,152.6 L99.4,153.1 L99.3,153.6 L99.2,154.1 L99.1,154.6 L99.0,155.1 L98.9,155.6 L98.9,156.1 L98.8,156.6 L98.8,157.1 L98.7,157.6 L98.7,158.1 L98.6,158.6 L98.6,159.1 L98.5,159.6 L98.5,160.1 L98.5,160.6 L98.4,161.1 L98.4,161.6 L98.4,162.1 L98.4,162.6 L98.4,163.1 L98.4,163.6 L98.4,164.1 L98.4,164.6 L98.4,165.1 L98.5,165.6 L98.5,166.1 L98.5,166.6 L98.5,167.1 L98.6,167.6 L98.6,168.1 L98.7,168.6 L98.7,169.1 L98.8,169.6 L99.0,170.1 L99.1,170.6 L99.3,171.1 L99.4,171.6 L99.6,172.1 L99.8,172.6 L100.0,173.1 L100.2,173.6 L100.4,174.1 L100.6,174.6 L100.8,175.1 L101.0,175.6 L101.2,176.1 L101.4,176.6 L101.6,177.1 L101.9,177.6 L102.1,178.1 L102.4,178.6 L102.6,179.1 L102.9,179.6 L103.2,180.1 L103.4,180.6 L103.7,181.1 L103.9,181.6 L104.1,182.1 L104.4,182.6 L104.6,183.1 L104.9,183.6 L105.1,184.1 L105.3,184.6 L105.6,185.1 L105.8,185.6 L106.0,186.1 L106.2,186.6 L106.5,187.1 L106.7,187.6 L106.9,188.1 L107.1,188.6 L107.3,189.1 L107.5,189.6 L107.6,190.1 L107.8,190.6 L108.0,191.1 L108.2,191.6 L108.3,192.1 L108.5,192.6 L108.6,193.1 L108.8,193.6 L108.9,194.1 L109.0,194.6 L109.2,195.1 L109.3,195.6 L109.4,196.1 L109.6,196.6 L109.7,197.1 L109.9,197.6 L110.0,198.1 L110.2,198.6 L110.4,199.1 L110.5,199.6 L110.7,200.1 L110.9,200.6 L111.1,201.1 L111.2,201.6 L111.4,202.1 L111.6,202.6 L111.8,203.1 L112.0,203.6 L112.2,204.1 L112.4,204.6 L112.6,205.1 L112.8,205.6 L113.0,206.1 L113.2,206.6 L113.4,207.1 L113.6,207.6 L113.8,208.1 L114.0,208.6 L114.2,209.1 L114.4,209.6 L114.6,210.1 L114.7,210.6 L114.9,211.1 L115.1,211.6 L115.2,212.1 L115.4,212.6 L115.5,213.1 L115.7,213.6 L115.8,214.1 L115.9,214.6 L116.0,215.1 L116.2,215.6 L116.3,216.1 L116.4,216.6 L116.4,217.1 L116.5,217.6 L116.6,218.1 L116.7,218.6 L116.7,219.1 L116.8,219.6 L116.9,220.1 L116.9,220.6 L117.0,221.1 L117.0,221.6 L117.1,222.1 L117.2,222.6 L117.3,223.1 L117.3,223.6 L117.4,224.1 L117.5,224.6 L117.6,225.1 L117.7,225.6 L117.8,226.1 L117.8,226.6 L117.9,227.1 L118.0,227.6 L118.1,228.1 L118.1,228.6 L118.2,229.1 L118.3,229.6 L118.3,230.1 L118.4,230.6 L118.4,231.1 L118.5,231.6 L118.5,232.1 L118.5,232.6 L118.6,233.1 L118.6,233.6 L118.7,234.1 L118.7,234.6 L118.8,235.1 L118.8,235.6 L118.8,236.1 L118.9,236.6 L118.9,237.1 L119.0,237.6 L119.0,238.1 L119.1,238.6 L119.1,239.1 L119.2,239.6 L119.2,240.1 L119.2,240.6 L119.3,241.1 L119.4,241.6 L119.4,242.1 L119.5,242.6 L119.5,243.1 L119.6,243.6 L119.7,244.1 L119.7,244.6 L119.8,245.1 L119.9,245.6 L120.0,246.1 L120.0,246.6 L120.1,247.1 L120.2,247.6 L120.3,248.1 L120.4,248.6 L120.5,249.1 L120.6,249.6 L120.6,249.7 L120.6,249.7 L120.6,249.6 L120.7,249.1 L120.8,248.6 L120.9,248.1 L121.0,247.6 L121.1,247.1 L121.2,246.6 L121.2,246.1 L121.3,245.6 L121.4,245.1 L121.5,244.6 L121.5,244.1 L121.6,243.6 L121.7,243.1 L121.7,242.6 L121.8,242.1 L121.8,241.6 L121.9,241.1 L122.0,240.6 L122.0,240.1 L122.0,239.6 L122.1,239.1 L122.1,238.6 L122.2,238.1 L122.2,237.6 L122.3,237.1 L122.3,236.6 L122.4,236.1 L122.4,235.6 L122.4,235.1 L122.5,234.6 L122.5,234.1 L122.6,233.6 L122.6,233.1 L122.7,232.6 L122.7,232.1 L122.7,231.6 L122.8,231.1 L122.8,230.6 L122.9,230.1 L122.9,229.6 L123.0,229.1 L123.1,228.6 L123.1,228.1 L123.2,227.6 L123.3,227.1 L123.4,226.6 L123.4,226.1 L123.5,225.6 L123.6,225.1 L123.7,224.6 L123.8,224.1 L123.9,223.6 L123.9,223.1 L124.0,222.6 L124.1,222.1 L124.2,221.6 L124.2,221.1 L124.3,220.6 L124.3,220.1 L124.4,219.6 L124.5,219.1 L124.5,218.6 L124.6,218.1 L124.7,217.6 L124.8,217.1 L124.8,216.6 L124.9,216.1 L125.0,215.6 L125.2,215.1 L125.3,214.6 L125.4,214.1 L125.5,213.6 L125.7,213.1 L125.8,212.6 L126.0,212.1 L126.1,211.6 L126.3,211.1 L126.5,210.6 L126.6,210.1 L126.8,209.6 L127.0,209.1 L127.2,208.6 L127.4,208.1 L127.6,207.6 L127.8,207.1 L128.0,206.6 L128.2,206.1 L128.4,205.6 L128.6,205.1 L128.8,204.6 L129.0,204.1 L129.2,203.6 L129.4,203.1 L129.6,202.6 L129.8,202.1 L130.0,201.6 L130.1,201.1 L130.3,200.6 L130.5,200.1 L130.7,199.6 L130.8,199.1 L131.0,198.6 L131.2,198.1 L131.3,197.6 L131.5,197.1 L131.6,196.6 L131.8,196.1 L131.9,195.6 L132.0,195.1 L132.2,194.6 L132.3,194.1 L132.4,193.6 L132.6,193.1 L132.7,192.6 L132.9,192.1 L133.0,191.6 L133.2,191.1 L133.4,190.6 L133.6,190.1 L133.7,189.6 L133.9,189.1 L134.1,188.6 L134.3,188.1 L134.5,187.6 L134.7,187.1 L135.0,186.6 L135.2,186.1 L135.4,185.6 L135.6,185.1 L135.9,184.6 L136.1,184.1 L136.3,183.6 L136.6,183.1 L136.8,182.6 L137.1,182.1 L137.3,181.6 L137.5,181.1 L137.8,180.6 L138.0,180.1 L138.3,179.6 L138.6,179.1 L138.8,178.6 L139.1,178.1 L139.3,177.6 L139.6,177.1 L139.8,176.6 L140.0,176.1 L140.2,175.6 L140.4,175.1 L140.6,174.6 L140.8,174.1 L141.0,173.6 L141.2,173.1 L141.4,172.6 L141.6,172.1 L141.8,171.6 L141.9,171.1 L142.1,170.6 L142.2,170.1 L142.4,169.6 L142.5,169.1 L142.5,168.6 L142.6,168.1 L142.6,167.6 L142.7,167.1 L142.7,166.6 L142.7,166.1 L142.7,165.6 L142.8,165.1 L142.8,164.6 L142.8,164.1 L142.8,163.6 L142.8,163.1 L142.8,162.6 L142.8,162.1 L142.8,161.6 L142.8,161.1 L142.7,160.6 L142.7,160.1 L142.7,159.6 L142.6,159.1 L142.6,158.6 L142.5,158.1 L142.5,157.6 L142.4,157.1 L142.4,156.6 L142.3,156.1 L142.3,155.6 L142.2,155.1 L142.1,154.6 L142.0,154.1 L141.9,153.6 L141.8,153.1 L141.7,152.6 L141.6,152.1 L141.5,151.6 L141.4,151.1 L141.3,150.6 L141.2,150.1 L141.0,149.6 L140.9,149.1 L140.7,148.6 L140.5,148.1 L140.4,147.6 L140.2,147.1 L140.0,146.6 L139.8,146.1 L139.6,145.6 L139.3,145.1 L139.1,144.6 L138.9,144.1 L138.7,143.6 L138.4,143.1 L138.2,142.6 L138.0,142.1 L137.7,141.6 L137.4,141.1 L137.1,140.6 L136.8,140.1 L136.6,139.6 L136.3,139.1 L136.0,138.6 L135.7,138.1 L135.4,137.6 L135.2,137.1 L134.9,136.6 L134.6,136.1 L134.4,135.6 L134.1,135.1 L133.9,134.6 L133.7,134.1 L133.4,133.6 L133.2,133.1 L132.9,132.6 L132.7,132.1 L132.5,131.6 L132.2,131.1 L132.0,130.6 L131.8,130.1 L131.5,129.6 L131.3,129.1 L131.1,128.6 L130.9,128.1 L130.6,127.6 L130.4,127.1 L130.2,126.6 L130.0,126.1 L129.7,125.6 L129.5,125.1 L129.3,124.6 L129.1,124.1 L128.9,123.6 L128.7,123.1 L128.4,122.6 L128.2,122.1 L128.0,121.6 L127.8,121.1 L127.6,120.6 L127.5,120.1 L127.3,119.6 L127.1,119.1 L126.9,118.6 L126.7,118.1 L126.5,117.6 L126.3,117.1 L126.2,116.6 L126.0,116.1 L125.8,115.6 L125.6,115.1 L125.5,114.6 L125.3,114.1 L125.1,113.6 L124.9,113.1 L124.7,112.6 L124.5,112.1 L124.4,111.6 L124.2,111.1 L124.0,110.6 L123.9,110.1 L123.7,109.6 L123.6,109.1 L123.5,108.6 L123.4,108.1 L123.3,107.6 L123.2,107.1 L123.1,106.6 L123.0,106.1 L123.0,105.6 L122.9,105.1 L122.8,104.6 L122.7,104.1 L122.7,103.6 L122.6,103.1 L122.5,102.6 L122.5,102.1 L122.4,101.6 L122.4,101.1 L122.3,100.6 L122.3,100.1 L122.2,99.6 L122.2,99.1 L122.1,98.6 L122.1,98.1 L122.0,97.6 L122.0,97.1 L121.9,96.6 L121.9,96.1 L121.8,95.6 L121.8,95.1 L121.7,94.6 L121.7,94.1 L121.6,93.6 L121.6,93.1 L121.5,92.6 L121.5,92.1 L121.4,91.6 L121.4,91.1 L121.4,90.6 L121.3,90.1 L121.3,89.6 L121.2,89.1 L121.2,88.6 L121.1,88.1 L121.1,87.6 L121.0,87.1 L121.0,86.6 L120.9,86.1 L120.9,85.6 L120.9,85.1 L120.8,84.6 L120.8,84.1 L120.7,83.6 L120.7,83.1 L120.6,82.6 L120.6,82.1 Z" fill="#ff7f0e" fill-opacity="0.3"/>
<path d="M184.6,78.9 L184.6,79.4 L184.5,79.9 L184.5,80.4 L184.4,80.9 L184.4,81.4 L184.3,81.9 L184.3,82.4 L184.2,82.9 L184.1,83.4 L184.1,83.9 L184.0,84.4 L184.0,84.9 L183.9,85.4 L183.9,85.9 L183.8,86.4 L183.8,86.9 L183.7,87.4 L183.7,87.9 L183.6,88.4 L183.6,88.9 L183.5,89.4 L183.4,89.9 L183.4,90.4 L183.4,90.9 L183.3,91.4 L183.3,91.9 L183.2,92.4 L183.2,92.9 L183.1,93.4 L183.1,93.9 L183.1,94.4 L183.0,94.9 L183.0,95.4 L182.9,95.9 L182.9,96.4 L182.9,96.9 L182.8,97.4 L182.8,97.9 L182.7,98.4 L182.7,98.9 L182.6,99.4 L182.6,99.9 L182.5,100.4 L182.5,100.9 L182.4,101.4 L182.4,101.9 L182.3,102.4 L182.2,102.9 L182.2,103.4 L182.1,103.9 L182.0,104.4 L181.9,104.9 L181.8,105.4 L181.7,105.9 L181.6,106.4 L181.5,106.9 L181.4,107.4 L181.3,107.9 L181.2,108.4 L181.1,108.9 L181.0,109.4 L180.8,109.9 L180.7,110.4 L180.6,110.9 L180.5,111.4 L180.3,111.9 L180.2,112.4 L180.1,112.9 L179.9,113.4 L179.8,113.9 L179.7,114.4 L179.5,114.9 L179.4,115.4 L179.3,115.9 L179.1,116.4 L179.0,116.9 L178.9,117.4 L178.7,117.9 L178.6,118.4 L178.4,118.9 L178.3,119.4 L178.1,119.9 L178.0,120.4 L177.8,120.9 L177.6,121.4 L177.5,121.9 L177.3,122.4 L177.1,122.9 L177.0,123.4 L176.8,123.9 L176.6,124.4 L176.4,124.9 L176.2,125.4 L176.1,125.9 L175.9,126.4 L175.7,126.9 L175.5,127.4 L175.3,127.9 L175.0,128.4 L174.8,128.9 L174.6,129.4 L174.3,129.9 L174.1,130.4 L173.8,130.9 L173.5,131.4 L173.2,131.9 L173.0,132.4 L172.7,132.9 L172.4,133.4 L172.1,133.9 L171.8,134.4 L171.5,134.9 L171.2,135.4 L170.9,135.9 L170.7,136.4 L170.4,136.9 L170.1,137.4 L169.9,137.9 L169.6,138.4 L169.4,138.9 L169.1,139.4 L168.9,139.9 L168.6,140.4 L168.4,140.9 L168.1,141.4 L167.9,141.9 L167.7,142.4 L167.5,142.9 L167.3,143.4 L167.1,143.9 L166.9,144.4 L166.7,144.9 L166.5,145.4 L166.3,145.9 L166.2,146.4 L166.0,146.9 L165.8,147.4 L165.6,147.9 L165.5,148.4 L165.3,148.9 L165.2,149.4 L165.0,149.9 L164.9,150.4 L164.8,150.9 L164.6,151.4 L164.5,151.9 L164.4,152.4 L164.3,152.9 L164.1,153.4 L164.0,153.9 L163.9,154.4 L163.8,154.9 L163.7,155.4 L163.7,155.9 L163.6,156.4 L163.5,156.9 L163.5,157.4 L163.4,157.9 L163.3,158.4 L163.3,158.9 L163.2,159.4 L163.2,159.9 L163.1,160.4 L163.1,160.9 L163.0,161.4 L163.0,161.9 L163.0,162.4 L162.9,162.9 L162.9,163.4 L162.9,163.9 L162.9,164.4 L162.8,164.9 L162.8,165.4 L162.8,165.9 L162.7,166.4 L162.7,166.9 L162.7,167.4 L162.7,167.9 L162.6,168.4 L162.6,168.9 L162.6,169.4 L162.6,169.9 L162.6,170.4 L162.5,170.9 L162.5,171.4 L162.5,171.9 L162.5,172.4 L162.5,172.9 L162.5,173.4 L162.5,173.9 L162.5,174.4 L162.5,174.9 L162.5,175.4 L162.5,175.9 L162.5,176.4 L162.5,176.9 L162.5,177.4 L162.5,177.9 L162.5,178.4 L162.6,178.9 L162.6,179.4 L162.7,179.9 L162.7,180.4 L162.7,180.9 L162.8,181.4 L162.8,181.9 L162.9,182.4 L163.0,182.9 L163.0,183.4 L163.1,183.9 L163.2,184.4 L163.3,184.9 L163.4,185.4 L163.5,185.9 L163.7,186.4 L163.8,186.9 L163.9,187.4 L164.0,187.9 L164.1,188.4 L164.3,188.9 L164.4,189.4 L164.5,189.9 L164.6,190.4 L164.8,190.9 L164.9,191.4 L165.0,191.9 L165.2,192.4 L165.3,192.9 L165.5,193.4 L165.6,193.9 L165.8,194.4 L165.9,194.9 L166.1,195.4 L166.3,195.9 L166.4,196.4 L166.6,196.9 L166.8,197.4 L166.9,197.9 L167.1,198.4 L167.3,198.9 L167.5,199.4 L167.7,199.9 L167.9,200.4 L168.2,200.9 L168.4,201.4 L168.6,201.9 L168.8,202.4 L169.0,202.9 L169.1,203.4 L169.3,203.9 L169.5,204.4 L169.7,204.9 L169.9,205.4 L170.0,205.9 L170.2,206.4 L170.4,206.9 L170.6,207.4 L170.7,207.9 L170.9,208.4 L171.1,208.9 L171.3,209.4 L171.4,209.9 L171.6,210.4 L171.8,210.9 L172.0,211.4 L172.2,211.9 L172.4,212.4 L172.6,212.9 L172.9,213.4 L173.1,213.9 L173.3,214.4 L173.5,214.9 L173.7,215.4 L173.9,215.9 L174.1,216.4 L174.3,216.9 L174.4,217.4 L174.6,217.9 L174.8,218.4 L174.9,218.9 L175.1,219.4 L175.2,219.9 L175.4,220.4 L175.5,220.9 L175.7,221.4 L175.8,221.9 L176.0,222.4 L176.1,222.9 L176.2,223.4 L176.4,223.9 L176.5,224.4 L176.6,224.9 L176.7,225.4 L176.9,225.9 L177.0,226.4 L177.1,226.9 L177.2,227.4 L177.4,227.9 L177.5,228.4 L177.6,228.9 L177.7,229.4 L177.9,229.9 L178.0,230.4 L178.1,230.9 L178.3,231.4 L178.4,231.9 L178.5,232.4 L178.7,232.9 L178.8,233.4 L178.9,233.9 L179.1,234.4 L179.2,234.9 L179.3,235.4 L179.4,235.9 L179.5,236.4 L179.6,236.9 L179.7,237.4 L179.8,237.9 L179.9,238.4 L180.0,238.9 L180.1,239.4 L180.2,239.9 L180.3,240.4 L180.4,240.9 L180.5,241.4 L180.5,241.9 L180.6,242.4 L180.7,242.9 L180.8,243.4 L180.8,243.9 L180.9,244.4 L181.0,244.9 L181.1,245.4 L181.1,245.9 L181.2,246.4 L181.3,246.9 L181.3,247.4 L181.4,247.9 L181.4,248.4 L181.5,248.9 L181.6,249.4 L181.6,249.9 L181.7,250.4 L181.7,250.9 L181.8,251.4 L181.8,251.9 L181.8,252.4 L181.9,252.9 L181.9,253.4 L182.0,253.9 L182.0,254.4 L182.1,254.9 L182.1,255.4 L182.1,255.9 L182.2,256.4 L182.2,256.9 L182.3,257.4 L182.3,257.9 L182.4,258.4 L182.4,258.9 L182.4,259.4 L182.5,259.9 L182.5,260.4 L182.6,260.9 L182.6,261.4 L182.6,261.9 L182.7,262.4 L182.7,262.9 L182.8,263.4 L182.8,263.9 L182.8,264.4 L182.8,264.9 L182.9,265.4 L182.9,265.9 L182.9,266.4 L183.0,266.9 L183.0,267.4 L183.1,267.9 L183.1,268.4 L183.1,268.9 L183.2,269.4 L183.2,269.9 L183.3,270.4 L183.4,270.9 L183.4,271.4 L183.5,271.9 L183.6,272.4 L183.7,272.9 L183.8,273.4 L183.9,273.9 L184.0,274.4 L184.1,274.9 L184.2,275.4 L184.4,275.9 L184.5,276.4 L184.6,276.9 L184.6,277.0 L184.6,277.0 L184.7,276.9 L184.8,276.4 L184.9,275.9 L185.1,275.4 L185.2,274.9 L185.3,274.4 L185.4,273.9 L185.5,273.4 L185.6,272.9 L185.7,272.4 L185.8,271.9 L185.9,271.4 L185.9,270.9 L186.0,270.4 L186.1,269.9 L186.1,269.4 L186.2,268.9 L186.2,268.4 L186.2,267.9 L186.3,267.4 L186.3,266.9 L186.4,266.4 L186.4,265.9 L186.4,265.4 L186.5,264.9 L186.5,264.4 L186.5,263.9 L186.5,263.4 L186.6,262.9 L186.6,262.4 L186.7,261.9 L186.7,261.4 L186.7,260.9 L186.8,260.4 L186.8,259.9 L186.9,259.4 L186.9,258.9 L186.9,258.4 L187.0,257.9 L187.0,257.4 L187.1,256.9 L187.1,256.4 L187.2,255.9 L187.2,255.4 L187.2,254.9 L187.3,254.4 L187.3,253.9 L187.4,253.4 L187.4,252.9 L187.5,252.4 L187.5,251.9 L187.5,251.4 L187.6,250.9 L187.6,250.4 L187.7,249.9 L187.7,249.4 L187.8,248.9 L187.8,248.4 L187.9,247.9 L188.0,247.4 L188.0,246.9 L188.1,246.4 L188.2,245.9 L188.2,245.4 L188.3,244.9 L188.4,244.4 L188.5,243.9 L188.5,243.4 L188.6,242.9 L188.7,242.4 L188.8,241.9 L188.8,241.4 L188.9,240.9 L189.0,240.4 L189.1,239.9 L189.2,239.4 L189.3,238.9 L189.4,238.4 L189.5,237.9 L189.6,237.4 L189.7,236.9 L189.8,236.4 L189.9,235.9 L190.0,235.4 L190.1,234.9 L190.2,234.4 L190.4,233.9 L190.5,233.4 L190.6,232.9 L190.8,232.4 L190.9,231.9 L191.0,231.4 L191.2,230.9 L191.3,230.4 L191.4,229.9 L191.6,229.4 L191.7,228.9 L191.8,228.4 L191.9,227.9 L192.1,227.4 L192.2,226.9 L192.3,226.4 L192.4,225.9 L192.6,225.4 L192.7,224.9 L192.8,224.4 L192.9,223.9 L193.1,223.4 L193.2,222.9 L193.3,222.4 L193.5,221.9 L193.6,221.4 L193.8,220.9 L193.9,220.4 L194.1,219.9 L194.2,219.4 L194.4,218.9 L194.5,218.4 L194.7,217.9 L194.9,217.4 L195.0,216.9 L195.2,216.4 L195.4,215.9 L195.6,215.4 L195.8,214.9 L196.0,214.4 L196.2,213.9 L196.4,213.4 L196.7,212.9 L196.9,212.4 L197.1,211.9 L197.3,211.4 L197.5,210.9 L197.7,210.4 L197.9,209.9 L198.0,209.4 L198.2,208.9 L198.4,208.4 L198.6,207.9 L198.7,207.4 L198.9,206.9 L199.1,206.4 L199.3,205.9 L199.4,205.4 L199.6,204.9 L199.8,204.4 L200.0,203.9 L200.1,203.4 L200.3,202.9 L200.5,202.4 L200.7,201.9 L200.9,201.4 L201.1,200.9 L201.4,200.4 L201.6,199.9 L201.8,199.4 L202.0,198.9 L202.2,198.4 L202.4,197.9 L202.5,197.4 L202.7,196.9 L202.9,196.4 L203.0,195.9 L203.2,195.4 L203.4,194.9 L203.5,194.4 L203.7,193.9 L203.8,193.4 L204.0,192.9 L204.1,192.4 L204.3,191.9 L204.4,191.4 L204.5,190.9 L204.7,190.4 L204.8,189.9 L204.9,189.4 L205.0,188.9 L205.1,188.4 L205.3,187.9 L205.4,187.4 L205.5,186.9 L205.6,186.4 L205.8,185.9 L205.9,185.4 L206.0,184.9 L206.1,184.4 L206.2,183.9 L206.3,183.4 L206.3,182.9 L206.4,182.4 L206.5,181.9 L206.5,181.4 L206.6,180.9 L206.6,180.4 L206.6,179.9 L206.7,179.4 L206.7,178.9 L206.8,178.4 L206.8,177.9 L206.8,177.4 L206.8,176.9 L206.8,176.4 L206.8,175.9 L206.8,175.4 L206.8,174.9 L206.8,174.4 L206.8,173.9 L206.8,173.4 L206.8,172.9 L206.8,172.4 L206.8,171.9 L206.8,171.4 L206.8,170.9 L206.7,170.4 L206.7,169.9 L206.7,169.4 L206.7,168.9 L206.7,168.4 L206.6,167.9 L206.6,167.4 L206.6,166.9 L206.6,166.4 L206.5,165.9 L206.5,165.4 L206.5,164.9 L206.4,164.4 L206.4,163.9 L206.4,163.4 L206.4,162.9 L206.3,162.4 L206.3,161.9 L206.3,161.4 L206.2,160.9 L206.2,160.4 L206.1,159.9 L206.1,159.4 L206.0,158.9 L206.0,158.4 L205.9,157.9 L205.8,157.4 L205.8,156.9 L205.7,156.4 L205.6,155.9 L205.6,155.4 L205.5,154.9 L205.4,154.4 L205.3,153.9 L205.2,153.4 L205.0,152.9 L204.9,152.4 L204.8,151.9 L204.7,151.4 L204.5,150.9 L204.4,150.4 L204.2,149.9 L204.1,149.4 L204.0,148.9 L203.8,148.4 L203.7,147.9 L203.5,147.4 L203.3,146.9 L203.1,146.4 L203.0,145.9 L202.8,145.4 L202.6,144.9 L202.4,144.4 L202.2,143.9 L202.0,143.4 L201.8,142.9 L201.6,142.4 L201.4,141.9 L201.2,141.4 L200.9,140.9 L200.7,140.4 L200.4,139.9 L200.2,139.4 L199.9,138.9 L199.7,138.4 L199.4,137.9 L199.2,137.4 L198.9,136.9 L198.6,136.4 L198.4,135.9 L198.1,135.4 L197.8,134.9 L197.5,134.4 L197.2,133.9 L196.9,133.4 L196.6,132.9 L196.3,132.4 L196.1,131.9 L195.8,131.4 L195.5,130.9 L195.2,130.4 L195.0,129.9 L194.7,129.4 L194.5,128.9 L194.2,128.4 L194.0,127.9 L193.8,127.4 L193.6,126.9 L193.4,126.4 L193.2,125.9 L193.1,125.4 L192.9,124.9 L192.7,124.4 L192.5,123.9 L192.3,123.4 L192.2,122.9 L192.0,122.4 L191.8,121.9 L191.7,121.4 L191.5,120.9 L191.3,120.4 L191.2,119.9 L191.0,119.4 L190.9,118.9 L190.7,118.4 L190.6,117.9 L190.4,117.4 L190.3,116.9 L190.2,116.4 L190.0,115.9 L189.9,115.4 L189.8,114.9 L189.6,114.4 L189.5,113.9 L189.4,113.4 L189.2,112.9 L189.1,112.4 L189.0,111.9 L188.8,111.4 L188.7,110.9 L188.6,110.4 L188.5,109.9 L188.3,109.4 L188.2,108.9 L188.1,108.4 L188.0,107.9 L187.9,107.4 L187.8,106.9 L187.7,106.4 L187.6,105.9 L187.5,105.4 L187.4,104.9 L187.3,104.4 L187.2,103.9 L187.1,103.4 L187.1,102.9 L187.0,102.4 L186.9,101.9 L186.9,101.4 L186.8,100.9 L186.8,100.4 L186.7,99.9 L186.7,99.4 L186.6,98.9 L186.6,98.4 L186.5,97.9 L186.5,97.4 L186.4,96.9 L186.4,96.4 L186.4,95.9 L186.3,95.4 L186.3,94.9 L186.2,94.4 L186.2,93.9 L186.2,93.4 L186.1,92.9 L186.1,92.4 L186.0,91.9 L186.0,91.4 L185.9,90.9 L185.9,90.4 L185.8,89.9 L185.8,89.4 L185.7,88.9 L185.7,88.4 L185.6,87.9 L185.6,87.4 L185.5,86.9 L185.5,86.4 L185.4,85.9 L185.4,85.4 L185.3,84.9 L185.3,84.4 L185.2,83.9 L185.2,83.4 L185.1,82.9 L185.0,82.4 L185.0,81.9 L184.9,81.4 L184.9,80.9 L184.8,80.4 L184.8,79.9 L184.7,79.4 L184.6,78.9 Z" fill="#ff7f0e" fill-opacity="0.3"/>
<path d="M246.9,60.0 L246.9,60.5 L246.8,61.0 L246.8,61.5 L246.7,62.0 L246.7,62.5 L246.6,63.0 L246.6,63.5 L246.5,64.0 L246.5,64.5 L246.4,65.0 L246.4,65.5 L246.3,66.0 L246.2,66.5 L246.2,67.0 L246.1,67.5 L246.0,68.0 L246.0,68.5 L245.9,69.0 L245.8,69.5 L245.8,70.0 L245.7,70.5 L245.6,71.0 L245.6,71.5 L245.5,72.0 L245.4,72.5 L245.4,73.0 L245.3,73.5 L245.2,74.0 L245.1,74.5 L245.1,75.0 L245.0,75.5 L244.9,76.0 L244.8,76.5 L244.8,77.0 L244.7,77.5 L244.6,78.0 L244.5,78.5 L244.4,79.0 L244.3,79.5 L244.2,80.0 L244.1,80.5 L244.0,81.0 L243.9,81.5 L243.8,82.0 L243.6,82.5 L243.5,83.0 L243.4,83.5 L243.3,84.0 L243.1,84.5 L243.0,85.0 L242.9,85.5 L242.7,86.0 L242.6,86.5 L242.5,87.0 L242.3,87.5 L242.2,88.0 L242.1,88.5 L241.9,89.0 L241.8,89.5 L241.7,90.0 L241.5,90.5 L241.4,91.0 L241.3,91.5 L241.2,92.0 L241.0,92.5 L240.9,93.0 L240.8,93.5 L240.6,94.0 L240.5,94.5 L240.4,95.0 L240.2,95.5 L240.1,96.0 L240.0,96.5 L239.8,97.0 L239.7,97.5 L239.6,98.0 L239.4,98.5 L239.3,99.0 L239.2,99.5 L239.0,100.0 L238.9,100.5 L238.8,101.0 L238.6,101.5 L238.5,102.0 L238.4,102.5 L238.2,103.0 L238.1,103.5 L237.9,104.0 L237.8,104.5 L237.7,105.0 L237.5,105.5 L237.4,106.0 L237.3,106.5 L237.1,107.0 L237.0,107.5 L236.9,108.0 L236.7,108.5 L236.6,109.0 L236.4,109.5 L236.3,110.0 L236.2,110.5 L236.0,111.0 L235.9,111.5 L235.8,112.0 L235.6,112.5 L235.5,113.0 L235.4,113.5 L235.2,114.0 L235.1,114.5 L235.0,115.0 L234.8,115.5 L234.7,116.0 L234.6,116.5 L234.4,117.0 L234.3,117.5 L234.2,118.0 L234.0,118.5 L233.9,119.0 L233.8,119.5 L233.6,120.0 L233.5,120.5 L233.4,121.0 L233.2,121.5 L233.1,122.0 L233.0,122.5 L232.8,123.0 L232.7,123.5 L232.6,124.0 L232.4,124.5 L232.3,125.0 L232.2,125.5 L232.1,126.0 L231.9,126.5 L231.8,127.0 L231.7,127.5 L231.6,128.0 L231.5,128.5 L231.4,129.0 L231.3,129.5 L231.1,130.0 L231.0,130.5 L230.9,131.0 L230.8,131.5 L230.7,132.0 L230.6,132.5 L230.5,133.0 L230.3,133.5 L230.2,134.0 L230.1,134.5 L230.0,135.0 L229.9,135.5 L229.8,136.0 L229.7,136.5 L229.6,137.0 L229.5,137.5 L229.4,138.0 L229.3,138.5 L229.2,139.0 L229.1,139.5 L229.0,140.0 L228.9,140.5 L228.9,141.0 L228.8,141.5 L228.7,142.0 L228.6,142.5 L228.6,143.0 L228.5,143.5 L228.4,144.0 L228.4,144.5 L228.3,145.0 L228.2,145.5 L228.2,146.0 L228.1,146.5 L228.1,147.0 L228.0,147.5 L227.9,148.0 L227.9,148.5 L227.8,149.0 L227.8,149.5 L227.7,150.0 L227.7,150.5 L227.6,151.0 L227.6,151.5 L227.5,152.0 L227.5,152.5 L227.5,153.0 L227.4,153.5 L227.4,154.0 L227.3,154.5 L227.3,155.0 L227.3,155.5 L227.2,156.0 L227.2,156.5 L227.1,157.0 L227.1,157.5 L227.1,158.0 L227.0,158.5 L227.0,159.0 L227.0,159.5 L226.9,160.0 L226.9,160.5 L226.9,161.0 L226.8,161.5 L226.8,162.0 L226.7,162.5 L226.7,163.0 L226.7,163.5 L226.7,164.0 L226.6,164.5 L226.6,165.0 L226.6,165.5 L226.6,166.0 L226.5,166.5 L226.5,167.0 L226.5,167.5 L226.5,168.0 L226.5,168.5 L226.5,169.0 L226.5,169.5 L226.5,170.0 L226.5,170.5 L226.5,171.0 L226.5,171.5 L226.5,172.0 L226.5,172.5 L226.5,173.0 L226.5,173.5 L226.6,174.0 L226.6,174.5 L226.6,175.0 L226.6,175.5 L226.6,176.0 L226.6,176.5 L226.7,177.0 L226.7,177.5 L226.8,178.0 L226.8,178.5 L226.9,179.0 L227.0,179.5 L227.0,180.0 L227.1,180.5 L227.2,181.0 L227.2,181.5 L227.3,182.0 L227.4,182.5 L227.4,183.0 L227.5,183.5 L227.5,184.0 L227.6,184.5 L227.7,185.0 L227.7,185.5 L227.8,186.0 L227.9,186.5 L227.9,187.0 L228.0,187.5 L228.0,188.0 L228.1,188.5 L228.2,189.0 L228.3,189.5 L228.3,190.0 L228.4,190.5 L228.5,191.0 L228.6,191.5 L228.7,192.0 L228.7,192.5 L228.8,193.0 L228.9,193.5 L229.0,194.0 L229.1,194.5 L229.2,195.0 L229.4,195.5 L229.5,196.0 L229.7,196.5 L229.8,197.0 L230.0,197.5 L230.2,198.0 L230.4,198.5 L230.6,199.0 L230.8,199.5 L231.0,200.0 L231.2,200.5 L231.4,201.0 L231.6,201.5 L231.8,202.0 L232.0,202.5 L232.2,203.0 L232.3,203.5 L232.5,204.0 L232.7,204.5 L232.8,205.0 L233.0,205.5 L233.1,206.0 L233.3,206.5 L233.4,207.0 L233.6,207.5 L233.7,208.0 L233.9,208.5 L234.0,209.0 L234.2,209.5 L234.3,210.0 L234.5,210.5 L234.6,211.0 L234.8,211.5 L234.9,212.0 L235.1,212.5 L235.2,213.0 L235.4,213.5 L235.5,214.0 L235.7,214.5 L235.8,215.0 L236.0,215.5 L236.1,216.0 L236.3,216.5 L236.4,217.0 L236.6,217.5 L236.7,218.0 L236.9,218.5 L237.0,219.0 L237.2,219.5 L237.3,220.0 L237.5,220.5 L237.6,221.0 L237.8,221.5 L237.9,222.0 L238.1,222.5 L238.2,223.0 L238.4,223.5 L238.5,224.0 L238.7,224.5 L238.8,225.0 L239.0,225.5 L239.1,226.0 L239.3,226.5 L239.4,227.0 L239.6,227.5 L239.7,228.0 L239.8,228.5 L240.0,229.0 L240.1,229.5 L240.2,230.0 L240.4,230.5 L240.5,231.0 L240.7,231.5 L240.8,232.0 L240.9,232.5 L241.1,233.0 L241.2,233.5 L241.3,234.0 L241.5,234.5 L241.6,235.0 L241.7,235.5 L241.9,236.0 L242.0,236.5 L242.1,237.0 L242.2,237.5 L242.4,238.0 L242.5,238.5 L242.6,239.0 L242.7,239.5 L242.8,240.0 L243.0,240.5 L243.1,241.0 L243.2,241.5 L243.3,242.0 L243.4,242.5 L243.5,243.0 L243.6,243.5 L243.7,244.0 L243.9,244.5 L244.0,245.0 L244.1,245.5 L244.2,246.0 L244.3,246.5 L244.4,247.0 L244.5,247.5 L244.6,248.0 L244.7,248.5 L244.8,249.0 L244.9,249.5 L245.0,250.0 L245.1,250.5 L245.2,251.0 L245.3,251.5 L245.4,252.0 L245.4,252.5 L245.5,253.0 L245.6,253.5 L245.7,254.0 L245.8,254.5 L245.8,255.0 L245.9,255.5 L246.0,256.0 L246.0,256.5 L246.1,257.0 L246.2,257.5 L246.2,258.0 L246.3,258.5 L246.3,259.0 L246.4,259.5 L246.5,260.0 L246.5,260.5 L246.6,261.0 L246.6,261.5 L246.7,262.0 L246.7,262.5 L246.8,263.0 L246.8,263.5 L246.9,264.0 L246.9,264.5 L246.9,265.0 L247.0,265.5 L247.0,266.0 L247.1,266.5 L247.1,267.0 L247.1,267.5 L247.2,268.0 L247.2,268.5 L247.3,269.0 L247.3,269.5 L247.3,270.0 L247.4,270.5 L247.4,271.0 L247.4,271.5 L247.5,272.0 L247.5,272.5 L247.5,273.0 L247.5,273.5 L247.6,274.0 L247.6,274.5 L247.6,275.0 L247.7,275.5 L247.7,276.0 L247.7,276.5 L247.7,277.0 L247.8,277.5 L247.8,278.0 L247.8,278.5 L247.8,279.0 L247.8,279.5 L247.9,280.0 L247.9,280.5 L247.9,281.0 L247.9,281.5 L247.9,282.0 L247.9,282.5 L248.0,283.0 L248.0,283.5 L248.0,284.0 L248.0,284.5 L248.0,285.0 L248.0,285.5 L248.1,286.0 L248.1,286.5 L248.1,287.0 L248.1,287.5 L248.1,288.0 L248.2,288.5 L248.2,289.0 L248.2,289.5 L248.3,290.0 L248.3,290.5 L248.3,291.0 L248.4,291.5 L248.4,292.0 L248.5,292.5 L248.5,293.0 L248.6,293.5 L248.6,294.0 L248.7,294.5 L248.7,295.0 L248.7,295.0 L248.7,294.5 L248.8,294.0 L248.8,293.5 L248.9,293.0 L248.9,292.5 L249.0,292.0 L249.0,291.5 L249.1,291.0 L249.1,290.5 L249.1,290.0 L249.2,289.5 L249.2,289.0 L249.2,288.5 L249.3,288.0 L249.3,287.5 L249.3,287.0 L249.3,286.5 L249.3,286.0 L249.4,285.5 L249.4,285.0 L249.4,284.5 L249.4,284.0 L249.4,283.5 L249.4,283.0 L249.5,282.5 L249.5,282.0 L249.5,281.5 L249.5,281.0 L249.5,280.5 L249.5,280.0 L249.6,279.5 L249.6,279.0 L249.6,278.5 L249.6,278.0 L249.6,277.5 L249.7,277.0 L249.7,276.5 L249.7,276.0 L249.7,275.5 L249.8,275.0 L249.8,274.5 L249.8,274.0 L249.9,273.5 L249.9,273.0 L249.9,272.5 L249.9,272.0 L250.0,271.5 L250.0,271.0 L250.0,270.5 L250.1,270.0 L250.1,269.5 L250.1,269.0 L250.2,268.5 L250.2,268.0 L250.3,267.5 L250.3,267.0 L250.3,266.5 L250.4,266.0 L250.4,265.5 L250.5,265.0 L250.5,264.5 L250.5,264.0 L250.6,263.5 L250.6,263.0 L250.7,262.5 L250.7,262.0 L250.8,261.5 L250.8,261.0 L250.9,260.5 L250.9,260.0 L251.0,259.5 L251.1,259.0 L251.1,258.5 L251.2,258.0 L251.2,257.5 L251.3,257.0 L251.4,256.5 L251.4,256.0 L251.5,255.5 L251.6,255.0 L251.6,254.5 L251.7,254.0 L251.8,253.5 L251.9,253.0 L252.0,252.5 L252.0,252.0 L252.1,251.5 L252.2,251.0 L252.3,250.5 L252.4,250.0 L252.5,249.5 L252.6,249.0 L252.7,248.5 L252.8,248.0 L252.9,247.5 L253.0,247.0 L253.1,246.5 L253.2,246.0 L253.3,245.5 L253.4,245.0 L253.5,244.5 L253.7,244.0 L253.8,243.5 L253.9,243.0 L254.0,242.5 L254.1,242.0 L254.2,241.5 L254.3,241.0 L254.4,240.5 L254.6,240.0 L254.7,239.5 L254.8,239.0 L254.9,238.5 L255.0,238.0 L255.2,237.5 L255.3,237.0 L255.4,236.5 L255.5,236.0 L255.7,235.5 L255.8,235.0 L255.9,234.5 L256.1,234.0 L256.2,233.5 L256.3,233.0 L256.5,232.5 L256.6,232.0 L256.7,231.5 L256.9,231.0 L257.0,230.5 L257.2,230.0 L257.3,229.5 L257.4,229.0 L257.6,228.5 L257.7,228.0 L257.8,227.5 L258.0,227.0 L258.1,226.5 L258.3,226.0 L258.4,225.5 L258.6,225.0 L258.7,224.5 L258.9,224.0 L259.0,223.5 L259.2,223.0 L259.3,222.5 L259.5,222.0 L259.6,221.5 L259.8,221.0 L259.9,220.5 L260.1,220.0 L260.2,219.5 L260.4,219.0 L260.5,218.5 L260.7,218.0 L260.8,217.5 L261.0,217.0 L261.1,216.5 L261.3,216.0 L261.4,215.5 L261.6,215.0 L261.7,214.5 L261.9,214.0 L262.0,213.5 L262.2,213.0 L262.3,212.5 L262.5,212.0 L262.6,211.5 L262.8,211.0 L262.9,210.5 L263.1,210.0 L263.2,209.5 L263.4,209.0 L263.5,208.5 L263.7,208.0 L263.8,207.5 L264.0,207.0 L264.1,206.5 L264.3,206.0 L264.4,205.5 L264.6,205.0 L264.7,204.5 L264.9,204.0 L265.1,203.5 L265.2,203.0 L265.4,202.5 L265.6,202.0 L265.8,201.5 L266.0,201.0 L266.2,200.5 L266.4,200.0 L266.6,199.5 L266.8,199.0 L267.0,198.5 L267.2,198.0 L267.4,197.5 L267.6,197.0 L267.7,196.5 L267.9,196.0 L268.0,195.5 L268.2,195.0 L268.3,194.5 L268.4,194.0 L268.5,193.5 L268.6,193.0 L268.7,192.5 L268.7,192.0 L268.8,191.5 L268.9,191.0 L269.0,190.5 L269.1,190.0 L269.1,189.5 L269.2,189.0 L269.3,188.5 L269.4,188.0 L269.4,187.5 L269.5,187.0 L269.5,186.5 L269.6,186.0 L269.7,185.5 L269.7,185.0 L269.8,184.5 L269.9,184.0 L269.9,183.5 L270.0,183.0 L270.0,182.5 L270.1,182.0 L270.2,181.5 L270.2,181.0 L270.3,180.5 L270.4,180.0 L270.4,179.5 L270.5,179.0 L270.6,178.5 L270.6,178.0 L270.7,177.5 L270.7,177.0 L270.8,176.5 L270.8,176.0 L270.8,175.5 L270.8,175.0 L270.8,174.5 L270.8,174.0 L270.9,173.5 L270.9,173.0 L270.9,172.5 L270.9,172.0 L270.9,171.5 L270.9,171.0 L270.9,170.5 L270.9,170.0 L270.9,169.5 L270.9,169.0 L270.9,168.5 L270.9,168.0 L270.9,167.5 L270.9,167.0 L270.9,166.5 L270.8,166.0 L270.8,165.5 L270.8,165.0 L270.8,164.5 L270.7,164.0 L270.7,163.5 L270.7,163.0 L270.7,162.5 L270.6,162.0 L270.6,161.5 L270.5,161.0 L270.5,160.5 L270.5,160.0 L270.4,159.5 L270.4,159.0 L270.4,158.5 L270.3,158.0 L270.3,157.5 L270.3,157.0 L270.2,156.5 L270.2,156.0 L270.1,155.5 L270.1,155.0 L270.1,154.5 L270.0,154.0 L270.0,153.5 L269.9,153.0 L269.9,152.5 L269.9,152.0 L269.8,151.5 L269.8,151.0 L269.7,150.5 L269.7,150.0 L269.6,149.5 L269.6,149.0 L269.5,148.5 L269.5,148.0 L269.4,147.5 L269.3,147.0 L269.3,146.5 L269.2,146.0 L269.2,145.5 L269.1,145.0 L269.0,144.5 L269.0,144.0 L268.9,143.5 L268.8,143.0 L268.8,142.5 L268.7,142.0 L268.6,141.5 L268.5,141.0 L268.5,140.5 L268.4,140.0 L268.3,139.5 L268.2,139.0 L268.1,138.5 L268.0,138.0 L267.9,137.5 L267.8,137.0 L267.7,136.5 L267.6,136.0 L267.5,135.5 L267.4,135.0 L267.3,134.5 L267.2,134.0 L267.1,133.5 L266.9,133.0 L266.8,132.5 L266.7,132.0 L266.6,131.5 L266.5,131.0 L266.4,130.5 L266.3,130.0 L266.1,129.5 L266.0,129.0 L265.9,128.5 L265.8,128.0 L265.7,127.5 L265.6,127.0 L265.5,126.5 L265.3,126.0 L265.2,125.5 L265.1,125.0 L265.0,124.5 L264.8,124.0 L264.7,123.5 L264.6,123.0 L264.4,122.5 L264.3,122.0 L264.2,121.5 L264.0,121.0 L263.9,120.5 L263.8,120.0 L263.6,119.5 L263.5,119.0 L263.4,118.5 L263.2,118.0 L263.1,117.5 L263.0,117.0 L262.8,116.5 L262.7,116.0 L262.6,115.5 L262.4,115.0 L262.3,114.5 L262.2,114.0 L262.0,113.5 L261.9,113.0 L261.8,112.5 L261.6,112.0 L261.5,111.5 L261.4,111.0 L261.2,110.5 L261.1,110.0 L261.0,109.5 L260.8,109.0 L260.7,108.5 L260.5,108.0 L260.4,107.5 L260.3,107.0 L260.1,106.5 L260.0,106.0 L259.9,105.5 L259.7,105.0 L259.6,104.5 L259.5,104.0 L259.3,103.5 L259.2,103.0 L259.0,102.5 L258.9,102.0 L258.8,101.5 L258.6,101.0 L258.5,100.5 L258.4,100.0 L258.2,99.5 L258.1,99.0 L258.0,98.5 L257.8,98.0 L257.7,97.5 L257.6,97.0 L257.4,96.5 L257.3,96.0 L257.2,95.5 L257.0,95.0 L256.9,94.5 L256.8,94.0 L256.6,93.5 L256.5,93.0 L256.4,92.5 L256.2,92.0 L256.1,91.5 L256.0,91.0 L255.9,90.5 L255.7,90.0 L255.6,89.5 L255.5,89.0 L255.3,88.5 L255.2,88.0 L255.1,87.5 L254.9,87.0 L254.8,86.5 L254.7,86.0 L254.5,85.5 L254.4,85.0 L254.3,84.5 L254.1,84.0 L254.0,83.5 L253.9,83.0 L253.8,82.5 L253.6,82.0 L253.5,81.5 L253.4,81.0 L253.3,80.5 L253.2,80.0 L253.1,79.5 L253.0,79.0 L252.9,78.5 L252.8,78.0 L252.7,77.5 L252.6,77.0 L252.6,76.5 L252.5,76.0 L252.4,75.5 L252.3,75.0 L252.3,74.5 L252.2,74.0 L252.1,73.5 L252.0,73.0 L252.0,72.5 L251.9,72.0 L251.8,71.5 L251.8,71.0 L251.7,70.5 L251.6,70.0 L251.6,69.5 L251.5,69.0 L251.4,68.5 L251.4,68.0 L251.3,67.5 L251.2,67.0 L251.2,66.5 L251.1,66.0 L251.0,65.5 L251.0,65.0 L250.9,64.5 L250.9,64.0 L250.8,63.5 L250.8,63.0 L250.7,62.5 L250.7,62.0 L250.6,61.5 L250.6,61.0 L250.5,60.5 L250.5,60.0 Z" fill="#ff7f0e" fill-opacity="0.3"/>
<path d="M312.8,115.0 L312.7,115.5 L312.6,116.0 L312.5,116.5 L312.4,117.0 L312.4,117.5 L312.3,118.0 L312.2,118.5 L312.2,119.0 L312.1,119.5 L312.0,120.0 L311.9,120.5 L311.9,121.0 L311.8,121.5 L311.8,122.0 L311.7,122.5 L311.6,123.0 L311.6,123.5 L311.5,124.0 L311.4,124.5 L311.4,125.0 L311.3,125.5 L311.3,126.0 L311.2,126.5 L311.2,127.0 L311.1,127.5 L311.1,128.0 L311.0,128.5 L311.0,129.0 L310.9,129.5 L310.9,130.0 L310.9,130.5 L310.8,131.0 L310.8,131.5 L310.7,132.0 L310.7,132.5 L310.7,133.0 L310.6,133.5 L310.6,134.0 L310.5,134.5 L310.5,135.0 L310.5,135.5 L310.4,136.0 L310.4,136.5 L310.3,137.0 L310.3,137.5 L310.3,138.0 L310.2,138.5 L310.2,139.0 L310.1,139.5 L310.1,140.0 L310.0,140.5 L310.0,141.0 L309.9,141.5 L309.9,142.0 L309.8,142.5 L309.8,143.0 L309.7,143.5 L309.7,144.0 L309.6,144.5 L309.6,145.0 L309.5,145.5 L309.5,146.0 L309.4,146.5 L309.3,147.0 L309.3,147.5 L309.2,148.0 L309.2,148.5 L309.1,149.0 L309.1,149.5 L309.0,150.0 L308.9,150.5 L308.9,151.0 L308.8,151.5 L308.8,152.0 L308.7,152.5 L308.6,153.0 L308.6,153.5 L308.5,154.0 L308.4,154.5 L308.3,155.0 L308.3,155.5 L308.2,156.0 L308.1,156.5 L308.1,157.0 L308.0,157.5 L307.9,158.0 L307.8,158.5 L307.7,159.0 L307.7,159.5 L307.6,160.0 L307.5,160.5 L307.4,161.0 L307.3,161.5 L307.2,162.0 L307.2,162.5 L307.1,163.0 L307.0,163.5 L306.9,164.0 L306.8,164.5 L306.7,165.0 L306.6,165.5 L306.5,166.0 L306.4,166.5 L306.3,167.0 L306.2,167.5 L306.1,168.0 L306.0,168.5 L305.9,169.0 L305.8,169.5 L305.7,170.0 L305.6,170.5 L305.5,171.0 L305.4,171.5 L305.2,172.0 L305.1,172.5 L305.0,173.0 L304.9,173.5 L304.8,174.0 L304.7,174.5 L304.6,175.0 L304.5,175.5 L304.4,176.0 L304.3,176.5 L304.2,177.0 L304.1,177.5 L304.0,178.0 L303.9,178.5 L303.8,179.0 L303.7,179.5 L303.6,180.0 L303.5,180.5 L303.4,181.0 L303.3,181.5 L303.2,182.0 L303.1,182.5 L303.0,183.0 L302.9,183.5 L302.8,184.0 L302.7,184.5 L302.6,185.0 L302.5,185.5 L302.4,186.0 L302.4,186.5 L302.3,187.0 L302.2,187.5 L302.1,188.0 L302.0,188.5 L301.9,189.0 L301.8,189.5 L301.7,190.0 L301.6,190.5 L301.5,191.0 L301.4,191.5 L301.3,192.0 L301.2,192.5 L301.1,193.0 L301.0,193.5 L300.9,194.0 L300.8,194.5 L300.7,195.0 L300.6,195.5 L300.5,196.0 L300.4,196.5 L300.3,197.0 L300.2,197.5 L300.1,198.0 L300.0,198.5 L299.9,199.0 L299.8,199.5 L299.7,200.0 L299.5,200.5 L299.4,201.0 L299.3,201.5 L299.2,202.0 L299.1,202.5 L299.0,203.0 L298.9,203.5 L298.7,204.0 L298.6,204.5 L298.5,205.0 L298.4,205.5 L298.3,206.0 L298.1,206.5 L298.0,207.0 L297.9,207.5 L297.7,208.0 L297.6,208.5 L297.5,209.0 L297.4,209.5 L297.2,210.0 L297.1,210.5 L297.0,211.0 L296.8,211.5 L296.7,212.0 L296.5,212.5 L296.4,213.0 L296.3,213.5 L296.1,214.0 L296.0,214.5 L295.9,215.0 L295.7,215.5 L295.6,216.0 L295.5,216.5 L295.3,217.0 L295.2,217.5 L295.0,218.0 L294.9,218.5 L294.7,219.0 L294.6,219.5 L294.5,220.0 L294.3,220.5 L294.2,221.0 L294.0,221.5 L293.9,222.0 L293.8,222.5 L293.7,223.0 L293.5,223.5 L293.4,224.0 L293.3,224.5 L293.2,225.0 L293.1,225.5 L293.0,226.0 L292.9,226.5 L292.8,227.0 L292.7,227.5 L292.6,228.0 L292.5,228.5 L292.5,229.0 L292.4,229.5 L292.3,230.0 L292.2,230.5 L292.1,231.0 L292.1,231.5 L292.0,232.0 L291.9,232.5 L291.9,233.0 L291.8,233.5 L291.7,234.0 L291.7,234.5 L291.6,235.0 L291.6,235.5 L291.5,236.0 L291.4,236.5 L291.4,237.0 L291.3,237.5 L291.3,238.0 L291.3,238.5 L291.2,239.0 L291.2,239.5 L291.1,240.0 L291.1,240.5 L291.1,241.0 L291.0,241.5 L291.0,242.0 L291.0,242.5 L290.9,243.0 L290.9,243.5 L290.9,244.0 L290.8,244.5 L290.8,245.0 L290.8,245.5 L290.8,246.0 L290.7,246.5 L290.7,247.0 L290.7,247.5 L290.7,248.0 L290.6,248.5 L290.6,249.0 L290.6,249.5 L290.6,250.0 L290.6,250.5 L290.6,251.0 L290.6,251.5 L290.6,252.0 L290.6,252.5 L290.6,253.0 L290.6,253.5 L290.6,254.0 L290.6,254.5 L290.6,255.0 L290.6,255.5 L290.6,256.0 L290.6,256.5 L290.6,257.0 L290.6,257.5 L290.6,258.0 L290.6,258.5 L290.6,259.0 L290.6,259.5 L290.6,260.0 L290.6,260.5 L290.6,261.0 L290.7,261.5 L290.7,262.0 L290.8,262.5 L290.9,263.0 L290.9,263.5 L291.0,264.0 L291.0,264.5 L291.1,265.0 L291.1,265.5 L291.2,266.0 L291.2,266.5 L291.3,267.0 L291.3,267.5 L291.4,268.0 L291.4,268.5 L291.4,269.0 L291.5,269.5 L291.5,270.0 L291.6,270.5 L291.6,271.0 L291.7,271.5 L291.8,272.0 L291.8,272.5 L291.9,273.0 L292.0,273.5 L292.1,274.0 L292.2,274.5 L292.3,275.0 L292.4,275.5 L292.5,276.0 L292.6,276.5 L292.7,277.0 L292.9,277.5 L293.0,278.0 L293.1,278.5 L293.2,279.0 L293.4,279.5 L293.5,280.0 L293.7,280.5 L293.8,281.0 L294.0,281.5 L294.1,282.0 L294.3,282.5 L294.5,283.0 L294.6,283.5 L294.8,284.0 L295.0,284.5 L295.1,285.0 L295.3,285.5 L295.4,286.0 L295.6,286.5 L295.8,287.0 L295.9,287.5 L296.1,288.0 L296.3,288.5 L296.5,289.0 L296.6,289.5 L296.8,290.0 L297.0,290.5 L297.2,291.0 L297.3,291.5 L297.5,292.0 L297.7,292.5 L297.9,293.0 L298.1,293.5 L298.2,294.0 L298.4,294.5 L298.6,295.0 L298.7,295.5 L298.9,296.0 L299.1,296.5 L299.2,297.0 L299.4,297.5 L299.6,298.0 L299.7,298.5 L299.9,299.0 L300.0,299.5 L300.2,300.0 L300.3,300.5 L300.5,301.0 L300.6,301.5 L300.8,302.0 L300.9,302.5 L301.0,303.0 L301.2,303.5 L301.3,304.0 L301.4,304.5 L301.6,305.0 L301.7,305.5 L301.8,306.0 L302.0,306.5 L302.1,307.0 L302.2,307.5 L302.3,308.0 L302.5,308.5 L302.6,309.0 L302.7,309.5 L302.8,310.0 L302.9,310.5 L303.1,311.0 L303.2,311.5 L303.3,312.0 L303.4,312.5 L303.5,313.0 L303.6,313.5 L303.7,314.0 L303.9,314.5 L304.0,315.0 L304.1,315.5 L304.2,316.0 L304.3,316.5 L304.4,317.0 L304.5,317.5 L304.6,318.0 L304.7,318.5 L304.8,319.0 L304.9,319.5 L305.0,320.0 L305.1,320.5 L305.2,321.0 L305.3,321.5 L305.4,322.0 L305.5,322.5 L305.6,323.0 L305.7,323.5 L305.8,324.0 L305.9,324.5 L305.9,325.0 L306.0,325.5 L306.1,326.0 L306.2,326.5 L306.3,327.0 L306.4,327.5 L306.4,328.0 L306.5,328.5 L306.6,329.0 L306.7,329.5 L306.7,330.0 L306.8,330.5 L306.9,331.0 L307.0,331.5 L307.0,332.0 L307.1,332.5 L307.2,333.0 L307.2,333.5 L307.3,334.0 L307.4,334.5 L307.5,335.0 L307.5,335.5 L307.6,336.0 L307.7,336.5 L307.7,337.0 L307.8,337.5 L307.9,338.0 L308.0,338.5 L308.0,339.0 L308.1,339.5 L308.2,340.0 L308.3,340.5 L308.4,341.0 L308.4,341.5 L308.5,342.0 L308.6,342.5 L308.7,343.0 L308.8,343.5 L308.8,344.0 L308.9,344.5 L309.0,345.0 L309.1,345.5 L309.1,346.0 L309.2,346.5 L309.3,347.0 L309.4,347.5 L309.4,348.0 L309.5,348.5 L309.6,349.0 L309.7,349.5 L309.7,350.0 L309.8,350.5 L309.8,351.0 L309.9,351.5 L309.9,352.0 L310.0,352.5 L310.0,353.0 L310.1,353.5 L310.1,354.0 L310.2,354.5 L310.2,355.0 L310.3,355.5 L310.3,356.0 L310.4,356.5 L310.4,357.0 L310.4,357.5 L310.5,358.0 L310.5,358.5 L310.5,359.0 L310.6,359.5 L310.6,360.0 L310.7,360.5 L310.7,361.0 L310.7,361.5 L310.8,362.0 L310.8,362.5 L310.8,363.0 L310.9,363.5 L310.9,364.0 L310.9,364.5 L310.9,365.0 L311.0,365.5 L311.0,366.0 L311.0,366.5 L311.1,367.0 L311.1,367.5 L311.1,368.0 L311.2,368.5 L311.2,369.0 L311.2,369.5 L311.3,370.0 L311.3,370.5 L311.3,371.0 L311.3,371.5 L311.4,372.0 L311.4,372.5 L311.4,373.0 L311.4,373.5 L311.5,374.0 L311.5,374.5 L311.5,375.0 L311.5,375.5 L311.6,376.0 L311.6,376.5 L311.6,377.0 L311.6,377.5 L311.6,378.0 L311.7,378.5 L311.7,379.0 L311.7,379.5 L311.7,380.0 L311.7,380.5 L311.8,381.0 L311.8,381.5 L311.8,382.0 L311.8,382.5 L311.8,383.0 L311.8,383.5 L311.9,384.0 L311.9,384.5 L311.9,385.0 L311.9,385.5 L311.9,386.0 L311.9,386.5 L311.9,387.0 L312.0,387.5 L312.0,388.0 L312.0,388.5 L312.0,389.0 L312.0,389.5 L312.0,390.0 L312.0,390.5 L312.1,391.0 L312.1,391.5 L312.1,392.0 L312.1,392.5 L312.1,393.0 L312.1,393.5 L312.1,394.0 L312.2,394.5 L312.2,395.0 L312.2,395.5 L312.2,396.0 L312.2,396.5 L312.2,397.0 L312.2,397.5 L312.2,398.0 L312.3,398.5 L312.3,399.0 L312.3,399.5 L312.3,400.0 L312.3,400.5 L312.3,401.0 L312.3,401.5 L312.3,402.0 L312.3,402.5 L312.4,403.0 L312.4,403.5 L312.4,404.0 L312.4,404.5 L312.4,405.0 L312.4,405.5 L312.4,406.0 L312.4,406.5 L312.4,407.0 L312.4,407.5 L312.4,408.0 L312.4,408.5 L312.4,409.0 L312.4,409.5 L312.4,410.0 L312.4,410.5 L312.4,411.0 L312.4,411.5 L312.4,412.0 L312.4,412.5 L312.4,413.0 L312.4,413.5 L312.4,414.0 L312.4,414.5 L312.4,415.0 L313.1,415.0 L313.1,414.5 L313.1,414.0 L313.1,413.5 L313.1,413.0 L313.1,412.5 L313.1,412.0 L313.1,411.5 L313.1,411.0 L313.1,410.5 L313.1,410.0 L313.1,409.5 L313.1,409.0 L313.1,408.5 L313.1,408.0 L313.1,407.5 L313.1,407.0 L313.1,406.5 L313.1,406.0 L313.1,405.5 L313.1,405.0 L313.1,404.5 L313.1,404.0 L313.1,403.5 L313.1,403.0 L313.2,402.5 L313.2,402.0 L313.2,401.5 L313.2,401.0 L313.2,400.5 L313.2,400.0 L313.2,399.5 L313.2,399.0 L313.2,398.5 L313.3,398.0 L313.3,397.5 L313.3,397.0 L313.3,396.5 L313.3,396.0 L313.3,395.5 L313.3,395.0 L313.3,394.5 L313.4,394.0 L313.4,393.5 L313.4,393.0 L313.4,392.5 L313.4,392.0 L313.4,391.5 L313.4,391.0 L313.5,390.5 L313.5,390.0 L313.5,389.5 L313.5,389.0 L313.5,388.5 L313.5,388.0 L313.5,387.5 L313.6,387.0 L313.6,386.5 L313.6,386.0 L313.6,385.5 L313.6,385.0 L313.6,384.5 L313.6,384.0 L313.7,383.5 L313.7,383.0 L313.7,382.5 L313.7,382.0 L313.7,381.5 L313.7,381.0 L313.8,380.5 L313.8,380.0 L313.8,379.5 L313.8,379.0 L313.8,378.5 L313.9,378.0 L313.9,377.5 L313.9,377.0 L313.9,376.5 L313.9,376.0 L314.0,375.5 L314.0,375.0 L314.0,374.5 L314.0,374.0 L314.1,373.5 L314.1,373.0 L314.1,372.5 L314.1,372.0 L314.2,371.5 L314.2,371.0 L314.2,370.5 L314.2,370.0 L314.3,369.5 L314.3,369.0 L314.3,368.5 L314.4,368.0 L314.4,367.5 L314.4,367.0 L314.5,366.5 L314.5,366.0 L314.5,365.5 L314.6,365.0 L314.6,364.5 L314.6,364.0 L314.6,363.5 L314.7,363.0 L314.7,362.5 L314.7,362.0 L314.8,361.5 L314.8,361.0 L314.8,360.5 L314.9,360.0 L314.9,359.5 L315.0,359.0 L315.0,358.5 L315.0,358.0 L315.1,357.5 L315.1,357.0 L315.1,356.5 L315.2,356.0 L315.2,355.5 L315.3,355.0 L315.3,354.5 L315.4,354.0 L315.4,353.5 L315.5,353.0 L315.5,352.5 L315.6,352.0 L315.6,351.5 L315.7,351.0 L315.7,350.5 L315.8,350.0 L315.8,349.5 L315.9,349.0 L316.0,348.5 L316.1,348.0 L316.1,347.5 L316.2,347.0 L316.3,346.5 L316.4,346.0 L316.4,345.5 L316.5,345.0 L316.6,344.5 L316.7,344.0 L316.7,343.5 L316.8,343.0 L316.9,342.5 L317.0,342.0 L317.1,341.5 L317.1,341.0 L317.2,340.5 L317.3,340.0 L317.4,339.5 L317.5,339.0 L317.5,338.5 L317.6,338.0 L317.7,337.5 L317.8,337.0 L317.8,336.5 L317.9,336.0 L318.0,335.5 L318.0,335.0 L318.1,334.5 L318.2,334.0 L318.3,333.5 L318.3,333.0 L318.4,332.5 L318.5,332.0 L318.5,331.5 L318.6,331.0 L318.7,330.5 L318.8,330.0 L318.8,329.5 L318.9,329.0 L319.0,328.5 L319.1,328.0 L319.1,327.5 L319.2,327.0 L319.3,326.5 L319.4,326.0 L319.5,325.5 L319.6,325.0 L319.6,324.5 L319.7,324.0 L319.8,323.5 L319.9,323.0 L320.0,322.5 L320.1,322.0 L320.2,321.5 L320.3,321.0 L320.4,320.5 L320.5,320.0 L320.6,319.5 L320.7,319.0 L320.8,318.5 L320.9,318.0 L321.0,317.5 L321.1,317.0 L321.2,316.5 L321.3,316.0 L321.4,315.5 L321.5,315.0 L321.6,314.5 L321.8,314.0 L321.9,313.5 L322.0,313.0 L322.1,312.5 L322.2,312.0 L322.3,311.5 L322.4,311.0 L322.6,310.5 L322.7,310.0 L322.8,309.5 L322.9,309.0 L323.0,308.5 L323.2,308.0 L323.3,307.5 L323.4,307.0 L323.5,306.5 L323.7,306.0 L323.8,305.5 L323.9,305.0 L324.1,304.5 L324.2,304.0 L324.3,303.5 L324.5,303.0 L324.6,302.5 L324.7,302.0 L324.9,301.5 L325.0,301.0 L325.2,300.5 L325.3,300.0 L325.5,299.5 L325.6,299.0 L325.8,298.5 L325.9,298.0 L326.1,297.5 L326.3,297.0 L326.4,296.5 L326.6,296.0 L326.8,295.5 L326.9,295.0 L327.1,294.5 L327.3,294.0 L327.4,293.5 L327.6,293.0 L327.8,292.5 L328.0,292.0 L328.2,291.5 L328.3,291.0 L328.5,290.5 L328.7,290.0 L328.9,289.5 L329.0,289.0 L329.2,288.5 L329.4,288.0 L329.6,287.5 L329.7,287.0 L329.9,286.5 L330.1,286.0 L330.2,285.5 L330.4,285.0 L330.5,284.5 L330.7,284.0 L330.9,283.5 L331.0,283.0 L331.2,282.5 L331.4,282.0 L331.5,281.5 L331.7,281.0 L331.8,280.5 L332.0,280.0 L332.1,279.5 L332.2,279.0 L332.4,278.5 L332.5,278.0 L332.6,277.5 L332.8,277.0 L332.9,276.5 L333.0,276.0 L333.1,275.5 L333.2,275.0 L333.3,274.5 L333.4,274.0 L333.5,273.5 L333.6,273.0 L333.7,272.5 L333.8,272.0 L333.8,271.5 L333.9,271.0 L333.9,270.5 L334.0,270.0 L334.0,269.5 L334.1,269.0 L334.1,268.5 L334.1,268.0 L334.2,267.5 L334.2,267.0 L334.3,266.5 L334.3,266.0 L334.4,265.5 L334.4,265.0 L334.5,264.5 L334.5,264.0 L334.6,263.5 L334.6,263.0 L334.7,262.5 L334.8,262.0 L334.8,261.5 L334.9,261.0 L334.9,260.5 L334.9,260.0 L334.9,259.5 L334.9,259.0 L334.9,258.5 L334.9,258.0 L334.9,257.5 L334.9,257.0 L334.9,256.5 L334.9,256.0 L334.9,255.5 L334.9,255.0 L334.9,254.5 L334.9,254.0 L334.9,253.5 L334.9,253.0 L334.9,252.5 L334.9,252.0 L334.9,251.5 L334.9,251.0 L334.9,250.5 L334.9,250.0 L334.9,249.5 L334.9,249.0 L334.9,248.5 L334.8,248.0 L334.8,247.5 L334.8,247.0 L334.8,246.5 L334.7,246.0 L334.7,245.5 L334.7,245.0 L334.7,244.5 L334.6,244.0 L334.6,243.5 L334.6,243.0 L334.5,242.5 L334.5,242.0 L334.5,241.5 L334.4,241.0 L334.4,240.5 L334.4,240.0 L334.3,239.5 L334.3,239.0 L334.2,238.5 L334.2,238.0 L334.2,237.5 L334.1,237.0 L334.1,236.5 L334.0,236.0 L333.9,235.5 L333.9,235.0 L333.8,234.5 L333.8,234.0 L333.7,233.5 L333.6,233.0 L333.6,232.5 L333.5,232.0 L333.4,231.5 L333.4,231.0 L333.3,230.5 L333.2,230.0 L333.1,229.5 L333.0,229.0 L333.0,228.5 L332.9,228.0 L332.8,227.5 L332.7,227.0 L332.6,226.5 L332.5,226.0 L332.4,225.5 L332.3,225.0 L332.2,224.5 L332.1,224.0 L332.0,223.5 L331.8,223.0 L331.7,222.5 L331.6,222.0 L331.5,221.5 L331.3,221.0 L331.2,220.5 L331.0,220.0 L330.9,219.5 L330.8,219.0 L330.6,218.5 L330.5,218.0 L330.3,217.5 L330.2,217.0 L330.0,216.5 L329.9,216.0 L329.8,215.5 L329.6,215.0 L329.5,214.5 L329.4,214.0 L329.2,213.5 L329.1,213.0 L329.0,212.5 L328.8,212.0 L328.7,211.5 L328.5,211.0 L328.4,210.5 L328.3,210.0 L328.1,209.5 L328.0,209.0 L327.9,208.5 L327.8,208.0 L327.6,207.5 L327.5,207.0 L327.4,206.5 L327.2,206.0 L327.1,205.5 L327.0,205.0 L326.9,204.5 L326.8,204.0 L326.6,203.5 L326.5,203.0 L326.4,202.5 L326.3,202.0 L326.2,201.5 L326.1,201.0 L326.0,200.5 L325.8,200.0 L325.7,199.5 L325.6,199.0 L325.5,198.5 L325.4,198.0 L325.3,197.5 L325.2,197.0 L325.1,196.5 L325.0,196.0 L324.9,195.5 L324.8,195.0 L324.7,194.5 L324.6,194.0 L324.5,193.5 L324.4,193.0 L324.3,192.5 L324.2,192.0 L324.1,191.5 L324.0,191.0 L323.9,190.5 L323.8,190.0 L323.7,189.5 L323.6,189.0 L323.5,188.5 L323.4,188.0 L323.3,187.5 L323.2,187.0 L323.1,186.5 L323.1,186.0 L323.0,185.5 L322.9,185.0 L322.8,184.5 L322.7,184.0 L322.6,183.5 L322.5,183.0 L322.4,182.5 L322.3,182.0 L322.2,181.5 L322.1,181.0 L322.0,180.5 L321.9,180.0 L321.8,179.5 L321.7,179.0 L321.6,178.5 L321.5,178.0 L321.4,177.5 L321.3,177.0 L321.2,176.5 L321.1,176.0 L321.0,175.5 L320.9,175.0 L320.8,174.5 L320.7,174.0 L320.6,173.5 L320.5,173.0 L320.4,172.5 L320.3,172.0 L320.1,171.5 L320.0,171.0 L319.9,170.5 L319.8,170.0 L319.7,169.5 L319.6,169.0 L319.5,168.5 L319.4,168.0 L319.3,167.5 L319.2,167.0 L319.1,166.5 L319.0,166.0 L318.9,165.5 L318.8,165.0 L318.7,164.5 L318.6,164.0 L318.5,163.5 L318.4,163.0 L318.3,162.5 L318.3,162.0 L318.2,161.5 L318.1,161.0 L318.0,160.5 L317.9,160.0 L317.8,159.5 L317.8,159.0 L317.7,158.5 L317.6,158.0 L317.5,157.5 L317.4,157.0 L317.4,156.5 L317.3,156.0 L317.2,155.5 L317.2,155.0 L317.1,154.5 L317.0,154.0 L316.9,153.5 L316.9,153.0 L316.8,152.5 L316.8,152.0 L316.7,151.5 L316.6,151.0 L316.6,150.5 L316.5,150.0 L316.4,149.5 L316.4,149.0 L316.3,148.5 L316.3,148.0 L316.2,147.5 L316.2,147.0 L316.1,146.5 L316.0,146.0 L316.0,145.5 L315.9,145.0 L315.9,144.5 L315.8,144.0 L315.8,143.5 L315.7,143.0 L315.7,142.5 L315.6,142.0 L315.6,141.5 L315.5,141.0 L315.5,140.5 L315.4,140.0 L315.4,139.5 L315.3,139.0 L315.3,138.5 L315.2,138.0 L315.2,137.5 L315.2,137.0 L315.1,136.5 L315.1,136.0 L315.0,135.5 L315.0,135.0 L315.0,134.5 L314.9,134.0 L314.9,133.5 L314.8,133.0 L314.8,132.5 L314.8,132.0 L314.7,131.5 L314.7,131.0 L314.6,130.5 L314.6,130.0 L314.6,129.5 L314.5,129.0 L314.5,128.5 L314.4,128.0 L314.4,127.5 L314.3,127.0 L314.3,126.5 L314.2,126.0 L314.2,125.5 L314.1,125.0 L314.1,124.5 L314.0,124.0 L313.9,123.5 L313.9,123.0 L313.8,122.5 L313.7,122.0 L313.7,121.5 L313.6,121.0 L313.6,120.5 L313.5,120.0 L313.4,119.5 L313.3,119.0 L313.3,118.5 L313.2,118.0 L313.1,117.5 L313.1,117.0 L313.0,116.5 L312.9,116.0 L312.8,115.5 L312.8,115.0 Z" fill="#ff7f0e" fill-opacity="0.3"/>
<path d="M376.8,105.8 L376.8,106.3 L376.7,106.8 L376.7,107.3 L376.7,107.8 L376.7,108.3 L376.7,108.8 L376.6,109.3 L376.6,109.8 L376.6,110.3 L376.6,110.8 L376.5,111.3 L376.5,111.8 L376.5,112.3 L376.5,112.8 L376.4,113.3 L376.4,113.8 L376.4,114.3 L376.4,114.8 L376.4,115.3 L376.3,115.8 L376.3,116.3 L376.3,116.8 L376.3,117.3 L376.3,117.8 L376.2,118.3 L376.2,118.8 L376.2,119.3 L376.2,119.8 L376.2,120.3 L376.1,120.8 L376.1,121.3 L376.1,121.8 L376.1,122.3 L376.1,122.8 L376.1,123.3 L376.1,123.8 L376.0,124.3 L376.0,124.8 L376.0,125.3 L376.0,125.8 L376.0,126.3 L376.0,126.8 L376.0,127.3 L375.9,127.8 L375.9,128.3 L375.9,128.8 L375.9,129.3 L375.9,129.8 L375.9,130.3 L375.8,130.8 L375.8,131.3 L375.8,131.8 L375.8,132.3 L375.8,132.8 L375.8,133.3 L375.7,133.8 L375.7,134.3 L375.7,134.8 L375.7,135.3 L375.7,135.8 L375.7,136.3 L375.6,136.8 L375.6,137.3 L375.6,137.8 L375.6,138.3 L375.6,138.8 L375.6,139.3 L375.5,139.8 L375.5,140.3 L375.5,140.8 L375.5,141.3 L375.5,141.8 L375.4,142.3 L375.4,142.8 L375.4,143.3 L375.4,143.8 L375.3,144.3 L375.3,144.8 L375.3,145.3 L375.2,145.8 L375.2,146.3 L375.2,146.8 L375.1,147.3 L375.1,147.8 L375.0,148.3 L375.0,148.8 L374.9,149.3 L374.9,149.8 L374.8,150.3 L374.8,150.8 L374.7,151.3 L374.6,151.8 L374.6,152.3 L374.5,152.8 L374.4,153.3 L374.3,153.8 L374.2,154.3 L374.1,154.8 L374.0,155.3 L373.9,155.8 L373.8,156.3 L373.6,156.8 L373.5,157.3 L373.4,157.8 L373.3,158.3 L373.1,158.8 L373.0,159.3 L372.9,159.8 L372.7,160.3 L372.6,160.8 L372.4,161.3 L372.3,161.8 L372.1,162.3 L372.0,162.8 L371.8,163.3 L371.7,163.8 L371.5,164.3 L371.4,164.8 L371.2,165.3 L371.0,165.8 L370.8,166.3 L370.6,166.8 L370.4,167.3 L370.2,167.8 L370.0,168.3 L369.8,168.8 L369.6,169.3 L369.3,169.8 L369.1,170.3 L368.8,170.8 L368.6,171.3 L368.3,171.8 L368.1,172.3 L367.8,172.8 L367.6,173.3 L367.4,173.8 L367.1,174.3 L366.9,174.8 L366.6,175.3 L366.4,175.8 L366.1,176.3 L365.9,176.8 L365.6,177.3 L365.3,177.8 L365.1,178.3 L364.8,178.8 L364.6,179.3 L364.4,179.8 L364.1,180.3 L363.9,180.8 L363.6,181.3 L363.4,181.8 L363.1,182.3 L362.9,182.8 L362.6,183.3 L362.4,183.8 L362.1,184.3 L361.9,184.8 L361.7,185.3 L361.5,185.8 L361.2,186.3 L361.0,186.8 L360.8,187.3 L360.6,187.8 L360.3,188.3 L360.1,188.8 L359.9,189.3 L359.7,189.8 L359.5,190.3 L359.3,190.8 L359.1,191.3 L358.9,191.8 L358.7,192.3 L358.5,192.8 L358.4,193.3 L358.2,193.8 L358.0,194.3 L357.9,194.8 L357.7,195.3 L357.5,195.8 L357.4,196.3 L357.2,196.8 L357.1,197.3 L357.0,197.8 L356.8,198.3 L356.7,198.8 L356.6,199.3 L356.5,199.8 L356.4,200.3 L356.3,200.8 L356.2,201.3 L356.1,201.8 L356.0,202.3 L356.0,202.8 L355.9,203.3 L355.8,203.8 L355.7,204.3 L355.6,204.8 L355.6,205.3 L355.5,205.8 L355.4,206.3 L355.3,206.8 L355.2,207.3 L355.2,207.8 L355.1,208.3 L355.0,208.8 L355.0,209.3 L354.9,209.8 L354.9,210.3 L354.8,210.8 L354.8,211.3 L354.7,211.8 L354.7,212.3 L354.7,212.8 L354.6,213.3 L354.6,213.8 L354.5,214.3 L354.5,214.8 L354.5,215.3 L354.5,215.8 L354.5,216.3 L354.5,216.8 L354.6,217.3 L354.6,217.8 L354.7,218.3 L354.7,218.8 L354.8,219.3 L354.9,219.8 L354.9,220.3 L355.0,220.8 L355.1,221.3 L355.3,221.8 L355.4,222.3 L355.5,222.8 L355.7,223.3 L355.8,223.8 L356.0,224.3 L356.1,224.8 L356.3,225.3 L356.5,225.8 L356.7,226.3 L356.8,226.8 L357.0,227.3 L357.2,227.8 L357.5,228.3 L357.7,228.8 L357.9,229.3 L358.2,229.8 L358.4,230.3 L358.7,230.8 L359.0,231.3 L359.2,231.8 L359.5,232.3 L359.7,232.8 L360.0,233.3 L360.3,233.8 L360.6,234.3 L360.9,234.8 L361.2,235.3 L361.5,235.8 L361.8,236.3 L362.1,236.8 L362.4,237.3 L362.7,237.8 L363.0,238.3 L363.3,238.8 L363.6,239.3 L363.9,239.8 L364.2,240.3 L364.5,240.8 L364.8,241.3 L365.2,241.8 L365.5,242.3 L365.8,242.8 L366.1,243.3 L366.4,243.8 L366.7,244.3 L367.0,244.8 L367.3,245.3 L367.6,245.8 L367.8,246.3 L368.1,246.8 L368.4,247.3 L368.7,247.8 L368.9,248.3 L369.2,248.8 L369.4,249.3 L369.7,249.8 L369.9,250.3 L370.2,250.8 L370.4,251.3 L370.6,251.8 L370.8,252.3 L371.0,252.8 L371.1,253.3 L371.3,253.8 L371.5,254.3 L371.6,254.8 L371.8,255.3 L371.9,255.8 L372.1,256.3 L372.2,256.8 L372.3,257.3 L372.4,257.8 L372.5,258.3 L372.6,258.8 L372.7,259.3 L372.8,259.8 L372.9,260.3 L372.9,260.8 L373.0,261.3 L373.1,261.8 L373.1,262.3 L373.2,262.8 L373.3,263.3 L373.3,263.8 L373.4,264.3 L373.5,264.8 L373.6,265.3 L373.6,265.8 L373.7,266.3 L373.9,266.8 L374.0,267.3 L374.1,267.8 L374.2,268.3 L374.3,268.8 L374.4,269.3 L374.5,269.8 L374.6,270.3 L374.7,270.8 L374.8,271.3 L374.9,271.8 L374.9,272.3 L375.0,272.8 L375.0,273.3 L375.1,273.8 L375.2,274.3 L375.2,274.8 L375.3,275.3 L375.3,275.8 L375.4,276.3 L375.4,276.8 L375.5,277.3 L375.5,277.8 L375.6,278.3 L375.6,278.8 L375.6,279.3 L375.7,279.8 L375.7,280.3 L375.8,280.8 L375.8,281.3 L375.8,281.8 L375.9,282.3 L375.9,282.8 L375.9,283.3 L375.9,283.8 L376.0,284.3 L376.0,284.8 L376.0,285.3 L376.1,285.8 L376.1,286.3 L376.1,286.8 L376.1,287.3 L376.2,287.8 L376.2,288.3 L376.2,288.8 L376.3,289.3 L376.3,289.8 L376.3,290.3 L376.4,290.8 L376.4,291.3 L376.4,291.8 L376.4,292.3 L376.5,292.8 L376.5,293.3 L376.6,293.8 L376.6,294.3 L376.6,294.8 L376.7,295.3 L376.7,295.8 L376.7,296.3 L376.8,296.8 L376.8,297.3 L376.8,297.4 L376.8,297.4 L376.8,297.3 L376.8,296.8 L376.9,296.3 L376.9,295.8 L376.9,295.3 L377.0,294.8 L377.0,294.3 L377.0,293.8 L377.1,293.3 L377.1,292.8 L377.2,292.3 L377.2,291.8 L377.2,291.3 L377.2,290.8 L377.3,290.3 L377.3,289.8 L377.3,289.3 L377.4,288.8 L377.4,288.3 L377.4,287.8 L377.5,287.3 L377.5,286.8 L377.5,286.3 L377.5,285.8 L377.6,285.3 L377.6,284.8 L377.6,284.3 L377.7,283.8 L377.7,283.3 L377.7,282.8 L377.7,282.3 L377.8,281.8 L377.8,281.3 L377.8,280.8 L377.9,280.3 L377.9,279.8 L378.0,279.3 L378.0,278.8 L378.0,278.3 L378.1,277.8 L378.1,277.3 L378.2,276.8 L378.2,276.3 L378.3,275.8 L378.3,275.3 L378.4,274.8 L378.4,274.3 L378.5,273.8 L378.6,273.3 L378.6,272.8 L378.7,272.3 L378.7,271.8 L378.8,271.3 L378.9,270.8 L379.0,270.3 L379.1,269.8 L379.2,269.3 L379.3,268.8 L379.4,268.3 L379.5,267.8 L379.6,267.3 L379.7,266.8 L379.9,266.3 L380.0,265.8 L380.0,265.3 L380.1,264.8 L380.2,264.3 L380.3,263.8 L380.3,263.3 L380.4,262.8 L380.5,262.3 L380.5,261.8 L380.6,261.3 L380.7,260.8 L380.7,260.3 L380.8,259.8 L380.9,259.3 L381.0,258.8 L381.1,258.3 L381.2,257.8 L381.3,257.3 L381.4,256.8 L381.5,256.3 L381.7,255.8 L381.8,255.3 L382.0,254.8 L382.1,254.3 L382.3,253.8 L382.5,253.3 L382.6,252.8 L382.8,252.3 L383.0,251.8 L383.2,251.3 L383.4,250.8 L383.7,250.3 L383.9,249.8 L384.2,249.3 L384.4,248.8 L384.7,248.3 L384.9,247.8 L385.2,247.3 L385.5,246.8 L385.8,246.3 L386.0,245.8 L386.3,245.3 L386.6,244.8 L386.9,244.3 L387.2,243.8 L387.5,243.3 L387.8,242.8 L388.1,242.3 L388.4,241.8 L388.8,241.3 L389.1,240.8 L389.4,240.3 L389.7,239.8 L390.0,239.3 L390.3,238.8 L390.6,238.3 L390.9,237.8 L391.2,237.3 L391.5,236.8 L391.8,236.3 L392.1,235.8 L392.4,235.3 L392.7,234.8 L393.0,234.3 L393.3,233.8 L393.6,233.3 L393.9,232.8 L394.1,232.3 L394.4,231.8 L394.6,231.3 L394.9,230.8 L395.2,230.3 L395.4,229.8 L395.7,229.3 L395.9,228.8 L396.1,228.3 L396.4,227.8 L396.6,227.3 L396.8,226.8 L396.9,226.3 L397.1,225.8 L397.3,225.3 L397.5,224.8 L397.6,224.3 L397.8,223.8 L397.9,223.3 L398.1,222.8 L398.2,222.3 L398.3,221.8 L398.5,221.3 L398.6,220.8 L398.7,220.3 L398.7,219.8 L398.8,219.3 L398.9,218.8 L398.9,218.3 L399.0,217.8 L399.0,217.3 L399.1,216.8 L399.1,216.3 L399.1,215.8 L399.1,215.3 L399.1,214.8 L399.1,214.3 L399.0,213.8 L399.0,213.3 L398.9,212.8 L398.9,212.3 L398.9,211.8 L398.8,211.3 L398.8,210.8 L398.7,210.3 L398.7,209.8 L398.6,209.3 L398.6,208.8 L398.5,208.3 L398.4,207.8 L398.4,207.3 L398.3,206.8 L398.2,206.3 L398.1,205.8 L398.0,205.3 L398.0,204.8 L397.9,204.3 L397.8,203.8 L397.7,203.3 L397.6,202.8 L397.6,202.3 L397.5,201.8 L397.4,201.3 L397.3,200.8 L397.2,200.3 L397.1,199.8 L397.0,199.3 L396.9,198.8 L396.8,198.3 L396.6,197.8 L396.5,197.3 L396.4,196.8 L396.2,196.3 L396.1,195.8 L395.9,195.3 L395.7,194.8 L395.6,194.3 L395.4,193.8 L395.2,193.3 L395.1,192.8 L394.9,192.3 L394.7,191.8 L394.5,191.3 L394.3,190.8 L394.1,190.3 L393.9,189.8 L393.7,189.3 L393.5,188.8 L393.3,188.3 L393.0,187.8 L392.8,187.3 L392.6,186.8 L392.4,186.3 L392.1,185.8 L391.9,185.3 L391.7,184.8 L391.5,184.3 L391.2,183.8 L391.0,183.3 L390.7,182.8 L390.5,182.3 L390.2,181.8 L390.0,181.3 L389.7,180.8 L389.5,180.3 L389.2,179.8 L389.0,179.3 L388.8,178.8 L388.5,178.3 L388.3,177.8 L388.0,177.3 L387.7,176.8 L387.5,176.3 L387.2,175.8 L387.0,175.3 L386.7,174.8 L386.5,174.3 L386.2,173.8 L386.0,173.3 L385.8,172.8 L385.5,172.3 L385.3,171.8 L385.0,171.3 L384.8,170.8 L384.5,170.3 L384.3,169.8 L384.0,169.3 L383.8,168.8 L383.6,168.3 L383.4,167.8 L383.2,167.3 L383.0,166.8 L382.8,166.3 L382.6,165.8 L382.4,165.3 L382.2,164.8 L382.1,164.3 L381.9,163.8 L381.8,163.3 L381.6,162.8 L381.5,162.3 L381.3,161.8 L381.2,161.3 L381.0,160.8 L380.9,160.3 L380.7,159.8 L380.6,159.3 L380.5,158.8 L380.3,158.3 L380.2,157.8 L380.1,157.3 L380.0,156.8 L379.8,156.3 L379.7,155.8 L379.6,155.3 L379.5,154.8 L379.4,154.3 L379.3,153.8 L379.2,153.3 L379.1,152.8 L379.0,152.3 L379.0,151.8 L378.9,151.3 L378.8,150.8 L378.8,150.3 L378.7,149.8 L378.7,149.3 L378.6,148.8 L378.6,148.3 L378.5,147.8 L378.5,147.3 L378.4,146.8 L378.4,146.3 L378.4,145.8 L378.3,145.3 L378.3,144.8 L378.3,144.3 L378.2,143.8 L378.2,143.3 L378.2,142.8 L378.2,142.3 L378.1,141.8 L378.1,141.3 L378.1,140.8 L378.1,140.3 L378.1,139.8 L378.0,139.3 L378.0,138.8 L378.0,138.3 L378.0,137.8 L378.0,137.3 L378.0,136.8 L377.9,136.3 L377.9,135.8 L377.9,135.3 L377.9,134.8 L377.9,134.3 L377.9,133.8 L377.8,133.3 L377.8,132.8 L377.8,132.3 L377.8,131.8 L377.8,131.3 L377.8,130.8 L377.7,130.3 L377.7,129.8 L377.7,129.3 L377.7,128.8 L377.7,128.3 L377.7,127.8 L377.6,127.3 L377.6,126.8 L377.6,126.3 L377.6,125.8 L377.6,125.3 L377.6,124.8 L377.6,124.3 L377.5,123.8 L377.5,123.3 L377.5,122.8 L377.5,122.3 L377.5,121.8 L377.5,121.3 L377.5,120.8 L377.4,120.3 L377.4,119.8 L377.4,119.3 L377.4,118.8 L377.4,118.3 L377.3,117.8 L377.3,117.3 L377.3,116.8 L377.3,116.3 L377.3,115.8 L377.2,115.3 L377.2,114.8 L377.2,114.3 L377.2,113.8 L377.2,113.3 L377.1,112.8 L377.1,112.3 L377.1,111.8 L377.1,111.3 L377.0,110.8 L377.0,110.3 L377.0,109.8 L377.0,109.3 L376.9,108.8 L376.9,108.3 L376.9,107.8 L376.9,107.3 L376.9,106.8 L376.8,106.3 L376.8,105.8 Z" fill="#ff7f0e" fill-opacity="0.3"/>
<path d="M440.9,80.2 L440.8,80.7 L440.7,81.2 L440.7,81.7 L440.6,82.2 L440.6,82.7 L440.5,83.2 L440.5,83.7 L440.4,84.2 L440.3,84.7 L440.3,85.2 L440.2,85.7 L440.2,86.2 L440.1,86.7 L440.1,87.2 L440.0,87.7 L440.0,88.2 L440.0,88.7 L439.9,89.2 L439.9,89.7 L439.8,90.2 L439.8,90.7 L439.7,91.2 L439.7,91.7 L439.7,92.2 L439.6,92.7 L439.6,93.2 L439.6,93.7 L439.5,94.2 L439.5,94.7 L439.5,95.2 L439.4,95.7 L439.4,96.2 L439.4,96.7 L439.4,97.2 L439.3,97.7 L439.3,98.2 L439.3,98.7 L439.2,99.2 L439.2,99.7 L439.2,100.2 L439.1,100.7 L439.1,101.2 L439.0,101.7 L439.0,102.2 L439.0,102.7 L438.9,103.2 L438.9,103.7 L438.8,104.2 L438.8,104.7 L438.7,105.2 L438.6,105.7 L438.6,106.2 L438.5,106.7 L438.5,107.2 L438.4,107.7 L438.3,108.2 L438.3,108.7 L438.2,109.2 L438.2,109.7 L438.1,110.2 L438.0,110.7 L438.0,111.2 L437.9,111.7 L437.8,112.2 L437.8,112.7 L437.7,113.2 L437.6,113.7 L437.5,114.2 L437.5,114.7 L437.4,115.2 L437.3,115.7 L437.3,116.2 L437.2,116.7 L437.1,117.2 L437.1,117.7 L437.0,118.2 L436.9,118.7 L436.9,119.2 L436.8,119.7 L436.7,120.2 L436.7,120.7 L436.6,121.2 L436.5,121.7 L436.4,122.2 L436.4,122.7 L436.3,123.2 L436.2,123.7 L436.1,124.2 L436.0,124.7 L436.0,125.2 L435.9,125.7 L435.8,126.2 L435.7,126.7 L435.6,127.2 L435.5,127.7 L435.4,128.2 L435.3,128.7 L435.2,129.2 L435.0,129.7 L434.9,130.2 L434.8,130.7 L434.6,131.2 L434.5,131.7 L434.3,132.2 L434.1,132.7 L434.0,133.2 L433.8,133.7 L433.6,134.2 L433.5,134.7 L433.3,135.2 L433.1,135.7 L432.9,136.2 L432.8,136.7 L432.6,137.2 L432.4,137.7 L432.3,138.2 L432.1,138.7 L431.9,139.2 L431.7,139.7 L431.5,140.2 L431.4,140.7 L431.2,141.2 L431.0,141.7 L430.8,142.2 L430.6,142.7 L430.4,143.2 L430.2,143.7 L430.1,144.2 L429.9,144.7 L429.7,145.2 L429.5,145.7 L429.3,146.2 L429.1,146.7 L429.0,147.2 L428.8,147.7 L428.6,148.2 L428.4,148.7 L428.3,149.2 L428.1,149.7 L428.0,150.2 L427.8,150.7 L427.6,151.2 L427.5,151.7 L427.3,152.2 L427.2,152.7 L427.0,153.2 L426.9,153.7 L426.7,154.2 L426.6,154.7 L426.5,155.2 L426.3,155.7 L426.2,156.2 L426.0,156.7 L425.9,157.2 L425.8,157.7 L425.6,158.2 L425.5,158.7 L425.4,159.2 L425.2,159.7 L425.1,160.2 L425.0,160.7 L424.8,161.2 L424.7,161.7 L424.6,162.2 L424.5,162.7 L424.3,163.2 L424.2,163.7 L424.1,164.2 L424.0,164.7 L423.8,165.2 L423.7,165.7 L423.6,166.2 L423.5,166.7 L423.4,167.2 L423.2,167.7 L423.1,168.2 L423.0,168.7 L422.9,169.2 L422.8,169.7 L422.7,170.2 L422.6,170.7 L422.4,171.2 L422.3,171.7 L422.2,172.2 L422.1,172.7 L422.0,173.2 L421.9,173.7 L421.8,174.2 L421.7,174.7 L421.6,175.2 L421.5,175.7 L421.4,176.2 L421.3,176.7 L421.3,177.2 L421.2,177.7 L421.1,178.2 L421.0,178.7 L420.9,179.2 L420.8,179.7 L420.7,180.2 L420.6,180.7 L420.5,181.2 L420.5,181.7 L420.4,182.2 L420.3,182.7 L420.2,183.2 L420.1,183.7 L420.1,184.2 L420.0,184.7 L419.9,185.2 L419.8,185.7 L419.8,186.2 L419.7,186.7 L419.6,187.2 L419.5,187.7 L419.5,188.2 L419.4,188.7 L419.3,189.2 L419.3,189.7 L419.2,190.2 L419.1,190.7 L419.0,191.2 L419.0,191.7 L418.9,192.2 L418.8,192.7 L418.8,193.2 L418.7,193.7 L418.7,194.2 L418.6,194.7 L418.6,195.2 L418.6,195.7 L418.6,196.2 L418.6,196.7 L418.6,197.2 L418.6,197.7 L418.6,198.2 L418.6,198.7 L418.6,199.2 L418.6,199.7 L418.6,200.2 L418.6,200.7 L418.6,201.2 L418.6,201.7 L418.6,202.2 L418.6,202.7 L418.6,203.2 L418.6,203.7 L418.6,204.2 L418.6,204.7 L418.6,205.2 L418.7,205.7 L418.8,206.2 L418.8,206.7 L418.9,207.2 L419.0,207.7 L419.1,208.2 L419.1,208.7 L419.2,209.2 L419.3,209.7 L419.4,210.2 L419.5,210.7 L419.6,211.2 L419.7,211.7 L419.8,212.2 L419.9,212.7 L420.0,213.2 L420.2,213.7 L420.3,214.2 L420.5,214.7 L420.6,215.2 L420.7,215.7 L420.9,216.2 L421.0,216.7 L421.2,217.2 L421.3,217.7 L421.5,218.2 L421.7,218.7 L421.8,219.2 L422.0,219.7 L422.1,220.2 L422.3,220.7 L422.4,221.2 L422.6,221.7 L422.7,222.2 L422.9,222.7 L423.0,223.2 L423.1,223.7 L423.3,224.2 L423.4,224.7 L423.5,225.2 L423.7,225.7 L423.8,226.2 L424.0,226.7 L424.1,227.2 L424.2,227.7 L424.4,228.2 L424.5,228.7 L424.6,229.2 L424.8,229.7 L424.9,230.2 L425.1,230.7 L425.2,231.2 L425.3,231.7 L425.5,232.2 L425.6,232.7 L425.8,233.2 L425.9,233.7 L426.0,234.2 L426.2,234.7 L426.3,235.2 L426.5,235.7 L426.6,236.2 L426.8,236.7 L426.9,237.2 L427.1,237.7 L427.2,238.2 L427.4,238.7 L427.5,239.2 L427.7,239.7 L427.8,240.2 L428.0,240.7 L428.2,241.2 L428.3,241.7 L428.5,242.2 L428.6,242.7 L428.8,243.2 L428.9,243.7 L429.1,244.2 L429.2,244.7 L429.4,245.2 L429.6,245.7 L429.7,246.2 L429.9,246.7 L430.0,247.2 L430.1,247.7 L430.3,248.2 L430.4,248.7 L430.6,249.2 L430.7,249.7 L430.8,250.2 L431.0,250.7 L431.1,251.2 L431.2,251.7 L431.4,252.2 L431.5,252.7 L431.6,253.2 L431.8,253.7 L431.9,254.2 L432.0,254.7 L432.2,255.2 L432.3,255.7 L432.5,256.2 L432.6,256.7 L432.8,257.2 L432.9,257.7 L433.1,258.2 L433.3,258.7 L433.4,259.2 L433.6,259.7 L433.8,260.2 L433.9,260.7 L434.1,261.2 L434.3,261.7 L434.4,262.2 L434.6,262.7 L434.7,263.2 L434.8,263.7 L434.9,264.2 L435.1,264.7 L435.2,265.2 L435.3,265.7 L435.4,266.2 L435.5,266.7 L435.6,267.2 L435.7,267.7 L435.7,268.2 L435.8,268.7 L435.9,269.2 L436.0,269.7 L436.1,270.2 L436.2,270.7 L436.3,271.2 L436.4,271.7 L436.4,272.2 L436.5,272.7 L436.6,273.2 L436.7,273.7 L436.8,274.2 L436.9,274.7 L436.9,275.2 L437.0,275.7 L437.1,276.2 L437.2,276.7 L437.2,277.2 L437.3,277.7 L437.4,278.2 L437.5,278.7 L437.5,279.2 L437.6,279.7 L437.7,280.2 L437.7,280.7 L437.8,281.2 L437.8,281.7 L437.9,282.2 L438.0,282.7 L438.0,283.2 L438.1,283.7 L438.1,284.2 L438.2,284.7 L438.2,285.2 L438.3,285.7 L438.3,286.2 L438.4,286.7 L438.4,287.2 L438.4,287.7 L438.5,288.2 L438.5,288.7 L438.6,289.2 L438.6,289.7 L438.7,290.2 L438.7,290.7 L438.7,291.2 L438.8,291.7 L438.8,292.2 L438.8,292.7 L438.9,293.2 L438.9,293.7 L439.0,294.2 L439.0,294.7 L439.0,295.2 L439.1,295.7 L439.1,296.2 L439.1,296.7 L439.2,297.2 L439.2,297.7 L439.2,298.2 L439.2,298.7 L439.3,299.2 L439.3,299.7 L439.3,300.2 L439.4,300.7 L439.4,301.2 L439.4,301.7 L439.4,302.2 L439.5,302.7 L439.5,303.2 L439.5,303.7 L439.5,304.2 L439.6,304.7 L439.6,305.2 L439.6,305.7 L439.6,306.2 L439.7,306.7 L439.7,307.2 L439.7,307.7 L439.7,308.2 L439.8,308.7 L439.8,309.2 L439.8,309.7 L439.8,310.2 L439.9,310.7 L439.9,311.2 L439.9,311.7 L439.9,312.2 L440.0,312.7 L440.0,313.2 L440.0,313.7 L440.0,314.2 L440.1,314.7 L440.1,315.2 L440.1,315.7 L440.2,316.2 L440.2,316.7 L440.2,317.2 L440.3,317.7 L440.3,318.2 L440.4,318.7 L440.4,319.2 L440.4,319.7 L440.5,320.2 L440.5,320.7 L440.6,321.2 L440.6,321.7 L440.7,322.2 L440.7,322.7 L440.8,323.2 L440.9,323.7 L440.9,323.7 L440.9,323.2 L441.0,322.7 L441.0,322.2 L441.1,321.7 L441.1,321.2 L441.2,320.7 L441.2,320.2 L441.3,319.7 L441.3,319.2 L441.3,318.7 L441.4,318.2 L441.4,317.7 L441.5,317.2 L441.5,316.7 L441.5,316.2 L441.6,315.7 L441.6,315.2 L441.6,314.7 L441.7,314.2 L441.7,313.7 L441.7,313.2 L441.7,312.7 L441.8,312.2 L441.8,311.7 L441.8,311.2 L441.8,310.7 L441.9,310.2 L441.9,309.7 L441.9,309.2 L441.9,308.7 L442.0,308.2 L442.0,307.7 L442.0,307.2 L442.0,306.7 L442.1,306.2 L442.1,305.7 L442.1,305.2 L442.1,304.7 L442.2,304.2 L442.2,303.7 L442.2,303.2 L442.2,302.7 L442.3,302.2 L442.3,301.7 L442.3,301.2 L442.3,300.7 L442.4,300.2 L442.4,299.7 L442.4,299.2 L442.5,298.7 L442.5,298.2 L442.5,297.7 L442.5,297.2 L442.6,296.7 L442.6,296.2 L442.6,295.7 L442.7,295.2 L442.7,294.7 L442.7,294.2 L442.8,293.7 L442.8,293.2 L442.9,292.7 L442.9,292.2 L442.9,291.7 L443.0,291.2 L443.0,290.7 L443.0,290.2 L443.1,289.7 L443.1,289.2 L443.2,288.7 L443.2,288.2 L443.3,287.7 L443.3,287.2 L443.3,286.7 L443.4,286.2 L443.4,285.7 L443.5,285.2 L443.5,284.7 L443.6,284.2 L443.6,283.7 L443.7,283.2 L443.8,282.7 L443.8,282.2 L443.9,281.7 L443.9,281.2 L444.0,280.7 L444.0,280.2 L444.1,279.7 L444.2,279.2 L444.2,278.7 L444.3,278.2 L444.4,277.7 L444.5,277.2 L444.5,276.7 L444.6,276.2 L444.7,275.7 L444.8,275.2 L444.8,274.7 L444.9,274.2 L445.0,273.7 L445.1,273.2 L445.2,272.7 L445.3,272.2 L445.3,271.7 L445.4,271.2 L445.5,270.7 L445.6,270.2 L445.7,269.7 L445.8,269.2 L445.9,268.7 L446.0,268.2 L446.0,267.7 L446.1,267.2 L446.2,266.7 L446.3,266.2 L446.4,265.7 L446.5,265.2 L446.6,264.7 L446.8,264.2 L446.9,263.7 L447.0,263.2 L447.1,262.7 L447.3,262.2 L447.4,261.7 L447.6,261.2 L447.8,260.7 L447.9,260.2 L448.1,259.7 L448.3,259.2 L448.4,258.7 L448.6,258.2 L448.8,257.7 L448.9,257.2 L449.1,256.7 L449.2,256.2 L449.4,255.7 L449.5,255.2 L449.7,254.7 L449.8,254.2 L449.9,253.7 L450.1,253.2 L450.2,252.7 L450.3,252.2 L450.5,251.7 L450.6,251.2 L450.7,250.7 L450.9,250.2 L451.0,249.7 L451.1,249.2 L451.3,248.7 L451.4,248.2 L451.6,247.7 L451.7,247.2 L451.8,246.7 L452.0,246.2 L452.1,245.7 L452.3,245.2 L452.5,244.7 L452.6,244.2 L452.8,243.7 L452.9,243.2 L453.1,242.7 L453.2,242.2 L453.4,241.7 L453.5,241.2 L453.7,240.7 L453.9,240.2 L454.0,239.7 L454.2,239.2 L454.3,238.7 L454.5,238.2 L454.6,237.7 L454.8,237.2 L454.9,236.7 L455.1,236.2 L455.2,235.7 L455.4,235.2 L455.5,234.7 L455.7,234.2 L455.8,233.7 L455.9,233.2 L456.1,232.7 L456.2,232.2 L456.4,231.7 L456.5,231.2 L456.6,230.7 L456.8,230.2 L456.9,229.7 L457.1,229.2 L457.2,228.7 L457.3,228.2 L457.5,227.7 L457.6,227.2 L457.7,226.7 L457.9,226.2 L458.0,225.7 L458.2,225.2 L458.3,224.7 L458.4,224.2 L458.6,223.7 L458.7,223.2 L458.9,222.7 L459.0,222.2 L459.1,221.7 L459.3,221.2 L459.4,220.7 L459.6,220.2 L459.7,219.7 L459.9,219.2 L460.0,218.7 L460.2,218.2 L460.4,217.7 L460.5,217.2 L460.7,216.7 L460.8,216.2 L461.0,215.7 L461.1,215.2 L461.2,214.7 L461.4,214.2 L461.5,213.7 L461.7,213.2 L461.8,212.7 L461.9,212.2 L462.0,211.7 L462.1,211.2 L462.2,210.7 L462.3,210.2 L462.4,209.7 L462.5,209.2 L462.6,208.7 L462.6,208.2 L462.7,207.7 L462.8,207.2 L462.9,206.7 L462.9,206.2 L463.0,205.7 L463.1,205.2 L463.1,204.7 L463.1,204.2 L463.1,203.7 L463.2,203.2 L463.2,202.7 L463.2,202.2 L463.2,201.7 L463.2,201.2 L463.2,200.7 L463.2,200.2 L463.2,199.7 L463.2,199.2 L463.2,198.7 L463.2,198.2 L463.2,197.7 L463.2,197.2 L463.2,196.7 L463.1,196.2 L463.1,195.7 L463.1,195.2 L463.1,194.7 L463.0,194.2 L463.0,193.7 L462.9,193.2 L462.9,192.7 L462.8,192.2 L462.7,191.7 L462.7,191.2 L462.6,190.7 L462.5,190.2 L462.4,189.7 L462.4,189.2 L462.3,188.7 L462.2,188.2 L462.2,187.7 L462.1,187.2 L462.0,186.7 L461.9,186.2 L461.9,185.7 L461.8,185.2 L461.7,184.7 L461.6,184.2 L461.6,183.7 L461.5,183.2 L461.4,182.7 L461.3,182.2 L461.2,181.7 L461.2,181.2 L461.1,180.7 L461.0,180.2 L460.9,179.7 L460.8,179.2 L460.7,178.7 L460.6,178.2 L460.5,177.7 L460.4,177.2 L460.4,176.7 L460.3,176.2 L460.2,175.7 L460.1,175.2 L460.0,174.7 L459.9,174.2 L459.8,173.7 L459.7,173.2 L459.6,172.7 L459.5,172.2 L459.4,171.7 L459.3,171.2 L459.1,170.7 L459.0,170.2 L458.9,169.7 L458.8,169.2 L458.7,168.7 L458.6,168.2 L458.5,167.7 L458.3,167.2 L458.2,166.7 L458.1,166.2 L458.0,165.7 L457.9,165.2 L457.7,164.7 L457.6,164.2 L457.5,163.7 L457.4,163.2 L457.2,162.7 L457.1,162.2 L457.0,161.7 L456.9,161.2 L456.7,160.7 L456.6,160.2 L456.5,159.7 L456.3,159.2 L456.2,158.7 L456.1,158.2 L455.9,157.7 L455.8,157.2 L455.7,156.7 L455.5,156.2 L455.4,155.7 L455.2,155.2 L455.1,154.7 L455.0,154.2 L454.8,153.7 L454.7,153.2 L454.5,152.7 L454.4,152.2 L454.2,151.7 L454.1,151.2 L453.9,150.7 L453.7,150.2 L453.6,149.7 L453.4,149.2 L453.3,148.7 L453.1,148.2 L452.9,147.7 L452.7,147.2 L452.6,146.7 L452.4,146.2 L452.2,145.7 L452.0,145.2 L451.8,144.7 L451.6,144.2 L451.5,143.7 L451.3,143.2 L451.1,142.7 L450.9,142.2 L450.7,141.7 L450.5,141.2 L450.3,140.7 L450.2,140.2 L450.0,139.7 L449.8,139.2 L449.6,138.7 L449.4,138.2 L449.3,137.7 L449.1,137.2 L448.9,136.7 L448.8,136.2 L448.6,135.7 L448.4,135.2 L448.2,134.7 L448.1,134.2 L447.9,133.7 L447.7,133.2 L447.6,132.7 L447.4,132.2 L447.2,131.7 L447.1,131.2 L446.9,130.7 L446.8,130.2 L446.7,129.7 L446.5,129.2 L446.4,128.7 L446.3,128.2 L446.2,127.7 L446.1,127.2 L446.0,126.7 L445.9,126.2 L445.8,125.7 L445.7,125.2 L445.7,124.7 L445.6,124.2 L445.5,123.7 L445.4,123.2 L445.3,122.7 L445.3,122.2 L445.2,121.7 L445.1,121.2 L445.0,120.7 L445.0,120.2 L444.9,119.7 L444.8,119.2 L444.8,118.7 L444.7,118.2 L444.6,117.7 L444.6,117.2 L444.5,116.7 L444.4,116.2 L444.4,115.7 L444.3,115.2 L444.2,114.7 L444.2,114.2 L444.1,113.7 L444.0,113.2 L443.9,112.7 L443.9,112.2 L443.8,111.7 L443.7,111.2 L443.7,110.7 L443.6,110.2 L443.5,109.7 L443.5,109.2 L443.4,108.7 L443.4,108.2 L443.3,107.7 L443.2,107.2 L443.2,106.7 L443.1,106.2 L443.1,105.7 L443.0,105.2 L442.9,104.7 L442.9,104.2 L442.8,103.7 L442.8,103.2 L442.8,102.7 L442.7,102.2 L442.7,101.7 L442.6,101.2 L442.6,100.7 L442.5,100.2 L442.5,99.7 L442.5,99.2 L442.4,98.7 L442.4,98.2 L442.4,97.7 L442.3,97.2 L442.3,96.7 L442.3,96.2 L442.3,95.7 L442.2,95.2 L442.2,94.7 L442.2,94.2 L442.1,93.7 L442.1,93.2 L442.1,92.7 L442.0,92.2 L442.0,91.7 L442.0,91.2 L441.9,90.7 L441.9,90.2 L441.8,89.7 L441.8,89.2 L441.7,88.7 L441.7,88.2 L441.7,87.7 L441.6,87.2 L441.6,86.7 L441.5,86.2 L441.5,85.7 L441.4,85.2 L441.4,84.7 L441.3,84.2 L441.2,83.7 L441.2,83.2 L441.1,82.7 L441.1,82.2 L441.0,81.7 L441.0,81.2 L440.9,80.7 L440.9,80.2 Z" fill="#ff7f0e" fill-opacity="0.3"/>
<path d="M503.2,220.1 L503.2,220.6 L503.2,221.1 L503.2,221.6 L503.2,222.1 L503.1,222.6 L503.1,223.1 L503.1,223.6 L503.1,224.1 L503.1,224.6 L503.1,225.1 L503.0,225.6 L503.0,226.1 L503.0,226.6 L503.0,227.1 L503.0,227.6 L503.0,228.1 L502.9,228.6 L502.9,229.1 L502.9,229.6 L502.9,230.1 L502.9,230.6 L502.9,231.1 L502.8,231.6 L502.8,232.1 L502.8,232.6 L502.8,233.1 L502.8,233.6 L502.7,234.1 L502.7,234.6 L502.7,235.1 L502.7,235.6 L502.7,236.1 L502.6,236.6 L502.6,237.1 L502.6,237.6 L502.6,238.1 L502.5,238.6 L502.5,239.1 L502.5,239.6 L502.4,240.1 L502.4,240.6 L502.4,241.1 L502.4,241.6 L502.3,242.1 L502.3,242.6 L502.2,243.1 L502.2,243.6 L502.2,244.1 L502.1,244.6 L502.1,245.1 L502.1,245.6 L502.0,246.1 L502.0,246.6 L501.9,247.1 L501.9,247.6 L501.9,248.1 L501.8,248.6 L501.8,249.1 L501.7,249.6 L501.7,250.1 L501.6,250.6 L501.6,251.1 L501.5,251.6 L501.5,252.1 L501.4,252.6 L501.4,253.1 L501.3,253.6 L501.3,254.1 L501.2,254.6 L501.2,255.1 L501.1,255.6 L501.0,256.1 L501.0,256.6 L500.9,257.1 L500.9,257.6 L500.8,258.1 L500.7,258.6 L500.7,259.1 L500.6,259.6 L500.5,260.1 L500.4,260.6 L500.4,261.1 L500.3,261.6 L500.2,262.1 L500.2,262.6 L500.1,263.1 L500.0,263.6 L499.9,264.1 L499.9,264.6 L499.8,265.1 L499.7,265.6 L499.6,266.1 L499.6,266.6 L499.5,267.1 L499.4,267.6 L499.3,268.1 L499.2,268.6 L499.2,269.1 L499.1,269.6 L499.0,270.1 L498.9,270.6 L498.8,271.1 L498.7,271.6 L498.6,272.1 L498.6,272.6 L498.5,273.1 L498.4,273.6 L498.3,274.1 L498.2,274.6 L498.1,275.1 L498.0,275.6 L497.9,276.1 L497.8,276.6 L497.8,277.1 L497.7,277.6 L497.6,278.1 L497.5,278.6 L497.4,279.1 L497.3,279.6 L497.2,280.1 L497.2,280.6 L497.1,281.1 L497.0,281.6 L496.9,282.1 L496.8,282.6 L496.8,283.1 L496.7,283.6 L496.6,284.1 L496.5,284.6 L496.4,285.1 L496.3,285.6 L496.3,286.1 L496.2,286.6 L496.1,287.1 L496.0,287.6 L495.9,288.1 L495.8,288.6 L495.7,289.1 L495.6,289.6 L495.6,290.1 L495.5,290.6 L495.4,291.1 L495.3,291.6 L495.2,292.1 L495.0,292.6 L494.9,293.1 L494.8,293.6 L494.7,294.1 L494.6,294.6 L494.5,295.1 L494.3,295.6 L494.2,296.1 L494.1,296.6 L494.0,297.1 L493.9,297.6 L493.7,298.1 L493.6,298.6 L493.5,299.1 L493.4,299.6 L493.3,300.1 L493.1,300.6 L493.0,301.1 L492.9,301.6 L492.8,302.1 L492.7,302.6 L492.6,303.1 L492.5,303.6 L492.3,304.1 L492.2,304.6 L492.1,305.1 L492.0,305.6 L491.9,306.1 L491.8,306.6 L491.7,307.1 L491.5,307.6 L491.4,308.1 L491.3,308.6 L491.2,309.1 L491.1,309.6 L491.0,310.1 L490.9,310.6 L490.8,311.1 L490.7,311.6 L490.6,312.1 L490.5,312.6 L490.4,313.1 L490.3,313.6 L490.2,314.1 L490.0,314.6 L489.9,315.1 L489.8,315.6 L489.7,316.1 L489.6,316.6 L489.5,317.1 L489.4,317.6 L489.3,318.1 L489.2,318.6 L489.1,319.1 L489.0,319.6 L488.9,320.1 L488.8,320.6 L488.7,321.1 L488.6,321.6 L488.6,322.1 L488.5,322.6 L488.4,323.1 L488.3,323.6 L488.2,324.1 L488.1,324.6 L488.0,325.1 L487.9,325.6 L487.8,326.1 L487.7,326.6 L487.7,327.1 L487.6,327.6 L487.5,328.1 L487.4,328.6 L487.3,329.1 L487.3,329.6 L487.2,330.1 L487.1,330.6 L487.0,331.1 L486.9,331.6 L486.9,332.1 L486.8,332.6 L486.7,333.1 L486.6,333.6 L486.6,334.1 L486.5,334.6 L486.4,335.1 L486.3,335.6 L486.3,336.1 L486.2,336.6 L486.1,337.1 L486.1,337.6 L486.0,338.1 L485.9,338.6 L485.8,339.1 L485.7,339.6 L485.7,340.1 L485.6,340.6 L485.5,341.1 L485.4,341.6 L485.3,342.1 L485.3,342.6 L485.2,343.1 L485.1,343.6 L485.0,344.1 L484.9,344.6 L484.9,345.1 L484.8,345.6 L484.7,346.1 L484.6,346.6 L484.5,347.1 L484.5,347.6 L484.4,348.1 L484.3,348.6 L484.3,349.1 L484.2,349.6 L484.1,350.1 L484.1,350.6 L484.0,351.1 L484.0,351.6 L483.9,352.1 L483.9,352.6 L483.8,353.1 L483.8,353.6 L483.8,354.1 L483.7,354.6 L483.7,355.1 L483.6,355.6 L483.6,356.1 L483.6,356.6 L483.5,357.1 L483.5,357.6 L483.5,358.1 L483.4,358.6 L483.4,359.1 L483.4,359.6 L483.3,360.1 L483.3,360.6 L483.2,361.1 L483.2,361.6 L483.2,362.1 L483.1,362.6 L483.1,363.1 L483.1,363.6 L483.0,364.1 L483.0,364.6 L483.0,365.1 L483.0,365.6 L483.0,366.1 L482.9,366.6 L482.9,367.1 L482.9,367.6 L482.9,368.1 L482.9,368.6 L482.9,369.1 L482.8,369.6 L482.8,370.1 L482.8,370.6 L482.8,371.1 L482.8,371.6 L482.8,372.1 L482.8,372.6 L482.7,373.1 L482.7,373.6 L482.7,374.1 L482.7,374.6 L482.7,375.1 L482.7,375.6 L482.7,376.1 L482.7,376.6 L482.7,377.1 L482.7,377.6 L482.7,378.1 L482.7,378.6 L482.7,379.1 L482.7,379.6 L482.8,380.1 L482.8,380.6 L482.8,381.1 L482.9,381.6 L482.9,382.1 L483.0,382.6 L483.0,383.1 L483.1,383.6 L483.1,384.1 L483.2,384.6 L483.3,385.1 L483.3,385.6 L483.4,386.1 L483.5,386.6 L483.6,387.1 L483.6,387.6 L483.7,388.1 L483.8,388.6 L483.9,389.1 L483.9,389.6 L484.0,390.1 L484.1,390.6 L484.2,391.1 L484.3,391.6 L484.4,392.1 L484.5,392.6 L484.6,393.1 L484.7,393.6 L484.8,394.1 L485.0,394.6 L485.1,395.1 L485.2,395.6 L485.4,396.1 L485.5,396.6 L485.7,397.1 L485.8,397.6 L486.0,398.1 L486.2,398.6 L486.3,399.1 L486.5,399.6 L486.7,400.1 L486.9,400.6 L487.0,401.1 L487.2,401.6 L487.4,402.1 L487.6,402.6 L487.8,403.1 L488.0,403.6 L488.2,404.1 L488.4,404.6 L488.6,405.1 L488.8,405.6 L489.1,406.1 L489.3,406.6 L489.6,407.1 L489.8,407.6 L490.1,408.1 L490.4,408.6 L490.7,409.1 L491.0,409.6 L491.3,410.1 L491.6,410.6 L492.0,411.1 L492.3,411.6 L492.7,412.1 L493.0,412.6 L493.4,413.1 L493.8,413.6 L494.2,414.1 L494.6,414.6 L494.9,415.0 L514.9,415.0 L515.2,414.6 L515.6,414.1 L516.0,413.6 L516.4,413.1 L516.8,412.6 L517.1,412.1 L517.5,411.6 L517.8,411.1 L518.2,410.6 L518.5,410.1 L518.8,409.6 L519.1,409.1 L519.4,408.6 L519.7,408.1 L520.0,407.6 L520.2,407.1 L520.5,406.6 L520.7,406.1 L521.0,405.6 L521.2,405.1 L521.4,404.6 L521.6,404.1 L521.8,403.6 L522.0,403.1 L522.2,402.6 L522.4,402.1 L522.6,401.6 L522.8,401.1 L522.9,400.6 L523.1,400.1 L523.3,399.6 L523.5,399.1 L523.6,398.6 L523.8,398.1 L524.0,397.6 L524.1,397.1 L524.3,396.6 L524.4,396.1 L524.6,395.6 L524.7,395.1 L524.8,394.6 L525.0,394.1 L525.1,393.6 L525.2,393.1 L525.3,392.6 L525.4,392.1 L525.5,391.6 L525.6,391.1 L525.7,390.6 L525.8,390.1 L525.9,389.6 L525.9,389.1 L526.0,388.6 L526.1,388.1 L526.2,387.6 L526.2,387.1 L526.3,386.6 L526.4,386.1 L526.5,385.6 L526.5,385.1 L526.6,384.6 L526.7,384.1 L526.7,383.6 L526.8,383.1 L526.8,382.6 L526.9,382.1 L526.9,381.6 L527.0,381.1 L527.0,380.6 L527.0,380.1 L527.1,379.6 L527.1,379.1 L527.1,378.6 L527.1,378.1 L527.1,377.6 L527.1,377.1 L527.1,376.6 L527.1,376.1 L527.1,375.6 L527.1,375.1 L527.1,374.6 L527.1,374.1 L527.1,373.6 L527.1,373.1 L527.0,372.6 L527.0,372.1 L527.0,371.6 L527.0,371.1 L527.0,370.6 L527.0,370.1 L527.0,369.6 L526.9,369.1 L526.9,368.6 L526.9,368.1 L526.9,367.6 L526.9,367.1 L526.9,366.6 L526.8,366.1 L526.8,365.6 L526.8,365.1 L526.8,364.6 L526.8,364.1 L526.7,363.6 L526.7,363.1 L526.7,362.6 L526.6,362.1 L526.6,361.6 L526.6,361.1 L526.5,360.6 L526.5,360.1 L526.4,359.6 L526.4,359.1 L526.4,358.6 L526.3,358.1 L526.3,357.6 L526.3,357.1 L526.2,356.6 L526.2,356.1 L526.2,355.6 L526.1,355.1 L526.1,354.6 L526.0,354.1 L526.0,353.6 L526.0,353.1 L525.9,352.6 L525.9,352.1 L525.8,351.6 L525.8,351.1 L525.7,350.6 L525.7,350.1 L525.6,349.6 L525.5,349.1 L525.5,348.6 L525.4,348.1 L525.3,347.6 L525.3,347.1 L525.2,346.6 L525.1,346.1 L525.0,345.6 L524.9,345.1 L524.9,344.6 L524.8,344.1 L524.7,343.6 L524.6,343.1 L524.5,342.6 L524.5,342.1 L524.4,341.6 L524.3,341.1 L524.2,340.6 L524.1,340.1 L524.1,339.6 L524.0,339.1 L523.9,338.6 L523.8,338.1 L523.7,337.6 L523.7,337.1 L523.6,336.6 L523.5,336.1 L523.5,335.6 L523.4,335.1 L523.3,334.6 L523.2,334.1 L523.2,333.6 L523.1,333.1 L523.0,332.6 L522.9,332.1 L522.9,331.6 L522.8,331.1 L522.7,330.6 L522.6,330.1 L522.5,329.6 L522.5,329.1 L522.4,328.6 L522.3,328.1 L522.2,327.6 L522.1,327.1 L522.1,326.6 L522.0,326.1 L521.9,325.6 L521.8,325.1 L521.7,324.6 L521.6,324.1 L521.5,323.6 L521.4,323.1 L521.3,322.6 L521.2,322.1 L521.2,321.6 L521.1,321.1 L521.0,320.6 L520.9,320.1 L520.8,319.6 L520.7,319.1 L520.6,318.6 L520.5,318.1 L520.4,317.6 L520.3,317.1 L520.2,316.6 L520.1,316.1 L520.0,315.6 L519.9,315.1 L519.8,314.6 L519.6,314.1 L519.5,313.6 L519.4,313.1 L519.3,312.6 L519.2,312.1 L519.1,311.6 L519.0,311.1 L518.9,310.6 L518.8,310.1 L518.7,309.6 L518.6,309.1 L518.5,308.6 L518.4,308.1 L518.3,307.6 L518.1,307.1 L518.0,306.6 L517.9,306.1 L517.8,305.6 L517.7,305.1 L517.6,304.6 L517.5,304.1 L517.3,303.6 L517.2,303.1 L517.1,302.6 L517.0,302.1 L516.9,301.6 L516.8,301.1 L516.7,300.6 L516.5,300.1 L516.4,299.6 L516.3,299.1 L516.2,298.6 L516.1,298.1 L515.9,297.6 L515.8,297.1 L515.7,296.6 L515.6,296.1 L515.5,295.6 L515.3,295.1 L515.2,294.6 L515.1,294.1 L515.0,293.6 L514.9,293.1 L514.8,292.6 L514.6,292.1 L514.5,291.6 L514.4,291.1 L514.3,290.6 L514.2,290.1 L514.2,289.6 L514.1,289.1 L514.0,288.6 L513.9,288.1 L513.8,287.6 L513.7,287.1 L513.6,286.6 L513.5,286.1 L513.5,285.6 L513.4,285.1 L513.3,284.6 L513.2,284.1 L513.1,283.6 L513.0,283.1 L513.0,282.6 L512.9,282.1 L512.8,281.6 L512.7,281.1 L512.6,280.6 L512.6,280.1 L512.5,279.6 L512.4,279.1 L512.3,278.6 L512.2,278.1 L512.1,277.6 L512.0,277.1 L512.0,276.6 L511.9,276.1 L511.8,275.6 L511.7,275.1 L511.6,274.6 L511.5,274.1 L511.4,273.6 L511.3,273.1 L511.2,272.6 L511.2,272.1 L511.1,271.6 L511.0,271.1 L510.9,270.6 L510.8,270.1 L510.7,269.6 L510.6,269.1 L510.6,268.6 L510.5,268.1 L510.4,267.6 L510.3,267.1 L510.2,266.6 L510.2,266.1 L510.1,265.6 L510.0,265.1 L509.9,264.6 L509.9,264.1 L509.8,263.6 L509.7,263.1 L509.6,262.6 L509.6,262.1 L509.5,261.6 L509.4,261.1 L509.4,260.6 L509.3,260.1 L509.2,259.6 L509.1,259.1 L509.1,258.6 L509.0,258.1 L508.9,257.6 L508.9,257.1 L508.8,256.6 L508.8,256.1 L508.7,255.6 L508.6,255.1 L508.6,254.6 L508.5,254.1 L508.5,253.6 L508.4,253.1 L508.4,252.6 L508.3,252.1 L508.3,251.6 L508.2,251.1 L508.2,250.6 L508.1,250.1 L508.1,249.6 L508.0,249.1 L508.0,248.6 L507.9,248.1 L507.9,247.6 L507.9,247.1 L507.8,246.6 L507.8,246.1 L507.7,245.6 L507.7,245.1 L507.7,244.6 L507.6,244.1 L507.6,243.6 L507.6,243.1 L507.5,242.6 L507.5,242.1 L507.4,241.6 L507.4,241.1 L507.4,240.6 L507.4,240.1 L507.3,239.6 L507.3,239.1 L507.3,238.6 L507.2,238.1 L507.2,237.6 L507.2,237.1 L507.2,236.6 L507.1,236.1 L507.1,235.6 L507.1,235.1 L507.1,234.6 L507.1,234.1 L507.0,233.6 L507.0,233.1 L507.0,232.6 L507.0,232.1 L507.0,231.6 L506.9,231.1 L506.9,230.6 L506.9,230.1 L506.9,229.6 L506.9,229.1 L506.9,228.6 L506.8,228.1 L506.8,227.6 L506.8,227.1 L506.8,226.6 L506.8,226.1 L506.8,225.6 L506.7,225.1 L506.7,224.6 L506.7,224.1 L506.7,223.6 L506.7,223.1 L506.7,222.6 L506.6,222.1 L506.6,221.6 L506.6,221.1 L506.6,220.6 L506.6,220.1 Z" fill="#ff7f0e" fill-opacity="0.3"/>
<path d="M568.4,181.8 L568.4,182.3 L568.4,182.8 L568.4,183.3 L568.3,183.8 L568.3,184.3 L568.3,184.8 L568.2,185.3 L568.2,185.8 L568.2,186.3 L568.1,186.8 L568.1,187.3 L568.1,187.8 L568.0,188.3 L568.0,188.8 L568.0,189.3 L568.0,189.8 L567.9,190.3 L567.9,190.8 L567.9,191.3 L567.8,191.8 L567.8,192.3 L567.8,192.8 L567.7,193.3 L567.7,193.8 L567.7,194.3 L567.6,194.8 L567.6,195.3 L567.6,195.8 L567.5,196.3 L567.5,196.8 L567.5,197.3 L567.4,197.8 L567.4,198.3 L567.4,198.8 L567.4,199.3 L567.3,199.8 L567.3,200.3 L567.3,200.8 L567.2,201.3 L567.2,201.8 L567.2,202.3 L567.1,202.8 L567.1,203.3 L567.1,203.8 L567.0,204.3 L567.0,204.8 L567.0,205.3 L566.9,205.8 L566.9,206.3 L566.9,206.8 L566.8,207.3 L566.8,207.8 L566.7,208.3 L566.7,208.8 L566.6,209.3 L566.6,209.8 L566.5,210.3 L566.5,210.8 L566.4,211.3 L566.4,211.8 L566.3,212.3 L566.3,212.8 L566.2,213.3 L566.1,213.8 L566.1,214.3 L566.0,214.8 L566.0,215.3 L565.9,215.8 L565.8,216.3 L565.8,216.8 L565.7,217.3 L565.6,217.8 L565.6,218.3 L565.5,218.8 L565.5,219.3 L565.4,219.8 L565.3,220.3 L565.3,220.8 L565.2,221.3 L565.2,221.8 L565.1,222.3 L565.0,222.8 L565.0,223.3 L564.9,223.8 L564.9,224.3 L564.8,224.8 L564.8,225.3 L564.7,225.8 L564.7,226.3 L564.6,226.8 L564.6,227.3 L564.5,227.8 L564.4,228.3 L564.4,228.8 L564.3,229.3 L564.3,229.8 L564.2,230.3 L564.1,230.8 L564.1,231.3 L564.0,231.8 L563.9,232.3 L563.8,232.8 L563.7,233.3 L563.7,233.8 L563.6,234.3 L563.5,234.8 L563.4,235.3 L563.3,235.8 L563.2,236.3 L563.1,236.8 L563.0,237.3 L562.9,237.8 L562.8,238.3 L562.7,238.8 L562.6,239.3 L562.5,239.8 L562.4,240.3 L562.3,240.8 L562.2,241.3 L562.1,241.8 L562.0,242.3 L561.9,242.8 L561.8,243.3 L561.7,243.8 L561.6,244.3 L561.5,244.8 L561.4,245.3 L561.3,245.8 L561.2,246.3 L561.1,246.8 L561.0,247.3 L560.9,247.8 L560.8,248.3 L560.7,248.8 L560.6,249.3 L560.5,249.8 L560.4,250.3 L560.3,250.8 L560.2,251.3 L560.1,251.8 L560.0,252.3 L559.9,252.8 L559.8,253.3 L559.7,253.8 L559.6,254.3 L559.5,254.8 L559.4,255.3 L559.3,255.8 L559.2,256.3 L559.1,256.8 L559.0,257.3 L558.9,257.8 L558.8,258.3 L558.7,258.8 L558.6,259.3 L558.5,259.8 L558.4,260.3 L558.3,260.8 L558.2,261.3 L558.1,261.8 L558.0,262.3 L557.9,262.8 L557.8,263.3 L557.7,263.8 L557.6,264.3 L557.5,264.8 L557.4,265.3 L557.3,265.8 L557.2,266.3 L557.1,266.8 L557.0,267.3 L556.9,267.8 L556.8,268.3 L556.7,268.8 L556.6,269.3 L556.5,269.8 L556.4,270.3 L556.3,270.8 L556.2,271.3 L556.1,271.8 L556.0,272.3 L555.9,272.8 L555.8,273.3 L555.7,273.8 L555.6,274.3 L555.5,274.8 L555.4,275.3 L555.3,275.8 L555.2,276.3 L555.1,276.8 L555.1,277.3 L555.0,277.8 L554.9,278.3 L554.8,278.8 L554.7,279.3 L554.6,279.8 L554.5,280.3 L554.4,280.8 L554.3,281.3 L554.2,281.8 L554.1,282.3 L554.0,282.8 L553.9,283.3 L553.8,283.8 L553.7,284.3 L553.6,284.8 L553.5,285.3 L553.4,285.8 L553.3,286.3 L553.2,286.8 L553.1,287.3 L553.0,287.8 L552.9,288.3 L552.8,288.8 L552.7,289.3 L552.6,289.8 L552.5,290.3 L552.4,290.8 L552.3,291.3 L552.2,291.8 L552.1,292.3 L552.0,292.8 L551.9,293.3 L551.9,293.8 L551.8,294.3 L551.7,294.8 L551.6,295.3 L551.5,295.8 L551.4,296.3 L551.3,296.8 L551.2,297.3 L551.2,297.8 L551.1,298.3 L551.0,298.8 L550.9,299.3 L550.8,299.8 L550.8,300.3 L550.7,300.8 L550.6,301.3 L550.5,301.8 L550.5,302.3 L550.4,302.8 L550.3,303.3 L550.2,303.8 L550.2,304.3 L550.1,304.8 L550.0,305.3 L550.0,305.8 L549.9,306.3 L549.8,306.8 L549.8,307.3 L549.7,307.8 L549.6,308.3 L549.6,308.8 L549.5,309.3 L549.5,309.8 L549.4,310.3 L549.3,310.8 L549.3,311.3 L549.2,311.8 L549.2,312.3 L549.1,312.8 L549.1,313.3 L549.0,313.8 L548.9,314.3 L548.9,314.8 L548.8,315.3 L548.8,315.8 L548.7,316.3 L548.7,316.8 L548.6,317.3 L548.6,317.8 L548.5,318.3 L548.4,318.8 L548.4,319.3 L548.3,319.8 L548.3,320.3 L548.2,320.8 L548.2,321.3 L548.1,321.8 L548.1,322.3 L548.0,322.8 L548.0,323.3 L547.9,323.8 L547.9,324.3 L547.8,324.8 L547.8,325.3 L547.7,325.8 L547.7,326.3 L547.7,326.8 L547.6,327.3 L547.6,327.8 L547.5,328.3 L547.5,328.8 L547.4,329.3 L547.4,329.8 L547.3,330.3 L547.3,330.8 L547.2,331.3 L547.2,331.8 L547.1,332.3 L547.1,332.8 L547.0,333.3 L547.0,333.8 L547.0,334.3 L546.9,334.8 L546.9,335.3 L546.8,335.8 L546.8,336.3 L546.7,336.8 L546.7,337.3 L546.7,337.8 L546.6,338.3 L546.6,338.8 L546.5,339.3 L546.5,339.8 L546.5,340.3 L546.5,340.8 L546.4,341.3 L546.4,341.8 L546.4,342.3 L546.4,342.8 L546.3,343.3 L546.3,343.8 L546.3,344.3 L546.3,344.8 L546.2,345.3 L546.2,345.8 L546.2,346.3 L546.2,346.8 L546.2,347.3 L546.2,347.8 L546.2,348.3 L546.2,348.8 L546.2,349.3 L546.2,349.8 L546.2,350.3 L546.2,350.8 L546.2,351.3 L546.2,351.8 L546.2,352.3 L546.2,352.8 L546.2,353.3 L546.2,353.8 L546.2,354.3 L546.2,354.8 L546.3,355.3 L546.3,355.8 L546.3,356.3 L546.3,356.8 L546.3,357.3 L546.4,357.8 L546.4,358.3 L546.4,358.8 L546.4,359.3 L546.4,359.8 L546.5,360.3 L546.5,360.8 L546.5,361.3 L546.5,361.8 L546.5,362.3 L546.6,362.8 L546.6,363.3 L546.6,363.8 L546.6,364.3 L546.6,364.8 L546.7,365.3 L546.7,365.8 L546.7,366.3 L546.7,366.8 L546.7,367.3 L546.8,367.8 L546.8,368.3 L546.8,368.8 L546.8,369.3 L546.9,369.8 L546.9,370.3 L546.9,370.8 L546.9,371.3 L547.0,371.8 L547.0,372.3 L547.0,372.8 L547.0,373.3 L547.1,373.8 L547.1,374.3 L547.1,374.8 L547.2,375.3 L547.2,375.8 L547.2,376.3 L547.3,376.8 L547.3,377.3 L547.3,377.8 L547.4,378.3 L547.4,378.8 L547.5,379.3 L547.5,379.8 L547.5,380.3 L547.6,380.8 L547.6,381.3 L547.7,381.8 L547.7,382.3 L547.8,382.8 L547.8,383.3 L547.9,383.8 L548.0,384.3 L548.0,384.8 L548.1,385.3 L548.1,385.8 L548.2,386.3 L548.3,386.8 L548.4,387.3 L548.4,387.8 L548.5,388.3 L548.6,388.8 L548.7,389.3 L548.7,389.8 L548.8,390.3 L548.9,390.8 L549.0,391.3 L549.1,391.8 L549.2,392.3 L549.3,392.8 L549.4,393.3 L549.6,393.8 L549.7,394.3 L549.8,394.8 L550.0,395.3 L550.1,395.8 L550.3,396.3 L550.4,396.8 L550.6,397.3 L550.8,397.8 L550.9,398.3 L551.1,398.8 L551.3,399.3 L551.5,399.8 L551.6,400.3 L551.8,400.8 L552.0,401.3 L552.2,401.8 L552.4,402.3 L552.6,402.8 L552.8,403.3 L553.0,403.8 L553.2,404.3 L553.4,404.8 L553.6,405.3 L553.9,405.8 L554.1,406.3 L554.3,406.8 L554.6,407.3 L554.8,407.8 L555.1,408.3 L555.3,408.8 L555.6,409.3 L555.9,409.8 L556.1,410.3 L556.4,410.8 L556.6,411.3 L556.8,411.8 L557.1,412.3 L557.3,412.8 L557.6,413.3 L557.8,413.8 L558.1,414.3 L558.3,414.8 L558.6,415.3 L558.8,415.8 L559.1,416.3 L559.3,416.8 L559.6,417.3 L559.8,417.8 L560.1,418.3 L560.3,418.8 L560.6,419.3 L560.8,419.8 L560.9,420.0 L576.9,420.0 L577.1,419.8 L577.3,419.3 L577.6,418.8 L577.8,418.3 L578.1,417.8 L578.3,417.3 L578.6,416.8 L578.8,416.3 L579.1,415.8 L579.3,415.3 L579.6,414.8 L579.8,414.3 L580.1,413.8 L580.3,413.3 L580.6,412.8 L580.8,412.3 L581.1,411.8 L581.3,411.3 L581.5,410.8 L581.8,410.3 L582.0,409.8 L582.3,409.3 L582.6,408.8 L582.8,408.3 L583.1,407.8 L583.3,407.3 L583.6,406.8 L583.8,406.3 L584.0,405.8 L584.3,405.3 L584.5,404.8 L584.7,404.3 L584.9,403.8 L585.1,403.3 L585.3,402.8 L585.5,402.3 L585.7,401.8 L585.9,401.3 L586.1,400.8 L586.3,400.3 L586.4,399.8 L586.6,399.3 L586.8,398.8 L587.0,398.3 L587.1,397.8 L587.3,397.3 L587.5,396.8 L587.6,396.3 L587.8,395.8 L587.9,395.3 L588.1,394.8 L588.2,394.3 L588.3,393.8 L588.5,393.3 L588.6,392.8 L588.7,392.3 L588.8,391.8 L588.9,391.3 L589.0,390.8 L589.1,390.3 L589.2,389.8 L589.2,389.3 L589.3,388.8 L589.4,388.3 L589.5,387.8 L589.5,387.3 L589.6,386.8 L589.7,386.3 L589.8,385.8 L589.8,385.3 L589.9,384.8 L589.9,384.3 L590.0,383.8 L590.1,383.3 L590.1,382.8 L590.2,382.3 L590.2,381.8 L590.3,381.3 L590.3,380.8 L590.4,380.3 L590.4,379.8 L590.4,379.3 L590.5,378.8 L590.5,378.3 L590.6,377.8 L590.6,377.3 L590.6,376.8 L590.7,376.3 L590.7,375.8 L590.7,375.3 L590.8,374.8 L590.8,374.3 L590.8,373.8 L590.9,373.3 L590.9,372.8 L590.9,372.3 L590.9,371.8 L591.0,371.3 L591.0,370.8 L591.0,370.3 L591.0,369.8 L591.1,369.3 L591.1,368.8 L591.1,368.3 L591.1,367.8 L591.2,367.3 L591.2,366.8 L591.2,366.3 L591.2,365.8 L591.2,365.3 L591.3,364.8 L591.3,364.3 L591.3,363.8 L591.3,363.3 L591.3,362.8 L591.4,362.3 L591.4,361.8 L591.4,361.3 L591.4,360.8 L591.4,360.3 L591.5,359.8 L591.5,359.3 L591.5,358.8 L591.5,358.3 L591.5,357.8 L591.6,357.3 L591.6,356.8 L591.6,356.3 L591.6,355.8 L591.6,355.3 L591.7,354.8 L591.7,354.3 L591.7,353.8 L591.7,353.3 L591.7,352.8 L591.7,352.3 L591.7,351.8 L591.7,351.3 L591.7,350.8 L591.7,350.3 L591.7,349.8 L591.7,349.3 L591.7,348.8 L591.7,348.3 L591.7,347.8 L591.7,347.3 L591.7,346.8 L591.7,346.3 L591.7,345.8 L591.7,345.3 L591.6,344.8 L591.6,344.3 L591.6,343.8 L591.6,343.3 L591.5,342.8 L591.5,342.3 L591.5,341.8 L591.5,341.3 L591.4,340.8 L591.4,340.3 L591.4,339.8 L591.4,339.3 L591.3,338.8 L591.3,338.3 L591.2,337.8 L591.2,337.3 L591.2,336.8 L591.1,336.3 L591.1,335.8 L591.0,335.3 L591.0,334.8 L590.9,334.3 L590.9,333.8 L590.9,333.3 L590.8,332.8 L590.8,332.3 L590.7,331.8 L590.7,331.3 L590.6,330.8 L590.6,330.3 L590.5,329.8 L590.5,329.3 L590.4,328.8 L590.4,328.3 L590.3,327.8 L590.3,327.3 L590.2,326.8 L590.2,326.3 L590.2,325.8 L590.1,325.3 L590.1,324.8 L590.0,324.3 L590.0,323.8 L589.9,323.3 L589.9,322.8 L589.8,322.3 L589.8,321.8 L589.7,321.3 L589.7,320.8 L589.6,320.3 L589.6,319.8 L589.5,319.3 L589.5,318.8 L589.4,318.3 L589.3,317.8 L589.3,317.3 L589.2,316.8 L589.2,316.3 L589.1,315.8 L589.1,315.3 L589.0,314.8 L589.0,314.3 L588.9,313.8 L588.8,313.3 L588.8,312.8 L588.7,312.3 L588.7,311.8 L588.6,311.3 L588.6,310.8 L588.5,310.3 L588.4,309.8 L588.4,309.3 L588.3,308.8 L588.3,308.3 L588.2,307.8 L588.1,307.3 L588.1,306.8 L588.0,306.3 L587.9,305.8 L587.9,305.3 L587.8,304.8 L587.7,304.3 L587.7,303.8 L587.6,303.3 L587.5,302.8 L587.4,302.3 L587.4,301.8 L587.3,301.3 L587.2,300.8 L587.1,300.3 L587.1,299.8 L587.0,299.3 L586.9,298.8 L586.8,298.3 L586.7,297.8 L586.7,297.3 L586.6,296.8 L586.5,296.3 L586.4,295.8 L586.3,295.3 L586.2,294.8 L586.1,294.3 L586.0,293.8 L586.0,293.3 L585.9,292.8 L585.8,292.3 L585.7,291.8 L585.6,291.3 L585.5,290.8 L585.4,290.3 L585.3,289.8 L585.2,289.3 L585.1,288.8 L585.0,288.3 L584.9,287.8 L584.8,287.3 L584.7,286.8 L584.6,286.3 L584.5,285.8 L584.4,285.3 L584.3,284.8 L584.2,284.3 L584.1,283.8 L584.0,283.3 L583.9,282.8 L583.8,282.3 L583.7,281.8 L583.6,281.3 L583.5,280.8 L583.4,280.3 L583.3,279.8 L583.2,279.3 L583.1,278.8 L583.0,278.3 L582.9,277.8 L582.8,277.3 L582.8,276.8 L582.7,276.3 L582.6,275.8 L582.5,275.3 L582.4,274.8 L582.3,274.3 L582.2,273.8 L582.1,273.3 L582.0,272.8 L581.9,272.3 L581.8,271.8 L581.7,271.3 L581.6,270.8 L581.5,270.3 L581.4,269.8 L581.3,269.3 L581.2,268.8 L581.1,268.3 L581.0,267.8 L580.9,267.3 L580.8,266.8 L580.7,266.3 L580.6,265.8 L580.5,265.3 L580.4,264.8 L580.3,264.3 L580.2,263.8 L580.1,263.3 L580.0,262.8 L579.9,262.3 L579.8,261.8 L579.7,261.3 L579.6,260.8 L579.5,260.3 L579.4,259.8 L579.3,259.3 L579.2,258.8 L579.1,258.3 L579.0,257.8 L578.9,257.3 L578.8,256.8 L578.7,256.3 L578.6,255.8 L578.5,255.3 L578.4,254.8 L578.3,254.3 L578.2,253.8 L578.1,253.3 L578.0,252.8 L577.9,252.3 L577.8,251.8 L577.7,251.3 L577.6,250.8 L577.5,250.3 L577.4,249.8 L577.3,249.3 L577.2,248.8 L577.1,248.3 L577.0,247.8 L576.9,247.3 L576.8,246.8 L576.7,246.3 L576.6,245.8 L576.5,245.3 L576.4,244.8 L576.3,244.3 L576.2,243.8 L576.1,243.3 L576.0,242.8 L575.9,242.3 L575.8,241.8 L575.7,241.3 L575.6,240.8 L575.5,240.3 L575.4,239.8 L575.3,239.3 L575.2,238.8 L575.1,238.3 L575.0,237.8 L574.9,237.3 L574.8,236.8 L574.7,236.3 L574.6,235.8 L574.5,235.3 L574.4,234.8 L574.3,234.3 L574.2,233.8 L574.2,233.3 L574.1,232.8 L574.0,232.3 L573.9,231.8 L573.8,231.3 L573.8,230.8 L573.7,230.3 L573.6,229.8 L573.6,229.3 L573.5,228.8 L573.5,228.3 L573.4,227.8 L573.3,227.3 L573.3,226.8 L573.2,226.3 L573.2,225.8 L573.1,225.3 L573.1,224.8 L573.0,224.3 L573.0,223.8 L572.9,223.3 L572.9,222.8 L572.8,222.3 L572.7,221.8 L572.7,221.3 L572.6,220.8 L572.6,220.3 L572.5,219.8 L572.4,219.3 L572.4,218.8 L572.3,218.3 L572.3,217.8 L572.2,217.3 L572.1,216.8 L572.1,216.3 L572.0,215.8 L571.9,215.3 L571.9,214.8 L571.8,214.3 L571.8,213.8 L571.7,213.3 L571.6,212.8 L571.6,212.3 L571.5,211.8 L571.5,211.3 L571.4,210.8 L571.4,210.3 L571.3,209.8 L571.3,209.3 L571.2,208.8 L571.2,208.3 L571.1,207.8 L571.1,207.3 L571.0,206.8 L571.0,206.3 L571.0,205.8 L570.9,205.3 L570.9,204.8 L570.9,204.3 L570.8,203.8 L570.8,203.3 L570.8,202.8 L570.7,202.3 L570.7,201.8 L570.7,201.3 L570.6,200.8 L570.6,200.3 L570.6,199.8 L570.5,199.3 L570.5,198.8 L570.5,198.3 L570.5,197.8 L570.4,197.3 L570.4,196.8 L570.4,196.3 L570.3,195.8 L570.3,195.3 L570.3,194.8 L570.2,194.3 L570.2,193.8 L570.2,193.3 L570.1,192.8 L570.1,192.3 L570.1,191.8 L570.0,191.3 L570.0,190.8 L570.0,190.3 L569.9,189.8 L569.9,189.3 L569.9,188.8 L569.9,188.3 L569.8,187.8 L569.8,187.3 L569.8,186.8 L569.7,186.3 L569.7,185.8 L569.7,185.3 L569.6,184.8 L569.6,184.3 L569.6,183.8 L569.5,183.3 L569.5,182.8 L569.5,182.3 L569.4,181.8 Z" fill="#ff7f0e" fill-opacity="0.3"/>
<path d="M628.8,239.9 L628.7,240.4 L628.7,240.9 L628.6,241.4 L628.5,241.9 L628.4,242.4 L628.4,242.9 L628.3,243.4 L628.2,243.9 L628.2,244.4 L628.1,244.9 L628.0,245.4 L628.0,245.9 L627.9,246.4 L627.8,246.9 L627.8,247.4 L627.7,247.9 L627.7,248.4 L627.6,248.9 L627.5,249.4 L627.5,249.9 L627.4,250.4 L627.4,250.9 L627.3,251.4 L627.3,251.9 L627.2,252.4 L627.1,252.9 L627.1,253.4 L627.0,253.9 L627.0,254.4 L626.9,254.9 L626.9,255.4 L626.8,255.9 L626.8,256.4 L626.7,256.9 L626.7,257.4 L626.6,257.9 L626.6,258.4 L626.5,258.9 L626.5,259.4 L626.4,259.9 L626.3,260.4 L626.3,260.9 L626.2,261.4 L626.2,261.9 L626.1,262.4 L626.1,262.9 L626.0,263.4 L625.9,263.9 L625.9,264.4 L625.8,264.9 L625.8,265.4 L625.7,265.9 L625.7,266.4 L625.6,266.9 L625.5,267.4 L625.5,267.9 L625.4,268.4 L625.4,268.9 L625.3,269.4 L625.2,269.9 L625.2,270.4 L625.1,270.9 L625.1,271.4 L625.0,271.9 L624.9,272.4 L624.9,272.9 L624.8,273.4 L624.8,273.9 L624.7,274.4 L624.7,274.9 L624.6,275.4 L624.6,275.9 L624.5,276.4 L624.5,276.9 L624.4,277.4 L624.4,277.9 L624.3,278.4 L624.3,278.9 L624.2,279.4 L624.2,279.9 L624.1,280.4 L624.1,280.9 L624.0,281.4 L624.0,281.9 L623.9,282.4 L623.9,282.9 L623.8,283.4 L623.8,283.9 L623.7,284.4 L623.7,284.9 L623.6,285.4 L623.6,285.9 L623.5,286.4 L623.5,286.9 L623.4,287.4 L623.3,287.9 L623.3,288.4 L623.2,288.9 L623.1,289.4 L623.1,289.9 L623.0,290.4 L622.9,290.9 L622.8,291.4 L622.7,291.9 L622.7,292.4 L622.6,292.9 L622.5,293.4 L622.4,293.9 L622.3,294.4 L622.3,294.9 L622.2,295.4 L622.1,295.9 L622.0,296.4 L622.0,296.9 L621.9,297.4 L621.8,297.9 L621.7,298.4 L621.7,298.9 L621.6,299.4 L621.5,299.9 L621.5,300.4 L621.4,300.9 L621.3,301.4 L621.2,301.9 L621.2,302.4 L621.1,302.9 L621.0,303.4 L620.9,303.9 L620.9,304.4 L620.8,304.9 L620.7,305.4 L620.7,305.9 L620.6,306.4 L620.5,306.9 L620.4,307.4 L620.4,307.9 L620.3,308.4 L620.2,308.9 L620.1,309.4 L620.0,309.9 L620.0,310.4 L619.9,310.9 L619.8,311.4 L619.7,311.9 L619.6,312.4 L619.6,312.9 L619.5,313.4 L619.4,313.9 L619.3,314.4 L619.2,314.9 L619.1,315.4 L619.1,315.9 L619.0,316.4 L618.9,316.9 L618.8,317.4 L618.7,317.9 L618.6,318.4 L618.6,318.9 L618.5,319.4 L618.4,319.9 L618.3,320.4 L618.2,320.9 L618.1,321.4 L618.1,321.9 L618.0,322.4 L617.9,322.9 L617.8,323.4 L617.7,323.9 L617.7,324.4 L617.6,324.9 L617.5,325.4 L617.4,325.9 L617.3,326.4 L617.2,326.9 L617.2,327.4 L617.1,327.9 L617.0,328.4 L616.9,328.9 L616.8,329.4 L616.8,329.9 L616.7,330.4 L616.6,330.9 L616.5,331.4 L616.4,331.9 L616.4,332.4 L616.3,332.9 L616.2,333.4 L616.1,333.9 L616.0,334.4 L616.0,334.9 L615.9,335.4 L615.8,335.9 L615.7,336.4 L615.6,336.9 L615.6,337.4 L615.5,337.9 L615.4,338.4 L615.3,338.9 L615.3,339.4 L615.2,339.9 L615.1,340.4 L615.0,340.9 L615.0,341.4 L614.9,341.9 L614.8,342.4 L614.7,342.9 L614.6,343.4 L614.6,343.9 L614.5,344.4 L614.4,344.9 L614.3,345.4 L614.3,345.9 L614.2,346.4 L614.1,346.9 L614.0,347.4 L613.9,347.9 L613.8,348.4 L613.7,348.9 L613.6,349.4 L613.5,349.9 L613.4,350.4 L613.3,350.9 L613.2,351.4 L613.1,351.9 L613.0,352.4 L612.9,352.9 L612.8,353.4 L612.8,353.9 L612.7,354.4 L612.6,354.9 L612.5,355.4 L612.4,355.9 L612.3,356.4 L612.3,356.9 L612.2,357.4 L612.1,357.9 L612.0,358.4 L612.0,358.9 L611.9,359.4 L611.8,359.9 L611.8,360.4 L611.7,360.9 L611.6,361.4 L611.6,361.9 L611.5,362.4 L611.5,362.9 L611.4,363.4 L611.4,363.9 L611.4,364.4 L611.3,364.9 L611.3,365.4 L611.3,365.9 L611.2,366.4 L611.2,366.9 L611.2,367.4 L611.1,367.9 L611.1,368.4 L611.1,368.9 L611.1,369.4 L611.0,369.9 L611.0,370.4 L611.0,370.9 L611.0,371.4 L611.0,371.9 L611.0,372.4 L611.0,372.9 L611.0,373.4 L611.0,373.9 L611.0,374.4 L611.0,374.9 L611.0,375.4 L611.1,375.9 L611.1,376.4 L611.1,376.9 L611.1,377.4 L611.1,377.9 L611.1,378.4 L611.2,378.9 L611.2,379.4 L611.2,379.9 L611.2,380.4 L611.2,380.9 L611.3,381.4 L611.3,381.9 L611.4,382.4 L611.4,382.9 L611.5,383.4 L611.5,383.9 L611.6,384.4 L611.7,384.9 L611.7,385.4 L611.8,385.9 L611.9,386.4 L611.9,386.9 L612.0,387.4 L612.1,387.9 L612.2,388.4 L612.2,388.9 L612.3,389.4 L612.4,389.9 L612.5,390.4 L612.6,390.9 L612.7,391.4 L612.8,391.9 L612.9,392.4 L613.0,392.9 L613.1,393.4 L613.2,393.9 L613.3,394.4 L613.5,394.9 L613.6,395.4 L613.7,395.9 L613.8,396.4 L613.9,396.9 L614.0,397.4 L614.1,397.9 L614.3,398.4 L614.4,398.9 L614.5,399.4 L614.6,399.9 L614.8,400.4 L614.9,400.9 L615.0,401.4 L615.2,401.9 L615.3,402.4 L615.4,402.9 L615.5,403.4 L615.7,403.9 L615.8,404.4 L615.9,404.9 L616.1,405.4 L616.2,405.9 L616.3,406.4 L616.4,406.9 L616.6,407.4 L616.7,407.9 L616.8,408.4 L617.0,408.9 L617.1,409.4 L617.3,409.9 L617.4,410.4 L617.6,410.9 L617.7,411.4 L617.9,411.9 L618.1,412.4 L618.2,412.9 L618.4,413.4 L618.6,413.9 L618.8,414.4 L619.0,414.9 L619.1,415.4 L619.3,415.9 L619.5,416.4 L619.7,416.9 L619.9,417.4 L620.1,417.9 L620.3,418.4 L620.5,418.9 L620.7,419.4 L621.0,419.9 L621.0,420.0 L645.0,420.0 L645.0,419.9 L645.3,419.4 L645.5,418.9 L645.7,418.4 L645.9,417.9 L646.1,417.4 L646.3,416.9 L646.5,416.4 L646.7,415.9 L646.9,415.4 L647.0,414.9 L647.2,414.4 L647.4,413.9 L647.6,413.4 L647.8,412.9 L647.9,412.4 L648.1,411.9 L648.3,411.4 L648.4,410.9 L648.6,410.4 L648.7,409.9 L648.9,409.4 L649.0,408.9 L649.2,408.4 L649.3,407.9 L649.4,407.4 L649.6,406.9 L649.7,406.4 L649.8,405.9 L649.9,405.4 L650.1,404.9 L650.2,404.4 L650.3,403.9 L650.5,403.4 L650.6,402.9 L650.7,402.4 L650.8,401.9 L651.0,401.4 L651.1,400.9 L651.2,400.4 L651.4,399.9 L651.5,399.4 L651.6,398.9 L651.7,398.4 L651.9,397.9 L652.0,397.4 L652.1,396.9 L652.2,396.4 L652.3,395.9 L652.4,395.4 L652.5,394.9 L652.7,394.4 L652.8,393.9 L652.9,393.4 L653.0,392.9 L653.1,392.4 L653.2,391.9 L653.3,391.4 L653.4,390.9 L653.5,390.4 L653.6,389.9 L653.7,389.4 L653.8,388.9 L653.8,388.4 L653.9,387.9 L654.0,387.4 L654.1,386.9 L654.1,386.4 L654.2,385.9 L654.3,385.4 L654.3,384.9 L654.4,384.4 L654.5,383.9 L654.5,383.4 L654.6,382.9 L654.6,382.4 L654.7,381.9 L654.7,381.4 L654.8,380.9 L654.8,380.4 L654.8,379.9 L654.8,379.4 L654.8,378.9 L654.9,378.4 L654.9,377.9 L654.9,377.4 L654.9,376.9 L654.9,376.4 L654.9,375.9 L655.0,375.4 L655.0,374.9 L655.0,374.4 L655.0,373.9 L655.0,373.4 L655.0,372.9 L655.0,372.4 L655.0,371.9 L655.0,371.4 L655.0,370.9 L655.0,370.4 L655.0,369.9 L654.9,369.4 L654.9,368.9 L654.9,368.4 L654.9,367.9 L654.8,367.4 L654.8,366.9 L654.8,366.4 L654.7,365.9 L654.7,365.4 L654.7,364.9 L654.6,364.4 L654.6,363.9 L654.6,363.4 L654.5,362.9 L654.5,362.4 L654.4,361.9 L654.4,361.4 L654.3,360.9 L654.2,360.4 L654.2,359.9 L654.1,359.4 L654.0,358.9 L654.0,358.4 L653.9,357.9 L653.8,357.4 L653.7,356.9 L653.7,356.4 L653.6,355.9 L653.5,355.4 L653.4,354.9 L653.3,354.4 L653.2,353.9 L653.2,353.4 L653.1,352.9 L653.0,352.4 L652.9,351.9 L652.8,351.4 L652.7,350.9 L652.6,350.4 L652.5,349.9 L652.4,349.4 L652.3,348.9 L652.2,348.4 L652.1,347.9 L652.0,347.4 L651.9,346.9 L651.8,346.4 L651.7,345.9 L651.7,345.4 L651.6,344.9 L651.5,344.4 L651.4,343.9 L651.4,343.4 L651.3,342.9 L651.2,342.4 L651.1,341.9 L651.0,341.4 L651.0,340.9 L650.9,340.4 L650.8,339.9 L650.7,339.4 L650.7,338.9 L650.6,338.4 L650.5,337.9 L650.4,337.4 L650.4,336.9 L650.3,336.4 L650.2,335.9 L650.1,335.4 L650.0,334.9 L650.0,334.4 L649.9,333.9 L649.8,333.4 L649.7,332.9 L649.6,332.4 L649.6,331.9 L649.5,331.4 L649.4,330.9 L649.3,330.4 L649.2,329.9 L649.2,329.4 L649.1,328.9 L649.0,328.4 L648.9,327.9 L648.8,327.4 L648.8,326.9 L648.7,326.4 L648.6,325.9 L648.5,325.4 L648.4,324.9 L648.3,324.4 L648.3,323.9 L648.2,323.4 L648.1,322.9 L648.0,322.4 L647.9,321.9 L647.9,321.4 L647.8,320.9 L647.7,320.4 L647.6,319.9 L647.5,319.4 L647.4,318.9 L647.4,318.4 L647.3,317.9 L647.2,317.4 L647.1,316.9 L647.0,316.4 L646.9,315.9 L646.9,315.4 L646.8,314.9 L646.7,314.4 L646.6,313.9 L646.5,313.4 L646.4,312.9 L646.4,312.4 L646.3,311.9 L646.2,311.4 L646.1,310.9 L646.0,310.4 L646.0,309.9 L645.9,309.4 L645.8,308.9 L645.7,308.4 L645.6,307.9 L645.6,307.4 L645.5,306.9 L645.4,306.4 L645.3,305.9 L645.3,305.4 L645.2,304.9 L645.1,304.4 L645.1,303.9 L645.0,303.4 L644.9,302.9 L644.8,302.4 L644.8,301.9 L644.7,301.4 L644.6,300.9 L644.5,300.4 L644.5,299.9 L644.4,299.4 L644.3,298.9 L644.3,298.4 L644.2,297.9 L644.1,297.4 L644.0,296.9 L644.0,296.4 L643.9,295.9 L643.8,295.4 L643.7,294.9 L643.7,294.4 L643.6,293.9 L643.5,293.4 L643.4,292.9 L643.3,292.4 L643.3,291.9 L643.2,291.4 L643.1,290.9 L643.0,290.4 L642.9,289.9 L642.9,289.4 L642.8,288.9 L642.7,288.4 L642.7,287.9 L642.6,287.4 L642.5,286.9 L642.5,286.4 L642.4,285.9 L642.4,285.4 L642.3,284.9 L642.3,284.4 L642.2,283.9 L642.2,283.4 L642.1,282.9 L642.1,282.4 L642.0,281.9 L642.0,281.4 L641.9,280.9 L641.9,280.4 L641.8,279.9 L641.8,279.4 L641.7,278.9 L641.7,278.4 L641.6,277.9 L641.6,277.4 L641.5,276.9 L641.5,276.4 L641.4,275.9 L641.4,275.4 L641.3,274.9 L641.3,274.4 L641.2,273.9 L641.2,273.4 L641.1,272.9 L641.1,272.4 L641.0,271.9 L640.9,271.4 L640.9,270.9 L640.8,270.4 L640.8,269.9 L640.7,269.4 L640.6,268.9 L640.6,268.4 L640.5,267.9 L640.5,267.4 L640.4,266.9 L640.3,266.4 L640.3,265.9 L640.2,265.4 L640.2,264.9 L640.1,264.4 L640.1,263.9 L640.0,263.4 L639.9,262.9 L639.9,262.4 L639.8,261.9 L639.8,261.4 L639.7,260.9 L639.7,260.4 L639.6,259.9 L639.5,259.4 L639.5,258.9 L639.4,258.4 L639.4,257.9 L639.3,257.4 L639.3,256.9 L639.2,256.4 L639.2,255.9 L639.1,255.4 L639.1,254.9 L639.0,254.4 L639.0,253.9 L638.9,253.4 L638.9,252.9 L638.8,252.4 L638.7,251.9 L638.7,251.4 L638.6,250.9 L638.6,250.4 L638.5,249.9 L638.5,249.4 L638.4,248.9 L638.3,248.4 L638.3,247.9 L638.2,247.4 L638.2,246.9 L638.1,246.4 L638.0,245.9 L638.0,245.4 L637.9,244.9 L637.8,244.4 L637.8,243.9 L637.7,243.4 L637.6,242.9 L637.6,242.4 L637.5,241.9 L637.4,241.4 L637.3,240.9 L637.3,240.4 L637.2,239.9 Z" fill="#ff7f0e" fill-opacity="0.3"/>
<polyline points="120.60,156.70 184.65,168.50 248.70,163.30 312.75,189.90 376.80,195.90 440.85,219.90 504.90,255.20 568.95,289.00 633.00,400.50" fill="none" stroke="#000" stroke-width="2" stroke-dasharray="7.44 3.215"/>
<circle cx="120.60" cy="156.70" r="6" fill="#000" stroke="#000" stroke-width="2"/>
<circle cx="184.65" cy="168.50" r="6" fill="#000" stroke="#000" stroke-width="2"/>
<circle cx="248.70" cy="163.30" r="6" fill="#000" stroke="#000" stroke-width="2"/>
<circle cx="312.75" cy="189.90" r="6" fill="#000" stroke="#000" stroke-width="2"/>
<circle cx="376.80" cy="195.90" r="6" fill="#000" stroke="#000" stroke-width="2"/>
<circle cx="440.85" cy="219.90" r="6" fill="#000" stroke="#000" stroke-width="2"/>
<circle cx="504.90" cy="255.20" r="6" fill="#000" stroke="#000" stroke-width="2"/>
<circle cx="568.95" cy="289.00" r="6" fill="#000" stroke="#000" stroke-width="2"/>
<circle cx="633.00" cy="400.50" r="6" fill="#000" stroke="#000" stroke-width="2"/>
<polygon points="120.60,169.40 118.18,176.86 110.33,176.86 116.68,181.47 114.25,188.94 120.60,184.33 126.95,188.94 124.52,181.47 130.87,176.86 123.02,176.86" fill="#1f77b4" stroke="#000" stroke-width="2" stroke-linejoin="bevel"/>
<polygon points="184.65,199.00 182.23,206.46 174.38,206.46 180.73,211.07 178.30,218.54 184.65,213.93 191.00,218.54 188.57,211.07 194.92,206.46 187.07,206.46" fill="#1f77b4" stroke="#000" stroke-width="2" stroke-linejoin="bevel"/>
<polygon points="248.70,126.20 246.28,133.66 238.43,133.66 244.78,138.27 242.35,145.74 248.70,141.13 255.05,145.74 252.62,138.27 258.97,133.66 251.12,133.66" fill="#1f77b4" stroke="#000" stroke-width="2" stroke-linejoin="bevel"/>
<polygon points="312.75,237.50 310.33,244.96 302.48,244.96 308.83,249.57 306.40,257.04 312.75,252.43 319.10,257.04 316.67,249.57 323.02,244.96 315.17,244.96" fill="#1f77b4" stroke="#000" stroke-width="2" stroke-linejoin="bevel"/>
<polygon points="376.80,272.30 374.38,279.76 366.53,279.76 372.88,284.37 370.45,291.84 376.80,287.23 383.15,291.84 380.72,284.37 387.07,279.76 379.22,279.76" fill="#1f77b4" stroke="#000" stroke-width="2" stroke-linejoin="bevel"/>
<polygon points="440.85,159.10 438.43,166.56 430.58,166.56 436.93,171.17 434.50,178.64 440.85,174.03 447.20,178.64 444.77,171.17 451.12,166.56 443.27,166.56" fill="#1f77b4" stroke="#000" stroke-width="2" stroke-linejoin="bevel"/>
<polygon points="504.90,300.00 502.48,307.46 494.63,307.46 500.98,312.07 498.55,319.54 504.90,314.93 511.25,319.54 508.82,312.07 515.17,307.46 507.32,307.46" fill="#1f77b4" stroke="#000" stroke-width="2" stroke-linejoin="bevel"/>
<polygon points="568.95,289.20 566.53,296.66 558.68,296.66 565.03,301.27 562.60,308.74 568.95,304.13 575.30,308.74 572.87,301.27 579.22,296.66 571.37,296.66" fill="#1f77b4" stroke="#000" stroke-width="2" stroke-linejoin="bevel"/>
<polygon points="633.00,301.50 630.58,308.96 622.73,308.96 629.08,313.57 626.65,321.04 633.00,316.43 639.35,321.04 636.92,313.57 643.27,308.96 635.42,308.96" fill="#1f77b4" stroke="#000" stroke-width="2" stroke-linejoin="bevel"/>
<polygon points="120.60,131.50 118.18,138.96 110.33,138.96 116.68,143.57 114.25,151.04 120.60,146.43 126.95,151.04 124.52,143.57 130.87,138.96 123.02,138.96" fill="#ff7f0e" stroke="#000" stroke-width="2" stroke-linejoin="bevel"/>
<polygon points="184.65,137.00 182.23,144.46 174.38,144.46 180.73,149.07 178.30,156.54 184.65,151.93 191.00,156.54 188.57,149.07 194.92,144.46 187.07,144.46" fill="#ff7f0e" stroke="#000" stroke-width="2" stroke-linejoin="bevel"/>
<polygon points="248.70,120.20 246.28,127.66 238.43,127.66 244.78,132.27 242.35,139.74 248.70,135.13 255.05,139.74 252.62,132.27 258.97,127.66 251.12,127.66" fill="#ff7f0e" stroke="#000" stroke-width="2" stroke-linejoin="bevel"/>
<polygon points="312.75,207.80 310.33,215.26 302.48,215.26 308.83,219.87 306.40,227.34 312.75,222.73 319.10,227.34 316.67,219.87 323.02,215.26 315.17,215.26" fill="#ff7f0e" stroke="#000" stroke-width="2" stroke-linejoin="bevel"/>
<polygon points="376.80,180.40 374.38,187.86 366.53,187.86 372.88,192.47 370.45,199.94 376.80,195.33 383.15,199.94 380.72,192.47 387.07,187.86 379.22,187.86" fill="#ff7f0e" stroke="#000" stroke-width="2" stroke-linejoin="bevel"/>
<polygon points="440.85,157.60 438.43,165.06 430.58,165.06 436.93,169.67 434.50,177.14 440.85,172.53 447.20,177.14 444.77,169.67 451.12,165.06 443.27,165.06" fill="#ff7f0e" stroke="#000" stroke-width="2" stroke-linejoin="bevel"/>
<polygon points="504.90,309.30 502.48,316.76 494.63,316.76 500.98,321.37 498.55,328.84 504.90,324.23 511.25,328.84 508.82,321.37 515.17,316.76 507.32,316.76" fill="#ff7f0e" stroke="#000" stroke-width="2" stroke-linejoin="bevel"/>
<polygon points="568.95,278.80 566.53,286.26 558.68,286.26 565.03,290.87 562.60,298.34 568.95,293.73 575.30,298.34 572.87,290.87 579.22,286.26 571.37,286.26" fill="#ff7f0e" stroke="#000" stroke-width="2" stroke-linejoin="bevel"/>
<polygon points="633.00,321.70 630.58,329.16 622.73,329.16 629.08,333.77 626.65,341.24 633.00,336.63 639.35,341.24 636.92,333.77 643.27,329.16 635.42,329.16" fill="#ff7f0e" stroke="#000" stroke-width="2" stroke-linejoin="bevel"/>
</g>
<rect x="70.2" y="77.35" width="612.4" height="333.45000000000005" fill="none" stroke="#000" stroke-width="1.6"/>
<line x1="63.20" y1="410.76" x2="70.2" y2="410.76" stroke="#000" stroke-width="1.6"/>
<text transform="translate(56.00,417.96) scale(1,1.04)" font-family="Liberation Sans" font-size="20" text-anchor="end">0.0</text>
<line x1="63.20" y1="355.19" x2="70.2" y2="355.19" stroke="#000" stroke-width="1.6"/>
<text transform="translate(56.00,362.39) scale(1,1.04)" font-family="Liberation Sans" font-size="20" text-anchor="end">0.2</text>
<line x1="63.20" y1="299.63" x2="70.2" y2="299.63" stroke="#000" stroke-width="1.6"/>
<text transform="translate(56.00,306.83) scale(1,1.04)" font-family="Liberation Sans" font-size="20" text-anchor="end">0.4</text>
<line x1="63.20" y1="244.06" x2="70.2" y2="244.06" stroke="#000" stroke-width="1.6"/>
<text transform="translate(56.00,251.26) scale(1,1.04)" font-family="Liberation Sans" font-size="20" text-anchor="end">0.6</text>
<line x1="63.20" y1="188.50" x2="70.2" y2="188.50" stroke="#000" stroke-width="1.6"/>
<text transform="translate(56.00,195.70) scale(1,1.04)" font-family="Liberation Sans" font-size="20" text-anchor="end">0.8</text>
<line x1="63.20" y1="132.93" x2="70.2" y2="132.93" stroke="#000" stroke-width="1.6"/>
<text transform="translate(56.00,140.13) scale(1,1.04)" font-family="Liberation Sans" font-size="20" text-anchor="end">1.0</text>
<line x1="63.20" y1="77.36" x2="70.2" y2="77.36" stroke="#000" stroke-width="1.6"/>
<text transform="translate(56.00,84.56) scale(1,1.04)" font-family="Liberation Sans" font-size="20" text-anchor="end">1.2</text>
<line x1="120.60" y1="410.8" x2="120.60" y2="417.80" stroke="#000" stroke-width="1.6"/>
<text transform="translate(120.60,439.80) scale(1,1.04)" font-family="Liberation Sans" font-size="20" text-anchor="middle">8</text>
<line x1="184.65" y1="410.8" x2="184.65" y2="417.80" stroke="#000" stroke-width="1.6"/>
<text transform="translate(184.65,439.80) scale(1,1.04)" font-family="Liberation Sans" font-size="20" text-anchor="middle">15</text>
<line x1="248.70" y1="410.8" x2="248.70" y2="417.80" stroke="#000" stroke-width="1.6"/>
<text transform="translate(248.70,439.80) scale(1,1.04)" font-family="Liberation Sans" font-size="20" text-anchor="middle">9</text>
<line x1="312.75" y1="410.8" x2="312.75" y2="417.80" stroke="#000" stroke-width="1.6"/>
<text transform="translate(312.75,439.80) scale(1,1.04)" font-family="Liberation Sans" font-size="20" text-anchor="middle">14</text>
<line x1="376.80" y1="410.8" x2="376.80" y2="417.80" stroke="#000" stroke-width="1.6"/>
<text transform="translate(376.80,439.80) scale(1,1.04)" font-family="Liberation Sans" font-size="20" text-anchor="middle">13</text>
<line x1="440.85" y1="410.8" x2="440.85" y2="417.80" stroke="#000" stroke-width="1.6"/>
<text transform="translate(440.85,439.80) scale(1,1.04)" font-family="Liberation Sans" font-size="20" text-anchor="middle">10</text>
<line x1="504.90" y1="410.8" x2="504.90" y2="417.80" stroke="#000" stroke-width="1.6"/>
<text transform="translate(504.90,439.80) scale(1,1.04)" font-family="Liberation Sans" font-size="20" text-anchor="middle">12</text>
<line x1="568.95" y1="410.8" x2="568.95" y2="417.80" stroke="#000" stroke-width="1.6"/>
<text transform="translate(568.95,439.80) scale(1,1.04)" font-family="Liberation Sans" font-size="20" text-anchor="middle">11</text>
<line x1="633.00" y1="410.8" x2="633.00" y2="417.80" stroke="#000" stroke-width="1.6"/>
<text transform="translate(633.00,439.80) scale(1,1.04)" font-family="Liberation Sans" font-size="20" text-anchor="middle">16</text>
<line x1="116.00" y1="77.35" x2="116.00" y2="70.35" stroke="#000" stroke-width="1.6"/>
<text transform="translate(116.00,38.00) scale(1,1.04)" font-family="Liberation Sans" font-size="20" text-anchor="middle">64.7</text>
<text transform="translate(116.00,59.20) scale(1,1.04)" font-family="Liberation Sans" font-size="20" text-anchor="middle">64.7</text>
<line x1="181.20" y1="77.35" x2="181.20" y2="70.35" stroke="#000" stroke-width="1.6"/>
<text transform="translate(181.20,38.00) scale(1,1.04)" font-family="Liberation Sans" font-size="20" text-anchor="middle">64.9</text>
<text transform="translate(181.20,59.20) scale(1,1.04)" font-family="Liberation Sans" font-size="20" text-anchor="middle">64.9</text>
<line x1="246.40" y1="77.35" x2="246.40" y2="70.35" stroke="#000" stroke-width="1.6"/>
<text transform="translate(246.40,38.00) scale(1,1.04)" font-family="Liberation Sans" font-size="20" text-anchor="middle">65.0</text>
<text transform="translate(246.40,59.20) scale(1,1.04)" font-family="Liberation Sans" font-size="20" text-anchor="middle">65.1</text>
<line x1="311.60" y1="77.35" x2="311.60" y2="70.35" stroke="#000" stroke-width="1.6"/>
<text transform="translate(311.60,38.00) scale(1,1.04)" font-family="Liberation Sans" font-size="20" text-anchor="middle">66.1</text>
<text transform="translate(311.60,59.20) scale(1,1.04)" font-family="Liberation Sans" font-size="20" text-anchor="middle">66.2</text>
<line x1="376.80" y1="77.35" x2="376.80" y2="70.35" stroke="#000" stroke-width="1.6"/>
<text transform="translate(376.80,38.00) scale(1,1.04)" font-family="Liberation Sans" font-size="20" text-anchor="middle">66.3</text>
<text transform="translate(376.80,59.20) scale(1,1.04)" font-family="Liberation Sans" font-size="20" text-anchor="middle">66.3</text>
<line x1="442.00" y1="77.35" x2="442.00" y2="70.35" stroke="#000" stroke-width="1.6"/>
<text transform="translate(442.00,38.00) scale(1,1.04)" font-family="Liberation Sans" font-size="20" text-anchor="middle">67.1</text>
<text transform="translate(442.00,59.20) scale(1,1.04)" font-family="Liberation Sans" font-size="20" text-anchor="middle">67.1</text>
<line x1="507.20" y1="77.35" x2="507.20" y2="70.35" stroke="#000" stroke-width="1.6"/>
<text transform="translate(507.20,38.00) scale(1,1.04)" font-family="Liberation Sans" font-size="20" text-anchor="middle">68.1</text>
<text transform="translate(507.20,59.20) scale(1,1.04)" font-family="Liberation Sans" font-size="20" text-anchor="middle">68.2</text>
<line x1="572.40" y1="77.35" x2="572.40" y2="70.35" stroke="#000" stroke-width="1.6"/>
<text transform="translate(572.40,38.00) scale(1,1.04)" font-family="Liberation Sans" font-size="20" text-anchor="middle">68.9</text>
<text transform="translate(572.40,59.20) scale(1,1.04)" font-family="Liberation Sans" font-size="20" text-anchor="middle">68.9</text>
<line x1="637.60" y1="77.35" x2="637.60" y2="70.35" stroke="#000" stroke-width="1.6"/>
<text transform="translate(637.60,38.00) scale(1,1.04)" font-family="Liberation Sans" font-size="20" text-anchor="middle">70.8</text>
<text transform="translate(637.60,59.20) scale(1,1.04)" font-family="Liberation Sans" font-size="20" text-anchor="middle">71.2</text>
<text x="255.7" y="16.0" font-family="Liberation Sans" font-size="20" textLength="242.3" lengthAdjust="spacing">Mean sensing altitude (km)</text>
<text x="376.9" y="464.5" font-family="Liberation Sans" font-size="20" text-anchor="middle">Band</text>
<text transform="translate(15.9,244.2) rotate(-90)" font-family="Liberation Sans" font-size="20" text-anchor="middle">Amplitude (K)</text>
<rect x="470.1" y="85.2" width="205.2" height="90.3" rx="3.8" fill="#fff" fill-opacity="0.8" stroke="#000" stroke-opacity="0.8" stroke-width="1.6"/>
<polygon points="492.70,88.40 490.28,95.86 482.43,95.86 488.78,100.47 486.35,107.94 492.70,103.33 499.05,107.94 496.62,100.47 502.97,95.86 495.12,95.86" fill="#1f77b4" stroke="#000" stroke-width="2" stroke-linejoin="bevel"/>
<polygon points="492.70,111.40 490.28,118.86 482.43,118.86 488.78,123.47 486.35,130.94 492.70,126.33 499.05,130.94 496.62,123.47 502.97,118.86 495.12,118.86" fill="#ff7f0e" stroke="#000" stroke-width="2" stroke-linejoin="bevel"/>
<line x1="476.7" y1="154.1" x2="505.3" y2="154.1" stroke="#000" stroke-width="2" stroke-dasharray="7.44 3.215"/>
<circle cx="492.70" cy="154.10" r="6" fill="#000" stroke="#000" stroke-width="2"/>
<text transform="translate(521.40,102.60) scale(1,1.04)" font-family="Liberation Sans" font-size="16" textLength="130" lengthAdjust="spacing">2015/07/21–08/29</text>
<text transform="translate(521.40,125.80) scale(1,1.04)" font-family="Liberation Sans" font-size="16" textLength="130" lengthAdjust="spacing">2023/07/23–08/22</text>
<text x="521.7" y="148.5" font-family="Liberation Sans" font-size="16" textLength="142.1" lengthAdjust="spacing">Prediction based on</text>
<text x="526.1" y="165.7" font-family="Liberation Sans" font-size="16" textLength="137.0" lengthAdjust="spacing">Takagi et al. (2022)</text>
</svg>
</body></html>
